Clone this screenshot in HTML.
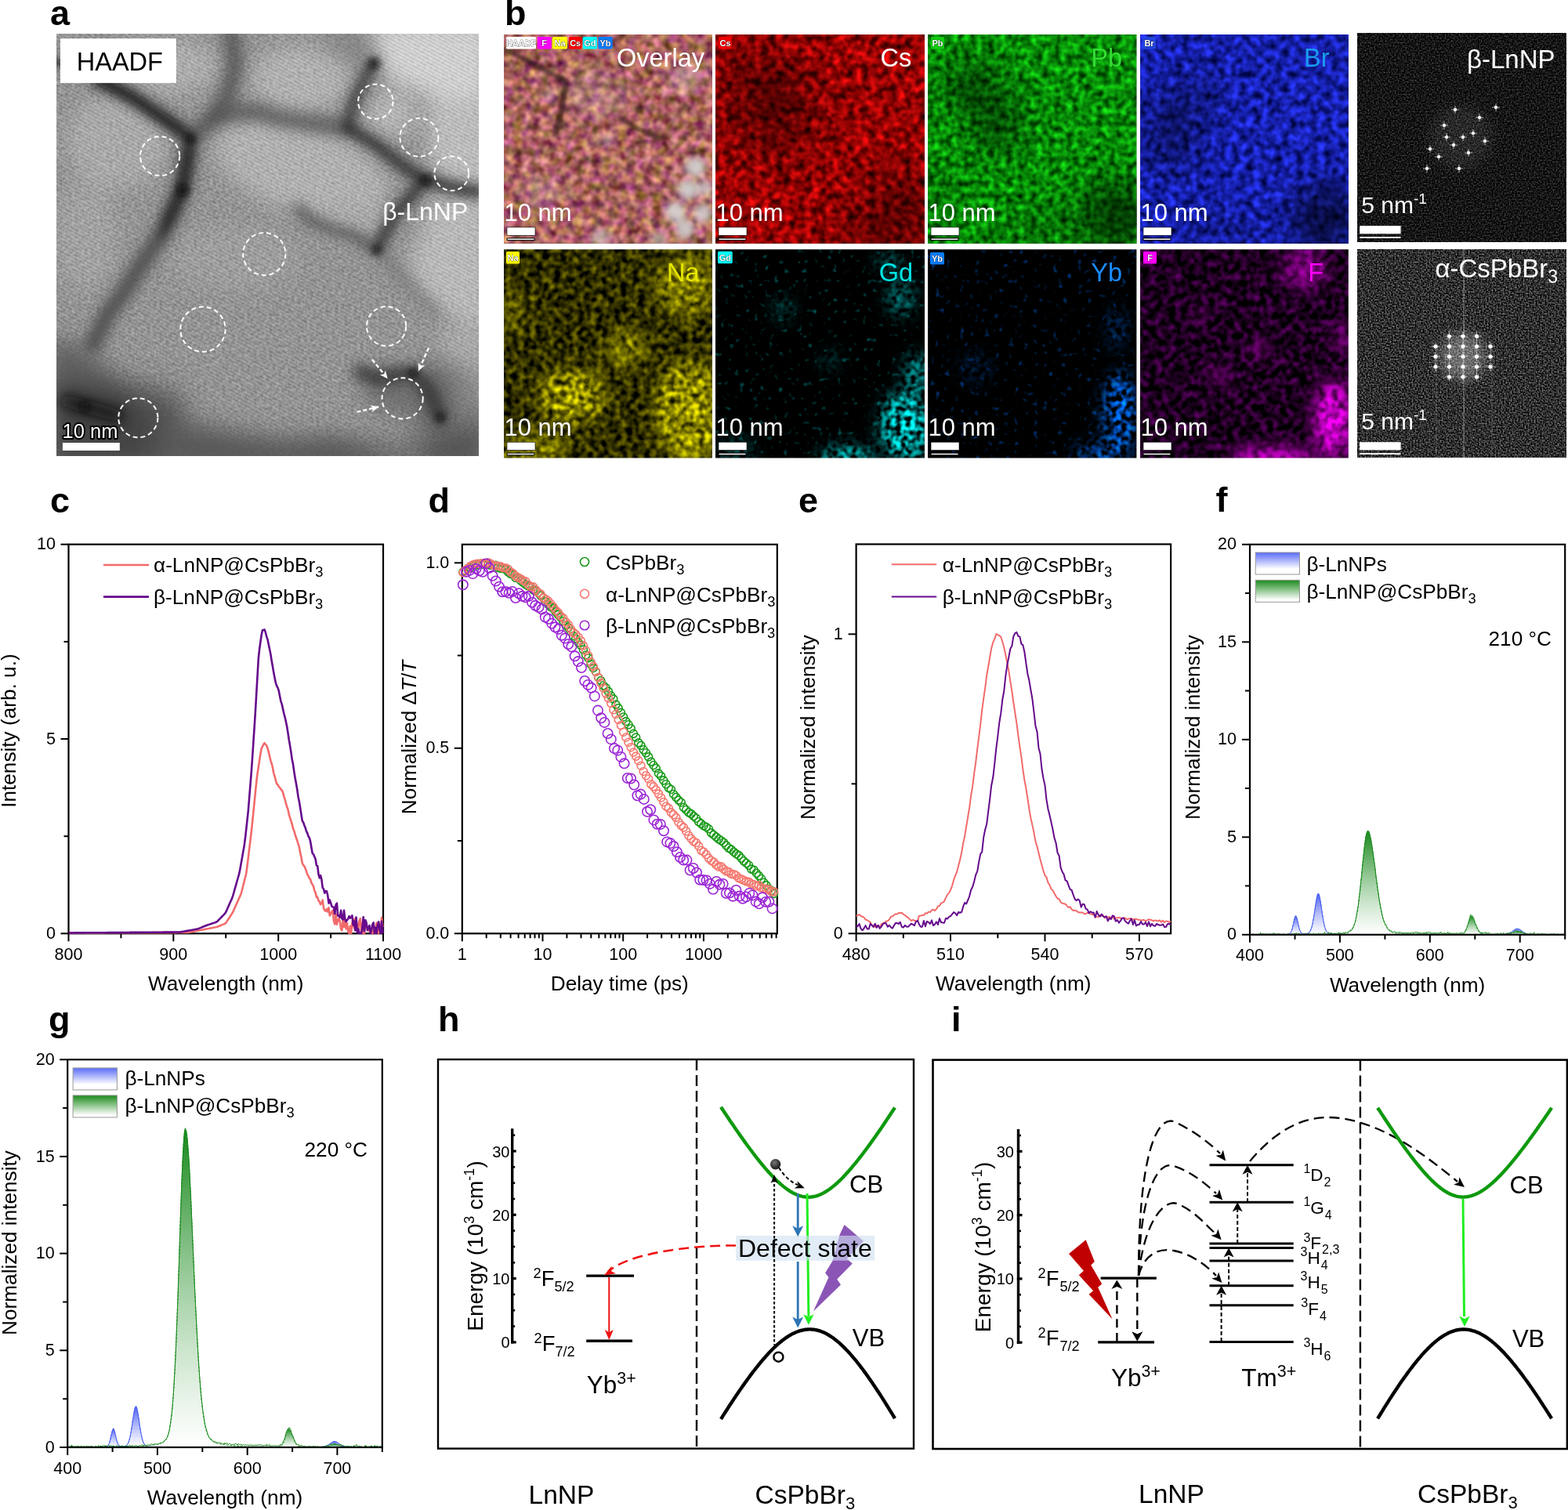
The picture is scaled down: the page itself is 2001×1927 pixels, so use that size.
<!DOCTYPE html>
<html><head><meta charset="utf-8"><title>Figure</title>
<style>html,body{margin:0;padding:0;background:#fff;}svg{display:block;}
text{font-family:"Liberation Sans", Arial, sans-serif;}</style></head>
<body><svg xmlns="http://www.w3.org/2000/svg" width="2001" height="1927" viewBox="0 0 2001 1927">
<rect width="2001" height="1927" fill="#fff"/>
<defs><clipPath id="clipA"><rect x="72.2" y="43.4" width="538.8" height="538.6"/></clipPath>
<filter id="nA" x="0" y="0" width="1" height="1" color-interpolation-filters="sRGB"><feTurbulence type="fractalNoise" baseFrequency="0.25" numOctaves="2" seed="4"/><feGaussianBlur stdDeviation="0.6"/><feColorMatrix type="matrix" values="0.4653 0 0 0 0.2693 0.4653 0 0 0 0.2693 0.4653 0 0 0 0.2693 0 0 0 0 1"/></filter>
<filter id="bA8" x="-50%" y="-50%" width="200%" height="200%"><feGaussianBlur stdDeviation="8"/></filter>
<filter id="bA4" x="-50%" y="-50%" width="200%" height="200%"><feGaussianBlur stdDeviation="4"/></filter>
<filter id="bA6" x="-50%" y="-50%" width="200%" height="200%"><feGaussianBlur stdDeviation="6"/></filter>
<filter id="bA12" x="-50%" y="-50%" width="200%" height="200%"><feGaussianBlur stdDeviation="12"/></filter>
<filter id="bA15" x="-50%" y="-50%" width="200%" height="200%"><feGaussianBlur stdDeviation="15"/></filter>
<pattern id="fringe" patternUnits="userSpaceOnUse" width="4.2" height="4.2" patternTransform="rotate(-62)"><rect width="4.2" height="4.2" fill="#fff" opacity="0"/><rect width="2" height="4.2" fill="#000" opacity="0.09"/></pattern>
<filter id="bB10" x="-50%" y="-50%" width="200%" height="200%"><feGaussianBlur stdDeviation="10"/></filter>
<filter id="bB3" x="-50%" y="-50%" width="200%" height="200%"><feGaussianBlur stdDeviation="2.5"/></filter>
<filter id="bB20" x="-50%" y="-50%" width="200%" height="200%"><feGaussianBlur stdDeviation="20"/></filter>
<filter id="bB30" x="-50%" y="-50%" width="200%" height="200%"><feGaussianBlur stdDeviation="30"/></filter>
<filter id="n0" x="0" y="0" width="1" height="1" color-interpolation-filters="sRGB"><feTurbulence type="fractalNoise" baseFrequency="0.09" numOctaves="2" seed="21"/><feGaussianBlur stdDeviation="1.2"/><feColorMatrix type="matrix" values="0.9970 0.0000 0.0000 0 0.1603 0.7976 0.3988 0.0000 0 -0.2139 0.6647 -0.2326 0.3323 0 -0.0136 0 0 0 0 1"/></filter>
<clipPath id="c0"><rect x="643" y="44" width="266" height="266.7"/></clipPath>
<filter id="n1" x="0" y="0" width="1" height="1" color-interpolation-filters="sRGB"><feTurbulence type="fractalNoise" baseFrequency="0.11" numOctaves="2" seed="31"/><feGaussianBlur stdDeviation="1.0"/><feColorMatrix type="matrix" values="1.5952 0 0 0 -0.2094 0.1329 0 0 0 -0.0508 0.1329 0 0 0 -0.0508 0 0 0 0 1"/></filter>
<clipPath id="c1"><rect x="913" y="44" width="267" height="266.7"/></clipPath>
<filter id="n2" x="0" y="0" width="1" height="1" color-interpolation-filters="sRGB"><feTurbulence type="fractalNoise" baseFrequency="0.13" numOctaves="2" seed="41"/><feGaussianBlur stdDeviation="1.0"/><feColorMatrix type="matrix" values="0.1994 0 0 0 -0.0683 1.3293 0 0 0 -0.1235 0.1994 0 0 0 -0.0683 0 0 0 0 1"/></filter>
<clipPath id="c2"><rect x="1184" y="44" width="266.4" height="266.7"/></clipPath>
<filter id="n3" x="0" y="0" width="1" height="1" color-interpolation-filters="sRGB"><feTurbulence type="fractalNoise" baseFrequency="0.11" numOctaves="2" seed="51"/><feGaussianBlur stdDeviation="1.0"/><feColorMatrix type="matrix" values="0.3323 0 0 0 -0.0799 0.3988 0 0 0 -0.0739 1.4955 0 0 0 -0.0811 0 0 0 0 1"/></filter>
<clipPath id="c3"><rect x="1455" y="44" width="265.8" height="266.7"/></clipPath>
<filter id="n4" x="0" y="0" width="1" height="1" color-interpolation-filters="sRGB"><feTurbulence type="fractalNoise" baseFrequency="0.13" numOctaves="2" seed="61"/><feGaussianBlur stdDeviation="1.0"/><feColorMatrix type="matrix" values="1.0635 0 0 0 -0.3435 0.9970 0 0 0 -0.3181 0.0000 0 0 0 0.0000 0 0 0 0 1"/></filter>
<clipPath id="c4"><rect x="643" y="318.2" width="266" height="266.3"/></clipPath>
<filter id="nd4" x="0" y="0" width="1" height="1" color-interpolation-filters="sRGB"><feTurbulence type="fractalNoise" baseFrequency="0.13" numOctaves="2" seed="62"/><feGaussianBlur stdDeviation="1.0"/><feColorMatrix type="matrix" values="1.9940 0 0 0 -0.4480 1.9276 0 0 0 -0.4344 0.0000 0 0 0 0.0000 0 0 0 0 1"/></filter>
<mask id="m4" maskUnits="userSpaceOnUse" x="643" y="318.2" width="266" height="266.3"><rect x="643" y="318.2" width="266" height="266.3" fill="#000"/><g filter="url(#bB10)"><ellipse cx="880" cy="525" rx="45" ry="65" fill="#fff" opacity="1.0"/><ellipse cx="730" cy="505" rx="45" ry="35" fill="#fff" opacity="1.0"/><ellipse cx="875" cy="365" rx="40" ry="40" fill="#fff" opacity="0.8"/><ellipse cx="680" cy="575" rx="45" ry="20" fill="#fff" opacity="0.85"/><ellipse cx="800" cy="445" rx="28" ry="22" fill="#fff" opacity="0.8"/><ellipse cx="650" cy="400" rx="20" ry="30" fill="#fff" opacity="0.5"/></g></mask>
<filter id="n5" x="0" y="0" width="1" height="1" color-interpolation-filters="sRGB"><feTurbulence type="fractalNoise" baseFrequency="0.16" numOctaves="2" seed="71"/><feGaussianBlur stdDeviation="1.0"/><feColorMatrix type="matrix" values="0.0000 0 0 0 0.0000 1.8278 0 0 0 -1.1100 1.8278 0 0 0 -1.1100 0 0 0 0 1"/></filter>
<clipPath id="c5"><rect x="913" y="318.2" width="267" height="266.3"/></clipPath>
<filter id="nd5" x="0" y="0" width="1" height="1" color-interpolation-filters="sRGB"><feTurbulence type="fractalNoise" baseFrequency="0.16" numOctaves="2" seed="72"/><feGaussianBlur stdDeviation="1.0"/><feColorMatrix type="matrix" values="0.0000 0 0 0 0.0000 3.3234 0 0 0 -1.1519 3.3234 0 0 0 -1.1519 0 0 0 0 1"/></filter>
<mask id="m5" maskUnits="userSpaceOnUse" x="913" y="318.2" width="267" height="266.3"><rect x="913" y="318.2" width="267" height="266.3" fill="#000"/><g filter="url(#bB10)"><ellipse cx="1155" cy="545" rx="32" ry="45" fill="#fff" opacity="1.0"/><ellipse cx="1080" cy="585" rx="35" ry="15" fill="#fff" opacity="0.9"/><ellipse cx="1170" cy="480" rx="15" ry="30" fill="#fff" opacity="0.7"/><ellipse cx="1150" cy="380" rx="18" ry="25" fill="#fff" opacity="0.5"/><ellipse cx="1135" cy="335" rx="15" ry="12" fill="#fff" opacity="0.5"/><ellipse cx="1000" cy="395" rx="12" ry="15" fill="#fff" opacity="0.4"/><ellipse cx="1060" cy="460" rx="12" ry="12" fill="#fff" opacity="0.3"/><ellipse cx="940" cy="575" rx="25" ry="12" fill="#fff" opacity="0.4"/></g></mask>
<filter id="n6" x="0" y="0" width="1" height="1" color-interpolation-filters="sRGB"><feTurbulence type="fractalNoise" baseFrequency="0.16" numOctaves="2" seed="81"/><feGaussianBlur stdDeviation="1.0"/><feColorMatrix type="matrix" values="0.0000 0 0 0 0.0000 0.9970 0 0 0 -0.5965 2.3264 0 0 0 -1.3985 0 0 0 0 1"/></filter>
<clipPath id="c6"><rect x="1184" y="318.2" width="266.4" height="266.3"/></clipPath>
<filter id="nd6" x="0" y="0" width="1" height="1" color-interpolation-filters="sRGB"><feTurbulence type="fractalNoise" baseFrequency="0.16" numOctaves="2" seed="82"/><feGaussianBlur stdDeviation="1.0"/><feColorMatrix type="matrix" values="0.0000 0 0 0 0.0000 1.8278 0 0 0 -0.6982 4.3204 0 0 0 -1.6504 0 0 0 0 1"/></filter>
<mask id="m6" maskUnits="userSpaceOnUse" x="1184" y="318.2" width="266.4" height="266.3"><rect x="1184" y="318.2" width="266.4" height="266.3" fill="#000"/><g filter="url(#bB10)"><ellipse cx="1430" cy="525" rx="22" ry="50" fill="#fff" opacity="1.0"/><ellipse cx="1405" cy="580" rx="35" ry="15" fill="#fff" opacity="0.8"/><ellipse cx="1425" cy="420" rx="12" ry="30" fill="#fff" opacity="0.4"/><ellipse cx="1245" cy="470" rx="20" ry="20" fill="#fff" opacity="0.25"/></g></mask>
<filter id="n7" x="0" y="0" width="1" height="1" color-interpolation-filters="sRGB"><feTurbulence type="fractalNoise" baseFrequency="0.12" numOctaves="2" seed="91"/><feGaussianBlur stdDeviation="1.0"/><feColorMatrix type="matrix" values="0.8641 0 0 0 -0.3222 0.0000 0 0 0 0.0000 0.9305 0 0 0 -0.3476 0 0 0 0 1"/></filter>
<clipPath id="c7"><rect x="1455" y="318.2" width="265.8" height="266.3"/></clipPath>
<filter id="nd7" x="0" y="0" width="1" height="1" color-interpolation-filters="sRGB"><feTurbulence type="fractalNoise" baseFrequency="0.12" numOctaves="2" seed="92"/><feGaussianBlur stdDeviation="1.0"/><feColorMatrix type="matrix" values="1.8278 0 0 0 -0.1688 0.0000 0 0 0 0.0000 1.8278 0 0 0 -0.1688 0 0 0 0 1"/></filter>
<mask id="m7" maskUnits="userSpaceOnUse" x="1455" y="318.2" width="265.8" height="266.3"><rect x="1455" y="318.2" width="265.8" height="266.3" fill="#000"/><g filter="url(#bB10)"><ellipse cx="1702" cy="535" rx="25" ry="50" fill="#fff" opacity="1.0"/><ellipse cx="1625" cy="585" rx="55" ry="14" fill="#fff" opacity="0.9"/><ellipse cx="1665" cy="345" rx="28" ry="25" fill="#fff" opacity="0.6"/><ellipse cx="1555" cy="480" rx="14" ry="13" fill="#fff" opacity="0.45"/><ellipse cx="1608" cy="445" rx="13" ry="13" fill="#fff" opacity="0.45"/><ellipse cx="1712" cy="430" rx="12" ry="20" fill="#fff" opacity="0.45"/><ellipse cx="1530" cy="400" rx="10" ry="10" fill="#fff" opacity="0.35"/></g></mask>
<filter id="nF0" x="0" y="0" width="1" height="1" color-interpolation-filters="sRGB"><feTurbulence type="fractalNoise" baseFrequency="0.5" numOctaves="1" seed="100"/><feGaussianBlur stdDeviation="0.4"/><feColorMatrix type="matrix" values="0.5982 0 0 0 -0.2128 0.5982 0 0 0 -0.2128 0.5982 0 0 0 -0.2128 0 0 0 0 1"/></filter>
<filter id="nF1" x="0" y="0" width="1" height="1" color-interpolation-filters="sRGB"><feTurbulence type="fractalNoise" baseFrequency="0.5" numOctaves="1" seed="101"/><feGaussianBlur stdDeviation="0.4"/><feColorMatrix type="matrix" values="0.9970 0 0 0 -0.3103 0.9970 0 0 0 -0.3103 0.9970 0 0 0 -0.3103 0 0 0 0 1"/></filter>
<clipPath id="sp5"><rect x="1595" y="692.8" width="402.2" height="500.5"/></clipPath>
<clipPath id="sp9"><rect x="86.2" y="1347" width="401.6" height="500.5"/></clipPath>
<linearGradient id="gb" x1="0" y1="0" x2="0" y2="1"><stop offset="0" stop-color="#4a5ef0"/><stop offset="1" stop-color="#fff" stop-opacity="0.6"/></linearGradient>
<linearGradient id="gg" x1="0" y1="0" x2="0" y2="1"><stop offset="0" stop-color="#16881a"/><stop offset="1" stop-color="#fff" stop-opacity="0.6"/></linearGradient>
<linearGradient id="gbl" x1="0" y1="0" x2="0" y2="1"><stop offset="0" stop-color="#5a6cf6"/><stop offset="0.75" stop-color="#fff"/></linearGradient>
<linearGradient id="ggl" x1="0" y1="0" x2="0" y2="1"><stop offset="0" stop-color="#1b8a1b"/><stop offset="0.9" stop-color="#fff"/></linearGradient></defs>
<text x="64" y="32" font-size="45" text-anchor="start" fill="#000" font-weight="bold" >a</text>
<g clip-path="url(#clipA)">
<rect x="72.2" y="43.4" width="538.8" height="538.6" fill="#9a9a9a"/>
<g filter="url(#bA12)"><path d="M470,30 L625,30 L625,140 L585,135 L545,120 L505,105 L482,85 Z" fill="#d8d8d8"/><path d="M545,125 L625,125 L625,240 L560,232 L548,200 Z" fill="#c4c4c4"/><path d="M555,250 L625,250 L625,420 L585,410 L540,380 L520,340 Z" fill="#c0c0c0"/><path d="M560,420 L625,420 L625,520 L590,530 L565,480 Z" fill="#b2b2b2"/><ellipse cx="500" cy="145" rx="32" ry="30" fill="#bcbcbc"/><ellipse cx="385" cy="100" rx="65" ry="42" fill="#b8b8b8"/><ellipse cx="385" cy="215" rx="115" ry="55" transform="rotate(18 385 215)" fill="#b8b8b8"/><ellipse cx="215" cy="85" rx="65" ry="35" fill="#b4b4b4"/><ellipse cx="150" cy="180" rx="65" ry="60" fill="#b0b0b0"/><ellipse cx="110" cy="300" rx="40" ry="70" fill="#a8a8a8"/><ellipse cx="450" cy="280" rx="45" ry="25" fill="#b0b0b0"/><ellipse cx="300" cy="330" rx="80" ry="40" fill="#a4a4a4"/></g>
<rect x="72.2" y="43.4" width="538.8" height="538.6" fill="url(#fringe)"/>
<rect x="72.2" y="43.4" width="538.8" height="538.6" filter="url(#nA)" style="mix-blend-mode:overlay" opacity="0.7"/>
<g filter="url(#bA15)"><path d="M60,430 L100,440 L140,470 L170,500 L220,530 L300,550 L360,560 L430,555 L480,570 L480,600 L60,600 Z" fill="#5a5a5a" opacity="0.9"/><path d="M60,480 L110,490 L160,520 L200,560 L200,600 L60,600 Z" fill="#404040" opacity="0.8"/><path d="M545,555 L625,540 L625,600 L545,600 Z" fill="#4a4a4a" opacity="0.8"/><path d="M400,43 L470,43 L478,80 L440,72 Z" fill="#7a7a7a" opacity="0.7"/><ellipse cx="495" cy="500" rx="30" ry="30" fill="#606060" opacity="0.7"/><ellipse cx="555" cy="500" rx="20" ry="40" fill="#606060" opacity="0.6"/><ellipse cx="570" cy="520" rx="55" ry="60" fill="#555" opacity="0.45"/><path d="M200,565 L400,560 L611,570 L611,600 L200,600 Z" fill="#505050" opacity="0.6"/><ellipse cx="160" cy="520" rx="80" ry="35" fill="#3a3a3a" opacity="0.55"/></g>
<g filter="url(#bA8)" fill="none" stroke-linecap="round" stroke-linejoin="round">
<path d="M125,102 L137,107 L172,126 L201,146 L229,165 L243,177" stroke="#202020" stroke-width="17.099999999999998" opacity="1"/>
<path d="M243,177 L238,210 L232,243 L220,270 L206,300" stroke="#252525" stroke-width="19.0" opacity="1"/>
<path d="M206,300 L185,330 L160,370 L138,400 L118,440" stroke="#505050" stroke-width="22.799999999999997" opacity="0.85"/>
<path d="M295,43 L300,80 L292,118 L272,151 L243,177" stroke="#4a4a4a" stroke-width="22.799999999999997" opacity="0.7"/>
<path d="M272,151 L300,143 L330,143 L357,151 L400,158 L443,163" stroke="#505050" stroke-width="22.799999999999997" opacity="0.7"/>
<path d="M443,163 L452,128 L466,100 L477,80" stroke="#3a3a3a" stroke-width="15.2" opacity="0.8"/>
<path d="M443,163 L480,185 L517,214 L543,229 L580,240 L611,245" stroke="#2e2e2e" stroke-width="15.2" opacity="0.85"/>
<path d="M543,229 L525,250 L505,272 L490,300 L481,319" stroke="#333" stroke-width="15.2" opacity="0.85"/>
<path d="M380,266 L395,280 L420,292 L450,300 L481,319" stroke="#444" stroke-width="13.299999999999999" opacity="0.8"/>
<path d="M481,319 L500,340 L527,369 L555,398" stroke="#666" stroke-width="15.2" opacity="0.5"/>
<path d="M85,512 L110,519 L150,530" stroke="#101010" stroke-width="15.2" opacity="0.9"/>
<path d="M460,475 L480,483 L500,480 L527,476 L545,495 L562,533" stroke="#2a2a2a" stroke-width="19.0" opacity="0.8"/>
</g>
<g filter="url(#bA4)" fill="none" stroke-linecap="round" stroke-linejoin="round">
<path d="M125,102 L137,107 L172,126 L201,146 L229,165 L243,177" stroke="#202020" stroke-width="7.2" opacity="0.6"/>
<path d="M243,177 L238,210 L232,243 L220,270 L206,300" stroke="#252525" stroke-width="8.0" opacity="0.6"/>
<path d="M206,300 L185,330 L160,370 L138,400 L118,440" stroke="#505050" stroke-width="9.600000000000001" opacity="0.51"/>
<path d="M443,163 L452,128 L466,100 L477,80" stroke="#3a3a3a" stroke-width="6.4" opacity="0.48"/>
<path d="M443,163 L480,185 L517,214 L543,229 L580,240 L611,245" stroke="#2e2e2e" stroke-width="6.4" opacity="0.51"/>
<path d="M543,229 L525,250 L505,272 L490,300 L481,319" stroke="#333" stroke-width="6.4" opacity="0.51"/>
</g>
<g filter="url(#bA4)" fill="#0c0c0c"><circle cx="477" cy="81" r="6"/><circle cx="543" cy="230" r="6"/><circle cx="481" cy="319" r="5"/><circle cx="243" cy="177" r="5"/><circle cx="233" cy="243" r="7"/><circle cx="562" cy="533" r="5"/><circle cx="527" cy="476" r="5"/><circle cx="108" cy="519" r="6"/><circle cx="75" cy="80" r="5"/></g>
</g>
<rect x="77" y="49.2" width="147.8" height="56.7" fill="#fff"/>
<text x="97.8" y="89.6" font-size="32.5" text-anchor="start" fill="#000" font-weight="normal" >HAADF</text>
<text x="488.2" y="280.8" font-size="32" text-anchor="start" fill="#fff" font-weight="normal" >&#946;-LnNP</text>
<circle cx="479.3" cy="129.6" r="22.2" fill="none" stroke="#fff" stroke-width="2" stroke-dasharray="6,4"/>
<circle cx="534.9" cy="175.3" r="24.5" fill="none" stroke="#fff" stroke-width="2" stroke-dasharray="6,4"/>
<circle cx="576.3" cy="221.4" r="21.9" fill="none" stroke="#fff" stroke-width="2" stroke-dasharray="6,4"/>
<circle cx="204.1" cy="199.2" r="25.1" fill="none" stroke="#fff" stroke-width="2" stroke-dasharray="6,4"/>
<circle cx="337.3" cy="324.2" r="27.1" fill="none" stroke="#fff" stroke-width="2" stroke-dasharray="6,4"/>
<circle cx="258.9" cy="420.2" r="28.7" fill="none" stroke="#fff" stroke-width="2" stroke-dasharray="6,4"/>
<circle cx="493.1" cy="416.3" r="25.1" fill="none" stroke="#fff" stroke-width="2" stroke-dasharray="6,4"/>
<circle cx="513.6" cy="508.4" r="26.1" fill="none" stroke="#fff" stroke-width="2" stroke-dasharray="6,4"/>
<circle cx="176.3" cy="533.2" r="25.1" fill="none" stroke="#fff" stroke-width="2" stroke-dasharray="6,4"/>
<line x1="475" y1="458.8" x2="494.7" y2="483.3" stroke="#fff" stroke-width="2.4" stroke-dasharray="5,3"/>
<path d="M494.7,483.3 L484.9,478.3 L490,477.5 L491.9,472.7 Z" fill="#fff"/>
<line x1="547" y1="444" x2="533.9" y2="473.5" stroke="#fff" stroke-width="2.4" stroke-dasharray="5,3"/>
<path d="M533.9,473.5 L533.8,462.5 L536.9,466.6 L542.1,466.2 Z" fill="#fff"/>
<line x1="455.5" y1="525.7" x2="483.3" y2="519.2" stroke="#fff" stroke-width="2.4" stroke-dasharray="5,3"/>
<path d="M483.3,519.2 L474.6,525.9 L476,520.9 L472.5,517.1 Z" fill="#fff"/>
<text x="79.5" y="559" font-size="25.5" fill="#fff" stroke="#000" stroke-width="4" stroke-linejoin="round" paint-order="stroke">10 nm</text>
<rect x="79.9" y="565" width="72.9" height="10" fill="#fff"/>
<text x="644" y="32" font-size="45" text-anchor="start" fill="#000" font-weight="bold" >b</text>
<g clip-path="url(#c0)">
<rect x="643" y="44" width="266" height="266.7" fill="#000"/>

<rect x="643" y="44" width="266" height="266.7" filter="url(#n0)"/>
<g filter="url(#bB10)"><ellipse cx="760" cy="120" rx="40" ry="30" fill="#e0c8d8" opacity="0.25"/><ellipse cx="690" cy="245" rx="25" ry="20" fill="#e0c8d8" opacity="0.3"/><ellipse cx="875" cy="100" rx="22" ry="18" fill="#e0c8d8" opacity="0.45"/></g><g filter="url(#bA4)" fill="#d4d4d4"><circle cx="887" cy="213" r="13" opacity="0.9"/><circle cx="878" cy="242" r="13" opacity="0.9"/><circle cx="862" cy="270" r="13" opacity="0.9"/><circle cx="874" cy="292" r="12" opacity="0.9"/><circle cx="897" cy="272" r="12" opacity="0.85"/><circle cx="900" cy="240" r="10" opacity="0.8"/><circle cx="767" cy="303" r="12" opacity="0.6"/><circle cx="840" cy="305" r="10" opacity="0.6"/><circle cx="700" cy="120" r="8" opacity="0.4"/><circle cx="775" cy="178" r="8" opacity="0.45"/></g><g filter="url(#bB3)" fill="none" stroke="#1a0a08" opacity="0.85" stroke-linecap="round"><path d="M643,62 C670,75 700,92 722,105 C720,125 716,145 709,171" stroke-width="5"/><path d="M722,105 C750,108 780,110 800,112" stroke-width="3" opacity="0.6"/><path d="M791,150 C805,160 825,170 844,178" stroke-width="4"/><path d="M844,178 C855,160 865,145 875,134" stroke-width="3" opacity="0.7"/></g>
</g>
<text x="899" y="85" font-size="32.5" text-anchor="end" fill="#fff" font-weight="normal" >Overlay</text>
<text x="643.5" y="282" font-size="31" text-anchor="start" fill="#fff" font-weight="normal" >10 nm</text>
<rect x="647" y="290" width="36" height="10.4" fill="#fff" stroke="#000" stroke-width="0.6"/>
<rect x="647" y="304" width="35" height="2.6" fill="#fff" stroke="#000" stroke-width="1"/>
<rect x="646" y="47" width="38" height="15.5" rx="1.5" fill="#fff"/>
<text x="665" y="59" font-size="11" font-weight="bold" text-anchor="middle" fill="#fff" stroke="#000" stroke-width="0.6" paint-order="stroke">HAADF</text>
<rect x="685.6" y="47" width="18" height="15.5" rx="1.5" fill="#ff00ff"/>
<text x="694.6" y="59" font-size="11" font-weight="bold" text-anchor="middle" fill="#fff" stroke="#000" stroke-width="0.6" paint-order="stroke">F</text>
<rect x="705" y="47" width="19" height="15.5" rx="1.5" fill="#ffff00"/>
<text x="714.5" y="59" font-size="11" font-weight="bold" text-anchor="middle" fill="#fff" stroke="#000" stroke-width="0.6" paint-order="stroke">Na</text>
<rect x="726" y="47" width="16.4" height="15.5" rx="1.5" fill="#ff0000"/>
<text x="734.2" y="59" font-size="11" font-weight="bold" text-anchor="middle" fill="#fff" stroke="#000" stroke-width="0.6" paint-order="stroke">Cs</text>
<rect x="743.8" y="47" width="18.2" height="15.5" rx="1.5" fill="#00ffff"/>
<text x="752.9" y="59" font-size="11" font-weight="bold" text-anchor="middle" fill="#fff" stroke="#000" stroke-width="0.6" paint-order="stroke">Gd</text>
<rect x="763.4" y="47" width="18.3" height="15.5" rx="1.5" fill="#0a7cff"/>
<text x="772.5" y="59" font-size="11" font-weight="bold" text-anchor="middle" fill="#fff" stroke="#000" stroke-width="0.6" paint-order="stroke">Yb</text>
<g clip-path="url(#c1)">
<rect x="913" y="44" width="267" height="266.7" fill="#000"/>

<rect x="913" y="44" width="267" height="266.7" filter="url(#n1)"/>
<g filter="url(#bB30)"><ellipse cx="990" cy="140" rx="45" ry="60" fill="#000" opacity="0.5"/><ellipse cx="960" cy="100" rx="40" ry="35" fill="#000" opacity="0.3"/><ellipse cx="1150" cy="270" rx="45" ry="55" fill="#000" opacity="0.45"/><ellipse cx="1100" cy="300" rx="60" ry="20" fill="#000" opacity="0.3"/></g>
</g>
<text x="1163.3" y="85" font-size="32.5" text-anchor="end" fill="#fff" font-weight="normal" >Cs</text>
<text x="913.5" y="282" font-size="31" text-anchor="start" fill="#fff" font-weight="normal" >10 nm</text>
<rect x="917" y="290" width="36" height="10.4" fill="#fff" stroke="#000" stroke-width="0.6"/>
<rect x="917" y="304" width="35" height="2.6" fill="#fff" stroke="#000" stroke-width="1"/>
<rect x="917" y="47" width="17" height="15.5" rx="1.5" fill="#ee0000"/>
<text x="925.5" y="59" font-size="11" font-weight="bold" text-anchor="middle" fill="#fff" stroke="#000" stroke-width="0.6" paint-order="stroke">Cs</text>
<g clip-path="url(#c2)">
<rect x="1184" y="44" width="266.4" height="266.7" fill="#000"/>

<rect x="1184" y="44" width="266.4" height="266.7" filter="url(#n2)"/>
<g filter="url(#bB20)"><ellipse cx="1240" cy="110" rx="35" ry="30" fill="#000" opacity="0.55"/><ellipse cx="1275" cy="160" rx="30" ry="35" fill="#000" opacity="0.55"/><ellipse cx="1425" cy="275" rx="45" ry="45" fill="#000" opacity="0.6"/><ellipse cx="1330" cy="290" rx="60" ry="20" fill="#000" opacity="0.25"/><ellipse cx="1200" cy="250" rx="25" ry="40" fill="#000" opacity="0.2"/></g>
</g>
<text x="1432" y="85" font-size="32.5" text-anchor="end" fill="#33dd33" font-weight="normal" >Pb</text>
<text x="1184.5" y="282" font-size="31" text-anchor="start" fill="#fff" font-weight="normal" >10 nm</text>
<rect x="1188" y="290" width="36" height="10.4" fill="#fff" stroke="#000" stroke-width="0.6"/>
<rect x="1188" y="304" width="35" height="2.6" fill="#fff" stroke="#000" stroke-width="1"/>
<rect x="1188" y="47" width="17" height="15.5" rx="1.5" fill="#11cc11"/>
<text x="1196.5" y="59" font-size="11" font-weight="bold" text-anchor="middle" fill="#fff" stroke="#000" stroke-width="0.6" paint-order="stroke">Pb</text>
<g clip-path="url(#c3)">
<rect x="1455" y="44" width="265.8" height="266.7" fill="#000"/>

<rect x="1455" y="44" width="265.8" height="266.7" filter="url(#n3)"/>
<g filter="url(#bB20)"><ellipse cx="1495" cy="170" rx="35" ry="50" fill="#000" opacity="0.4"/><ellipse cx="1690" cy="280" rx="40" ry="45" fill="#000" opacity="0.65"/><ellipse cx="1560" cy="300" rx="50" ry="20" fill="#000" opacity="0.25"/><ellipse cx="1530" cy="120" rx="30" ry="25" fill="#000" opacity="0.3"/></g>
</g>
<text x="1696.5" y="85" font-size="32.5" text-anchor="end" fill="#1a9cf0" font-weight="normal" >Br</text>
<text x="1455.5" y="282" font-size="31" text-anchor="start" fill="#fff" font-weight="normal" >10 nm</text>
<rect x="1459" y="290" width="36" height="10.4" fill="#fff" stroke="#000" stroke-width="0.6"/>
<rect x="1459" y="304" width="35" height="2.6" fill="#fff" stroke="#000" stroke-width="1"/>
<rect x="1458" y="47" width="17" height="15.5" rx="1.5" fill="#2244dd"/>
<text x="1466.5" y="59" font-size="11" font-weight="bold" text-anchor="middle" fill="#fff" stroke="#000" stroke-width="0.6" paint-order="stroke">Br</text>
<g clip-path="url(#c4)">
<rect x="643" y="318.2" width="266" height="266.3" fill="#000"/>

<rect x="643" y="318.2" width="266" height="266.3" filter="url(#n4)"/>
<rect x="643" y="318.2" width="266" height="266.3" filter="url(#nd4)" mask="url(#m4)" style="mix-blend-mode:lighten"/>

</g>
<text x="892.5" y="359.2" font-size="32.5" text-anchor="end" fill="#e6e600" font-weight="normal" >Na</text>
<text x="643.5" y="556.2" font-size="31" text-anchor="start" fill="#fff" font-weight="normal" >10 nm</text>
<rect x="647" y="564.2" width="36" height="10.4" fill="#fff" stroke="#000" stroke-width="0.6"/>
<rect x="647" y="578.2" width="35" height="2.6" fill="#fff" stroke="#000" stroke-width="1"/>
<rect x="646" y="321" width="17" height="15.5" rx="1.5" fill="#ffff00"/>
<text x="654.5" y="333" font-size="11" font-weight="bold" text-anchor="middle" fill="#fff" stroke="#000" stroke-width="0.6" paint-order="stroke">Na</text>
<g clip-path="url(#c5)">
<rect x="913" y="318.2" width="267" height="266.3" fill="#000"/>

<rect x="913" y="318.2" width="267" height="266.3" filter="url(#n5)"/>
<rect x="913" y="318.2" width="267" height="266.3" filter="url(#nd5)" mask="url(#m5)" style="mix-blend-mode:lighten"/>

</g>
<text x="1165" y="359.2" font-size="32.5" text-anchor="end" fill="#00e5e5" font-weight="normal" >Gd</text>
<text x="913.5" y="556.2" font-size="31" text-anchor="start" fill="#fff" font-weight="normal" >10 nm</text>
<rect x="917" y="564.2" width="36" height="10.4" fill="#fff" stroke="#000" stroke-width="0.6"/>
<rect x="917" y="578.2" width="35" height="2.6" fill="#fff" stroke="#000" stroke-width="1"/>
<rect x="916" y="320.8" width="18.7" height="15.5" rx="1.5" fill="#00ffff"/>
<text x="925.4" y="332.8" font-size="11" font-weight="bold" text-anchor="middle" fill="#fff" stroke="#000" stroke-width="0.6" paint-order="stroke">Gd</text>
<g clip-path="url(#c6)">
<rect x="1184" y="318.2" width="266.4" height="266.3" fill="#000"/>

<rect x="1184" y="318.2" width="266.4" height="266.3" filter="url(#n6)"/>
<rect x="1184" y="318.2" width="266.4" height="266.3" filter="url(#nd6)" mask="url(#m6)" style="mix-blend-mode:lighten"/>

</g>
<text x="1432" y="359.2" font-size="32.5" text-anchor="end" fill="#1a8cff" font-weight="normal" >Yb</text>
<text x="1184.5" y="556.2" font-size="31" text-anchor="start" fill="#fff" font-weight="normal" >10 nm</text>
<rect x="1188" y="564.2" width="36" height="10.4" fill="#fff" stroke="#000" stroke-width="0.6"/>
<rect x="1188" y="578.2" width="35" height="2.6" fill="#fff" stroke="#000" stroke-width="1"/>
<rect x="1187" y="322" width="18" height="15.5" rx="1.5" fill="#0a7cff"/>
<text x="1196" y="334" font-size="11" font-weight="bold" text-anchor="middle" fill="#fff" stroke="#000" stroke-width="0.6" paint-order="stroke">Yb</text>
<g clip-path="url(#c7)">
<rect x="1455" y="318.2" width="265.8" height="266.3" fill="#000"/>

<rect x="1455" y="318.2" width="265.8" height="266.3" filter="url(#n7)"/>
<rect x="1455" y="318.2" width="265.8" height="266.3" filter="url(#nd7)" mask="url(#m7)" style="mix-blend-mode:lighten"/>

</g>
<text x="1689" y="359.2" font-size="32.5" text-anchor="end" fill="#ff00ff" font-weight="normal" >F</text>
<text x="1455.5" y="556.2" font-size="31" text-anchor="start" fill="#fff" font-weight="normal" >10 nm</text>
<rect x="1459" y="564.2" width="36" height="10.4" fill="#fff" stroke="#000" stroke-width="0.6"/>
<rect x="1459" y="578.2" width="35" height="2.6" fill="#fff" stroke="#000" stroke-width="1"/>
<rect x="1459" y="321" width="17" height="15.5" rx="1.5" fill="#ff00ff"/>
<text x="1467.5" y="333" font-size="11" font-weight="bold" text-anchor="middle" fill="#fff" stroke="#000" stroke-width="0.6" paint-order="stroke">F</text>
<rect x="1732.2" y="42.2" width="266.8" height="266.4" filter="url(#nF0)"/>
<rect x="1735.2" y="288.2" width="52.4" height="10.2" fill="#fff"/>
<rect x="1735.2" y="302.2" width="52.4" height="1.8" fill="#fff"/>
<text x="1737.2" y="272.2" font-size="30" fill="#fff">5 nm<tspan font-size="19" dy="-12">-1</tspan></text>
<rect x="1732.2" y="318.2" width="266.8" height="265.8" filter="url(#nF1)"/>
<rect x="1735.2" y="564.2" width="52.4" height="10.2" fill="#fff"/>
<rect x="1735.2" y="578.2" width="52.4" height="1.8" fill="#fff"/>
<text x="1737.2" y="548.2" font-size="30" fill="#fff">5 nm<tspan font-size="19" dy="-12">-1</tspan></text>
<circle cx="1865" cy="175" r="40" fill="#fff" opacity="0.08" filter="url(#bA8)"/>
<circle cx="1843" cy="160" r="2.2" fill="#fff" opacity="0.9"/>
<path d="M1838,160 h10 M1843,155 v10" stroke="#fff" stroke-width="1" opacity="0.6"/>
<circle cx="1857" cy="140" r="2.2" fill="#fff" opacity="0.9"/>
<path d="M1852,140 h10 M1857,135 v10" stroke="#fff" stroke-width="1" opacity="0.6"/>
<circle cx="1867" cy="175" r="2.2" fill="#fff" opacity="0.9"/>
<path d="M1862,175 h10 M1867,170 v10" stroke="#fff" stroke-width="1" opacity="0.6"/>
<circle cx="1880" cy="170" r="2.2" fill="#fff" opacity="0.9"/>
<path d="M1875,170 h10 M1880,165 v10" stroke="#fff" stroke-width="1" opacity="0.6"/>
<circle cx="1888" cy="150" r="2.2" fill="#fff" opacity="0.9"/>
<path d="M1883,150 h10 M1888,145 v10" stroke="#fff" stroke-width="1" opacity="0.6"/>
<circle cx="1855" cy="185" r="2.2" fill="#fff" opacity="0.9"/>
<path d="M1850,185 h10 M1855,180 v10" stroke="#fff" stroke-width="1" opacity="0.6"/>
<circle cx="1874" cy="195" r="2.2" fill="#fff" opacity="0.9"/>
<path d="M1869,195 h10 M1874,190 v10" stroke="#fff" stroke-width="1" opacity="0.6"/>
<circle cx="1895" cy="180" r="2.2" fill="#fff" opacity="0.9"/>
<path d="M1890,180 h10 M1895,175 v10" stroke="#fff" stroke-width="1" opacity="0.6"/>
<circle cx="1825" cy="190" r="2.2" fill="#fff" opacity="0.9"/>
<path d="M1820,190 h10 M1825,185 v10" stroke="#fff" stroke-width="1" opacity="0.6"/>
<circle cx="1821" cy="215" r="2.2" fill="#fff" opacity="0.9"/>
<path d="M1816,215 h10 M1821,210 v10" stroke="#fff" stroke-width="1" opacity="0.6"/>
<circle cx="1909" cy="137" r="2.2" fill="#fff" opacity="0.9"/>
<path d="M1904,137 h10 M1909,132 v10" stroke="#fff" stroke-width="1" opacity="0.6"/>
<circle cx="1862" cy="215" r="2.2" fill="#fff" opacity="0.9"/>
<path d="M1857,215 h10 M1862,210 v10" stroke="#fff" stroke-width="1" opacity="0.6"/>
<circle cx="1836" cy="200" r="2.2" fill="#fff" opacity="0.9"/>
<path d="M1831,200 h10 M1836,195 v10" stroke="#fff" stroke-width="1" opacity="0.6"/>
<circle cx="1846" cy="175" r="2.2" fill="#fff" opacity="0.9"/>
<path d="M1841,175 h10 M1846,170 v10" stroke="#fff" stroke-width="1" opacity="0.6"/>
<circle cx="1867" cy="455" r="30" fill="#fff" opacity="0.3" filter="url(#bA8)"/>
<circle cx="1832.0" cy="442" r="2.6" fill="#fff"/>
<path d="M1826.0,442 h12 M1832.0,436 v12" stroke="#fff" stroke-width="1" opacity="0.5"/>
<circle cx="1832.0" cy="455" r="2.6" fill="#fff"/>
<path d="M1826.0,455 h12 M1832.0,449 v12" stroke="#fff" stroke-width="1" opacity="0.5"/>
<circle cx="1832.0" cy="468" r="2.6" fill="#fff"/>
<path d="M1826.0,468 h12 M1832.0,462 v12" stroke="#fff" stroke-width="1" opacity="0.5"/>
<circle cx="1849.5" cy="429" r="2.6" fill="#fff"/>
<path d="M1843.5,429 h12 M1849.5,423 v12" stroke="#fff" stroke-width="1" opacity="0.5"/>
<circle cx="1849.5" cy="442" r="2.6" fill="#fff"/>
<path d="M1843.5,442 h12 M1849.5,436 v12" stroke="#fff" stroke-width="1" opacity="0.5"/>
<circle cx="1849.5" cy="455" r="2.6" fill="#fff"/>
<path d="M1843.5,455 h12 M1849.5,449 v12" stroke="#fff" stroke-width="1" opacity="0.5"/>
<circle cx="1849.5" cy="468" r="2.6" fill="#fff"/>
<path d="M1843.5,468 h12 M1849.5,462 v12" stroke="#fff" stroke-width="1" opacity="0.5"/>
<circle cx="1849.5" cy="481" r="2.6" fill="#fff"/>
<path d="M1843.5,481 h12 M1849.5,475 v12" stroke="#fff" stroke-width="1" opacity="0.5"/>
<circle cx="1867.0" cy="429" r="2.6" fill="#fff"/>
<path d="M1861.0,429 h12 M1867.0,423 v12" stroke="#fff" stroke-width="1" opacity="0.5"/>
<circle cx="1867.0" cy="442" r="2.6" fill="#fff"/>
<path d="M1861.0,442 h12 M1867.0,436 v12" stroke="#fff" stroke-width="1" opacity="0.5"/>
<circle cx="1867.0" cy="455" r="2.6" fill="#fff"/>
<path d="M1861.0,455 h12 M1867.0,449 v12" stroke="#fff" stroke-width="1" opacity="0.5"/>
<circle cx="1867.0" cy="468" r="2.6" fill="#fff"/>
<path d="M1861.0,468 h12 M1867.0,462 v12" stroke="#fff" stroke-width="1" opacity="0.5"/>
<circle cx="1867.0" cy="481" r="2.6" fill="#fff"/>
<path d="M1861.0,481 h12 M1867.0,475 v12" stroke="#fff" stroke-width="1" opacity="0.5"/>
<circle cx="1884.5" cy="429" r="2.6" fill="#fff"/>
<path d="M1878.5,429 h12 M1884.5,423 v12" stroke="#fff" stroke-width="1" opacity="0.5"/>
<circle cx="1884.5" cy="442" r="2.6" fill="#fff"/>
<path d="M1878.5,442 h12 M1884.5,436 v12" stroke="#fff" stroke-width="1" opacity="0.5"/>
<circle cx="1884.5" cy="455" r="2.6" fill="#fff"/>
<path d="M1878.5,455 h12 M1884.5,449 v12" stroke="#fff" stroke-width="1" opacity="0.5"/>
<circle cx="1884.5" cy="468" r="2.6" fill="#fff"/>
<path d="M1878.5,468 h12 M1884.5,462 v12" stroke="#fff" stroke-width="1" opacity="0.5"/>
<circle cx="1884.5" cy="481" r="2.6" fill="#fff"/>
<path d="M1878.5,481 h12 M1884.5,475 v12" stroke="#fff" stroke-width="1" opacity="0.5"/>
<circle cx="1902.0" cy="442" r="2.6" fill="#fff"/>
<path d="M1896.0,442 h12 M1902.0,436 v12" stroke="#fff" stroke-width="1" opacity="0.5"/>
<circle cx="1902.0" cy="455" r="2.6" fill="#fff"/>
<path d="M1896.0,455 h12 M1902.0,449 v12" stroke="#fff" stroke-width="1" opacity="0.5"/>
<circle cx="1902.0" cy="468" r="2.6" fill="#fff"/>
<path d="M1896.0,468 h12 M1902.0,462 v12" stroke="#fff" stroke-width="1" opacity="0.5"/>
<line x1="1868" y1="318" x2="1868" y2="584" stroke="#fff" stroke-width="1" opacity="0.45"/>
<line x1="1833" y1="440" x2="1833" y2="584" stroke="#fff" stroke-width="1" opacity="0.2"/>
<line x1="1904" y1="440" x2="1904" y2="584" stroke="#fff" stroke-width="1" opacity="0.2"/>
<text x="1984.5" y="87" font-size="33" text-anchor="end" fill="#fff" font-weight="normal" >&#946;-LnNP</text>
<text x="1988" y="354" font-size="33" text-anchor="end" fill="#fff">&#945;-CsPbBr<tspan font-size="23" dy="7">3</tspan></text>
<text x="64" y="653.5" font-size="45" text-anchor="start" fill="#000" font-weight="bold" >c</text>
<rect x="87.5" y="694.7" width="401.5" height="496.6" fill="none" stroke="#000" stroke-width="2.2"/>
<line x1="87.5" y1="1191.3" x2="87.5" y2="1201.3" stroke="#000" stroke-width="2" />
<text x="87.5" y="1224.8" font-size="21.5" text-anchor="middle" fill="#000" font-weight="normal" >800</text>
<line x1="221.3" y1="1191.3" x2="221.3" y2="1201.3" stroke="#000" stroke-width="2" />
<text x="221.3" y="1224.8" font-size="21.5" text-anchor="middle" fill="#000" font-weight="normal" >900</text>
<line x1="355.2" y1="1191.3" x2="355.2" y2="1201.3" stroke="#000" stroke-width="2" />
<text x="355.2" y="1224.8" font-size="21.5" text-anchor="middle" fill="#000" font-weight="normal" >1000</text>
<line x1="489" y1="1191.3" x2="489" y2="1201.3" stroke="#000" stroke-width="2" />
<text x="489" y="1224.8" font-size="21.5" text-anchor="middle" fill="#000" font-weight="normal" >1100</text>
<line x1="154.4" y1="1191.3" x2="154.4" y2="1197.3" stroke="#000" stroke-width="2" />
<line x1="288.2" y1="1191.3" x2="288.2" y2="1197.3" stroke="#000" stroke-width="2" />
<line x1="422.1" y1="1191.3" x2="422.1" y2="1197.3" stroke="#000" stroke-width="2" />
<line x1="77.5" y1="1191.3" x2="87.5" y2="1191.3" stroke="#000" stroke-width="2" />
<text x="71" y="1197.9" font-size="21.5" text-anchor="end" fill="#000" font-weight="normal" >0</text>
<line x1="77.5" y1="943" x2="87.5" y2="943" stroke="#000" stroke-width="2" />
<text x="71" y="949.6" font-size="21.5" text-anchor="end" fill="#000" font-weight="normal" >5</text>
<line x1="77.5" y1="694.7" x2="87.5" y2="694.7" stroke="#000" stroke-width="2" />
<text x="71" y="701.3" font-size="21.5" text-anchor="end" fill="#000" font-weight="normal" >10</text>
<line x1="81.5" y1="1067.2" x2="87.5" y2="1067.2" stroke="#000" stroke-width="2" />
<line x1="81.5" y1="818.9" x2="87.5" y2="818.9" stroke="#000" stroke-width="2" />
<text x="288.2" y="1264.3" font-size="26.2" text-anchor="middle" fill="#000" font-weight="normal" >Wavelength (nm)</text>
<text x="0" y="0" font-size="26.2" text-anchor="middle" transform="translate(20,932.6) rotate(-90)">Intensity (arb. u.)</text>
<polyline points="88,1190.5 89.3,1190.5 90.6,1190.5 91.9,1190.5 93.2,1190.5 94.5,1190.5 95.8,1190.5 97.1,1190.5 98.4,1190.5 99.7,1190.5 101,1190.5 102.3,1190.5 103.6,1190.4 104.9,1190.4 106.2,1190.4 107.5,1190.4 108.8,1190.4 110.1,1190.4 111.4,1190.4 112.7,1190.4 114,1190.4 115.3,1190.4 116.6,1190.4 117.9,1190.4 119.2,1190.4 120.5,1190.4 121.8,1190.4 123.1,1190.4 124.4,1190.4 125.7,1190.4 127,1190.4 128.3,1190.4 129.6,1190.4 130.9,1190.4 132.2,1190.4 133.5,1190.3 134.8,1190.3 136.1,1190.3 137.4,1190.3 138.7,1190.3 140,1190.3 141.3,1190.3 142.6,1190.3 143.9,1190.3 145.2,1190.3 146.5,1190.3 147.8,1190.3 149.1,1190.3 150.4,1190.3 151.7,1190.3 153,1190.3 154.3,1190.3 155.6,1190.3 156.9,1190.3 158.2,1190.3 159.5,1190.3 160.8,1190.3 162.1,1190.3 163.4,1190.3 164.7,1190.2 166,1190.2 167.3,1190.2 168.6,1190.2 169.9,1190.2 171.2,1190.2 172.5,1190.2 173.8,1190.2 175.1,1190.2 176.4,1190.2 177.7,1190.2 179,1190.2 180.3,1190.2 181.6,1190.2 182.9,1190.2 184.2,1190.2 185.5,1190.2 186.8,1190.2 188.1,1190.2 189.4,1190.2 190.7,1190.2 192,1190.2 193.3,1190.2 194.6,1190.1 195.9,1190.1 197.2,1190.1 198.5,1190.1 199.8,1190.1 201.1,1190.1 202.4,1190.1 203.7,1190.1 205,1190.1 206.3,1190.1 207.6,1190.1 208.9,1190.1 210.2,1190.1 211.5,1190.1 212.8,1190.1 214.1,1190.1 215.4,1190.1 216.7,1190.1 218,1190.1 219.3,1190.1 220.6,1190.1 221.9,1190.1 223.2,1190.1 224.5,1190.1 225.8,1190 227.1,1190 228.4,1190 229.7,1190 231,1190 232.3,1190 233.6,1190 234.9,1190 236.2,1190 237.5,1190 238.8,1190 240.1,1190 241.4,1189.7 242.7,1189.5 244,1189.2 245.3,1189 246.6,1188.7 247.9,1188.5 249.2,1188.2 250.5,1188 251.8,1187.7 253.1,1187.5 254.4,1187.2 255.7,1187 257,1186.7 258.3,1186.5 259.6,1186.2 260.9,1186 262.2,1185.7 263.5,1185.5 264.8,1185.2 266.1,1185 267.4,1184.7 268.7,1184.5 270,1184.3 271.3,1184 272.6,1183.8 273.9,1183.5 275.2,1183.3 276.5,1183 277.8,1182.6 279.1,1182 280.4,1181.5 281.7,1181 283,1180.4 284.3,1179.9 285.6,1179.4 286.9,1178.9 288.2,1177.9 289.5,1175.9 290.8,1173.9 292.1,1172 293.4,1170 294.7,1168 296,1166.1 297.3,1163.7 298.6,1160.8 299.9,1157.9 301.2,1155 302.5,1152.1 303.8,1149.2 305.1,1146.3 306.4,1143.4 307.7,1140.5 309,1135.5 310.3,1130.3 311.6,1125.2 312.9,1120 314.2,1114.8 315.5,1105.3 316.8,1094.5 318.1,1083.7 319.4,1072.9 320.7,1062.1 322,1050 323.3,1037.1 324.6,1024.2 325.9,1011.2 327.2,998.3 328.5,987.4 329.8,979 331.1,970.6 332.4,962.2 333.7,955.1 335,952.6 336.3,950 337.6,948.2 338.9,950.1 340.2,951.4 341.5,954.8 342.8,959.6 344.1,965.4 345.4,970.6 346.7,974.5 348,979.6 349.3,986.8 350.6,990.6 351.9,995.8 353.2,1000.5 354.5,1001.2 355.8,1004 357.1,1005.1 358.4,1007.4 359.7,1008.2 361,1011.3 362.3,1016.2 363.6,1020 364.9,1025.2 366.2,1029.8 367.5,1033 368.8,1039.4 370.1,1043.7 371.4,1047.7 372.7,1051.5 374,1057.4 375.3,1060.3 376.6,1064.8 377.9,1069 379.2,1072.5 380.5,1076.9 381.8,1080.7 383.1,1088.1 384.4,1093.7 385.7,1101.3 387,1104.1 388.3,1105.2 389.6,1108.2 390.9,1111.3 392.2,1116 393.5,1117.7 394.8,1121.1 396.1,1122 397.4,1126.7 398.7,1128.5 400,1131.1 401.3,1136.2 402.6,1139.1 403.9,1145 405.2,1144.8 406.5,1149.4 407.8,1150.7 409.1,1154.3 410.4,1152.7 411.7,1148.6 413,1158.9 414.3,1161.8 415.6,1162.8 416.9,1160 418.2,1163.6 419.5,1158.2 420.8,1168.5 422.1,1166.4 423.4,1163.7 424.7,1161.8 426,1175.5 427.3,1179.3 428.6,1166.5 429.9,1179.6 431.2,1174.8 432.5,1171.9 433.8,1175.9 435.1,1185.2 436.4,1187.3 437.7,1172.4 439,1183 440.3,1172.4 441.6,1185.3 442.9,1178 444.2,1188.9 445.5,1191 446.8,1181.8 448.1,1191 449.4,1177.9 450.7,1173 452,1184.4 453.3,1172 454.6,1175.7 455.9,1180.5 457.2,1185.3 458.5,1174.9 459.8,1172.2 461.1,1191 462.4,1178.8 463.7,1191 465,1191 466.3,1180.6 467.6,1182.8 468.9,1184.4 470.2,1187.8 471.5,1186.7 472.8,1185.9 474.1,1187.7 475.4,1191 476.7,1184.9 478,1182.9 479.3,1191 480.6,1177.6 481.9,1179.5 483.2,1191 484.5,1186.2 485.8,1187.1 487.1,1171.1 488.4,1183.4" fill="none" stroke="#f26b6b" stroke-width="2.6" stroke-linejoin="round" />
<polyline points="88,1190.5 89.3,1190.5 90.6,1190.5 91.9,1190.5 93.2,1190.5 94.5,1190.5 95.8,1190.4 97.1,1190.4 98.4,1190.4 99.7,1190.4 101,1190.4 102.3,1190.4 103.6,1190.4 104.9,1190.4 106.2,1190.4 107.5,1190.4 108.8,1190.4 110.1,1190.3 111.4,1190.3 112.7,1190.3 114,1190.3 115.3,1190.3 116.6,1190.3 117.9,1190.3 119.2,1190.3 120.5,1190.3 121.8,1190.3 123.1,1190.3 124.4,1190.2 125.7,1190.2 127,1190.2 128.3,1190.2 129.6,1190.2 130.9,1190.2 132.2,1190.2 133.5,1190.2 134.8,1190.2 136.1,1190.2 137.4,1190.1 138.7,1190.1 140,1190.1 141.3,1190.1 142.6,1190.1 143.9,1190.1 145.2,1190.1 146.5,1190.1 147.8,1190.1 149.1,1190.1 150.4,1190.1 151.7,1190 153,1190 154.3,1190 155.6,1190 156.9,1190 158.2,1190 159.5,1190 160.8,1190 162.1,1190 163.4,1190 164.7,1190 166,1189.9 167.3,1189.9 168.6,1189.9 169.9,1189.9 171.2,1189.9 172.5,1189.9 173.8,1189.9 175.1,1189.9 176.4,1189.9 177.7,1189.9 179,1189.9 180.3,1189.8 181.6,1189.8 182.9,1189.8 184.2,1189.8 185.5,1189.8 186.8,1189.8 188.1,1189.8 189.4,1189.8 190.7,1189.8 192,1189.8 193.3,1189.8 194.6,1189.7 195.9,1189.7 197.2,1189.7 198.5,1189.7 199.8,1189.7 201.1,1189.7 202.4,1189.7 203.7,1189.7 205,1189.7 206.3,1189.7 207.6,1189.7 208.9,1189.6 210.2,1189.6 211.5,1189.6 212.8,1189.6 214.1,1189.6 215.4,1189.6 216.7,1189.6 218,1189.6 219.3,1189.6 220.6,1189.6 221.9,1189.6 223.2,1189.5 224.5,1189.5 225.8,1189.5 227.1,1189.5 228.4,1189.5 229.7,1189.5 231,1189.3 232.3,1189.1 233.6,1188.9 234.9,1188.6 236.2,1188.4 237.5,1188.1 238.8,1187.9 240.1,1187.7 241.4,1187.4 242.7,1187.2 244,1187 245.3,1186.7 246.6,1186.5 247.9,1186.3 249.2,1186 250.5,1185.8 251.8,1185.6 253.1,1185.1 254.4,1184.6 255.7,1184.1 257,1183.6 258.3,1183 259.6,1182.5 260.9,1182 262.2,1181.5 263.5,1181 264.8,1180.5 266.1,1180.1 267.4,1179.6 268.7,1179.2 270,1178.8 271.3,1178.3 272.6,1177.9 273.9,1177.4 275.2,1177 276.5,1176.6 277.8,1175.4 279.1,1174 280.4,1172.7 281.7,1171.3 283,1170 284.3,1168.6 285.6,1167.3 286.9,1165.9 288.2,1164.1 289.5,1161.2 290.8,1158.3 292.1,1155.3 293.4,1152.4 294.7,1149.5 296,1146.6 297.3,1142.9 298.6,1138.3 299.9,1133.7 301.2,1129.1 302.5,1124.5 303.8,1120 305.1,1115.4 306.4,1109.1 307.7,1101.8 309,1094.4 310.3,1087.1 311.6,1079.7 312.9,1070.3 314.2,1058.5 315.5,1046.7 316.8,1034.6 318.1,1018.5 319.4,1002.4 320.7,986.4 322,968.1 323.3,948.4 324.6,928.7 325.9,908.3 327.2,885.8 328.5,863.3 329.8,840.8 331.1,828.5 332.4,819.3 333.7,810.2 335,804.3 336.3,803.9 337.6,803.5 338.9,807.2 340.2,812.4 341.5,816.1 342.8,822.5 344.1,828.8 345.4,834.9 346.7,843.6 348,850.7 349.3,858.6 350.6,865.2 351.9,871.6 353.2,875.5 354.5,877.6 355.8,881.7 357.1,888.6 358.4,894.8 359.7,898.6 361,904.6 362.3,910.4 363.6,915.3 364.9,920.9 366.2,927.3 367.5,935.5 368.8,944.2 370.1,951.6 371.4,959.9 372.7,969 374,975.3 375.3,984.6 376.6,992.8 377.9,999.6 379.2,1007.2 380.5,1016.4 381.8,1022.8 383.1,1030.5 384.4,1038.9 385.7,1047.4 387,1049.2 388.3,1053 389.6,1056.2 390.9,1060.7 392.2,1063 393.5,1067.2 394.8,1069.1 396.1,1073.7 397.4,1081.5 398.7,1088.9 400,1090.2 401.3,1093.2 402.6,1096.2 403.9,1104.4 405.2,1105.1 406.5,1115.8 407.8,1120.4 409.1,1117.2 410.4,1122.4 411.7,1132.8 413,1134.6 414.3,1139.8 415.6,1137.1 416.9,1137.3 418.2,1142.5 419.5,1152.6 420.8,1148.4 422.1,1152.5 423.4,1156.6 424.7,1157.4 426,1157.7 427.3,1166.3 428.6,1154.6 429.9,1152.6 431.2,1168.6 432.5,1168.2 433.8,1170.7 435.1,1161.9 436.4,1172.5 437.7,1173.5 439,1161.8 440.3,1172.9 441.6,1176.1 442.9,1174.1 444.2,1172.6 445.5,1169.3 446.8,1171.6 448.1,1170.4 449.4,1168.3 450.7,1180.6 452,1175.4 453.3,1187.4 454.6,1170.6 455.9,1190.1 457.2,1185.6 458.5,1191 459.8,1190.9 461.1,1191 462.4,1183.8 463.7,1170.2 465,1188.4 466.3,1174.3 467.6,1177.6 468.9,1187.1 470.2,1183.8 471.5,1181 472.8,1191 474.1,1186.7 475.4,1179.6 476.7,1177.3 478,1191 479.3,1183.9 480.6,1191 481.9,1180.6 483.2,1176.3 484.5,1186.3 485.8,1191 487.1,1175.8 488.4,1191" fill="none" stroke="#650a8c" stroke-width="2.6" stroke-linejoin="round" />
<line x1="132" y1="721" x2="190" y2="721" stroke="#f26b6b" stroke-width="2.6" />
<line x1="132" y1="761.6" x2="190" y2="761.6" stroke="#650a8c" stroke-width="2.6" />
<text x="196" y="730" font-size="26.2" text-anchor="start" fill="#000" font-weight="normal" >&#945;-LnNP@CsPbBr<tspan font-size="18.3" dy="6">3</tspan></text>
<text x="196" y="770.5" font-size="26.2" text-anchor="start" fill="#000" font-weight="normal" >&#946;-LnNP@CsPbBr<tspan font-size="18.3" dy="6">3</tspan></text>
<text x="546.5" y="653.5" font-size="45" text-anchor="start" fill="#000" font-weight="bold" >d</text>
<rect x="589.8" y="694.8" width="402" height="496.5" fill="none" stroke="#000" stroke-width="2.2"/>
<line x1="589.8" y1="1191.3" x2="589.8" y2="1201.3" stroke="#000" stroke-width="2" />
<text x="589.8" y="1224.8" font-size="21.5" text-anchor="middle" fill="#000" font-weight="normal" >1</text>
<line x1="692.5" y1="1191.3" x2="692.5" y2="1201.3" stroke="#000" stroke-width="2" />
<text x="692.5" y="1224.8" font-size="21.5" text-anchor="middle" fill="#000" font-weight="normal" >10</text>
<line x1="795.2" y1="1191.3" x2="795.2" y2="1201.3" stroke="#000" stroke-width="2" />
<text x="795.2" y="1224.8" font-size="21.5" text-anchor="middle" fill="#000" font-weight="normal" >100</text>
<line x1="897.9" y1="1191.3" x2="897.9" y2="1201.3" stroke="#000" stroke-width="2" />
<text x="897.9" y="1224.8" font-size="21.5" text-anchor="middle" fill="#000" font-weight="normal" >1000</text>
<line x1="620.7" y1="1191.3" x2="620.7" y2="1197.3" stroke="#000" stroke-width="2" />
<line x1="638.8" y1="1191.3" x2="638.8" y2="1197.3" stroke="#000" stroke-width="2" />
<line x1="651.6" y1="1191.3" x2="651.6" y2="1197.3" stroke="#000" stroke-width="2" />
<line x1="661.6" y1="1191.3" x2="661.6" y2="1197.3" stroke="#000" stroke-width="2" />
<line x1="669.7" y1="1191.3" x2="669.7" y2="1197.3" stroke="#000" stroke-width="2" />
<line x1="676.6" y1="1191.3" x2="676.6" y2="1197.3" stroke="#000" stroke-width="2" />
<line x1="682.5" y1="1191.3" x2="682.5" y2="1197.3" stroke="#000" stroke-width="2" />
<line x1="687.8" y1="1191.3" x2="687.8" y2="1197.3" stroke="#000" stroke-width="2" />
<line x1="723.4" y1="1191.3" x2="723.4" y2="1197.3" stroke="#000" stroke-width="2" />
<line x1="741.5" y1="1191.3" x2="741.5" y2="1197.3" stroke="#000" stroke-width="2" />
<line x1="754.3" y1="1191.3" x2="754.3" y2="1197.3" stroke="#000" stroke-width="2" />
<line x1="764.3" y1="1191.3" x2="764.3" y2="1197.3" stroke="#000" stroke-width="2" />
<line x1="772.4" y1="1191.3" x2="772.4" y2="1197.3" stroke="#000" stroke-width="2" />
<line x1="779.3" y1="1191.3" x2="779.3" y2="1197.3" stroke="#000" stroke-width="2" />
<line x1="785.2" y1="1191.3" x2="785.2" y2="1197.3" stroke="#000" stroke-width="2" />
<line x1="790.5" y1="1191.3" x2="790.5" y2="1197.3" stroke="#000" stroke-width="2" />
<line x1="826.1" y1="1191.3" x2="826.1" y2="1197.3" stroke="#000" stroke-width="2" />
<line x1="844.2" y1="1191.3" x2="844.2" y2="1197.3" stroke="#000" stroke-width="2" />
<line x1="857" y1="1191.3" x2="857" y2="1197.3" stroke="#000" stroke-width="2" />
<line x1="867" y1="1191.3" x2="867" y2="1197.3" stroke="#000" stroke-width="2" />
<line x1="875.1" y1="1191.3" x2="875.1" y2="1197.3" stroke="#000" stroke-width="2" />
<line x1="882" y1="1191.3" x2="882" y2="1197.3" stroke="#000" stroke-width="2" />
<line x1="887.9" y1="1191.3" x2="887.9" y2="1197.3" stroke="#000" stroke-width="2" />
<line x1="893.2" y1="1191.3" x2="893.2" y2="1197.3" stroke="#000" stroke-width="2" />
<line x1="928.8" y1="1191.3" x2="928.8" y2="1197.3" stroke="#000" stroke-width="2" />
<line x1="946.9" y1="1191.3" x2="946.9" y2="1197.3" stroke="#000" stroke-width="2" />
<line x1="959.7" y1="1191.3" x2="959.7" y2="1197.3" stroke="#000" stroke-width="2" />
<line x1="969.7" y1="1191.3" x2="969.7" y2="1197.3" stroke="#000" stroke-width="2" />
<line x1="977.8" y1="1191.3" x2="977.8" y2="1197.3" stroke="#000" stroke-width="2" />
<line x1="984.7" y1="1191.3" x2="984.7" y2="1197.3" stroke="#000" stroke-width="2" />
<line x1="990.6" y1="1191.3" x2="990.6" y2="1197.3" stroke="#000" stroke-width="2" />
<line x1="579.8" y1="1191.3" x2="589.8" y2="1191.3" stroke="#000" stroke-width="2" />
<text x="573.3" y="1197.9" font-size="21.5" text-anchor="end" fill="#000" font-weight="normal" >0.0</text>
<line x1="579.8" y1="954.8" x2="589.8" y2="954.8" stroke="#000" stroke-width="2" />
<text x="573.3" y="961.4" font-size="21.5" text-anchor="end" fill="#000" font-weight="normal" >0.5</text>
<line x1="579.8" y1="718.3" x2="589.8" y2="718.3" stroke="#000" stroke-width="2" />
<text x="573.3" y="724.9" font-size="21.5" text-anchor="end" fill="#000" font-weight="normal" >1.0</text>
<line x1="583.8" y1="1073" x2="589.8" y2="1073" stroke="#000" stroke-width="2" />
<line x1="583.8" y1="836.5" x2="589.8" y2="836.5" stroke="#000" stroke-width="2" />
<text x="790.8" y="1264.3" font-size="26.2" text-anchor="middle" fill="#000" font-weight="normal" >Delay time (ps)</text>
<text x="0" y="0" font-size="26.2" text-anchor="middle" transform="translate(531,941) rotate(-90)">Normalized &#916;<tspan font-style="italic">T</tspan>/<tspan font-style="italic">T</tspan></text>
<g fill="none" stroke="#1a9a1a" stroke-width="1.6"><circle cx="590.8" cy="730" r="5"/><circle cx="594" cy="728.5" r="5"/><circle cx="597.2" cy="725.2" r="5"/><circle cx="600.4" cy="724.8" r="5"/><circle cx="603.6" cy="721.5" r="5"/><circle cx="606.8" cy="720.8" r="5"/><circle cx="610" cy="721.2" r="5"/><circle cx="613.2" cy="719.4" r="5"/><circle cx="616.4" cy="720.3" r="5"/><circle cx="619.6" cy="718.6" r="5"/><circle cx="622.8" cy="720.3" r="5"/><circle cx="626" cy="721.3" r="5"/><circle cx="629.2" cy="721.5" r="5"/><circle cx="632.4" cy="721.4" r="5"/><circle cx="635.6" cy="724.5" r="5"/><circle cx="638.8" cy="725.4" r="5"/><circle cx="642" cy="725.6" r="5"/><circle cx="645.2" cy="726.7" r="5"/><circle cx="648.4" cy="729.9" r="5"/><circle cx="651.6" cy="732.4" r="5"/><circle cx="654.8" cy="732.8" r="5"/><circle cx="658" cy="737.5" r="5"/><circle cx="661.2" cy="737.3" r="5"/><circle cx="664.4" cy="741" r="5"/><circle cx="667.6" cy="743.5" r="5"/><circle cx="670.8" cy="746" r="5"/><circle cx="674" cy="747.8" r="5"/><circle cx="677.2" cy="748.7" r="5"/><circle cx="680.4" cy="752.9" r="5"/><circle cx="683.6" cy="754.1" r="5"/><circle cx="686.8" cy="756.3" r="5"/><circle cx="690" cy="760.1" r="5"/><circle cx="693.2" cy="763" r="5"/><circle cx="696.4" cy="767.9" r="5"/><circle cx="699.6" cy="771.3" r="5"/><circle cx="702.8" cy="774.3" r="5"/><circle cx="706" cy="776.4" r="5"/><circle cx="709.2" cy="780.6" r="5"/><circle cx="712.4" cy="784.4" r="5"/><circle cx="715.6" cy="787.9" r="5"/><circle cx="718.8" cy="792.8" r="5"/><circle cx="722" cy="797.8" r="5"/><circle cx="725.2" cy="800.9" r="5"/><circle cx="728.4" cy="805.7" r="5"/><circle cx="731.6" cy="811.5" r="5"/><circle cx="734.8" cy="815.1" r="5"/><circle cx="738" cy="819.8" r="5"/><circle cx="741.2" cy="823.3" r="5"/><circle cx="744.4" cy="829.1" r="5"/><circle cx="747.6" cy="836" r="5"/><circle cx="750.8" cy="839.7" r="5"/><circle cx="754" cy="847.7" r="5"/><circle cx="757.2" cy="852.5" r="5"/><circle cx="760.4" cy="857.2" r="5"/><circle cx="763.6" cy="864.5" r="5"/><circle cx="766.8" cy="868.6" r="5"/><circle cx="770" cy="874.8" r="5"/><circle cx="773.2" cy="877.8" r="5"/><circle cx="776.4" cy="882.4" r="5"/><circle cx="779.6" cy="887.8" r="5"/><circle cx="782.8" cy="891.9" r="5"/><circle cx="786" cy="899.1" r="5"/><circle cx="789.2" cy="903.6" r="5"/><circle cx="792.4" cy="909.4" r="5"/><circle cx="795.6" cy="915" r="5"/><circle cx="798.8" cy="920.6" r="5"/><circle cx="802" cy="924.8" r="5"/><circle cx="805.2" cy="929.7" r="5"/><circle cx="808.4" cy="936.3" r="5"/><circle cx="811.6" cy="941" r="5"/><circle cx="814.8" cy="947.9" r="5"/><circle cx="818" cy="951.4" r="5"/><circle cx="821.2" cy="956.8" r="5"/><circle cx="824.4" cy="960.8" r="5"/><circle cx="827.6" cy="965.9" r="5"/><circle cx="830.8" cy="972.1" r="5"/><circle cx="834" cy="976.5" r="5"/><circle cx="837.2" cy="980.4" r="5"/><circle cx="840.4" cy="986.9" r="5"/><circle cx="843.6" cy="990.4" r="5"/><circle cx="846.8" cy="995.9" r="5"/><circle cx="850" cy="1000.7" r="5"/><circle cx="853.2" cy="1005.3" r="5"/><circle cx="856.4" cy="1007.5" r="5"/><circle cx="859.6" cy="1013.5" r="5"/><circle cx="862.8" cy="1017.4" r="5"/><circle cx="866" cy="1021.1" r="5"/><circle cx="869.2" cy="1024" r="5"/><circle cx="872.4" cy="1030.4" r="5"/><circle cx="875.6" cy="1033.5" r="5"/><circle cx="878.8" cy="1036.8" r="5"/><circle cx="882" cy="1038.6" r="5"/><circle cx="885.2" cy="1041.6" r="5"/><circle cx="888.4" cy="1044.2" r="5"/><circle cx="891.6" cy="1048.7" r="5"/><circle cx="894.8" cy="1051.1" r="5"/><circle cx="898" cy="1054" r="5"/><circle cx="901.2" cy="1055.3" r="5"/><circle cx="904.4" cy="1057.8" r="5"/><circle cx="907.6" cy="1062.9" r="5"/><circle cx="910.8" cy="1065.5" r="5"/><circle cx="914" cy="1068.1" r="5"/><circle cx="917.2" cy="1070.8" r="5"/><circle cx="920.4" cy="1072.8" r="5"/><circle cx="923.6" cy="1075.2" r="5"/><circle cx="926.8" cy="1078.9" r="5"/><circle cx="930" cy="1082.3" r="5"/><circle cx="933.2" cy="1084.1" r="5"/><circle cx="936.4" cy="1087.2" r="5"/><circle cx="939.6" cy="1089.7" r="5"/><circle cx="942.8" cy="1091.6" r="5"/><circle cx="946" cy="1095.3" r="5"/><circle cx="949.2" cy="1098.8" r="5"/><circle cx="952.4" cy="1101.5" r="5"/><circle cx="955.6" cy="1104.3" r="5"/><circle cx="958.8" cy="1109.1" r="5"/><circle cx="962" cy="1110.2" r="5"/><circle cx="965.2" cy="1114.2" r="5"/><circle cx="968.4" cy="1117.6" r="5"/><circle cx="971.6" cy="1121.5" r="5"/><circle cx="974.8" cy="1126.3" r="5"/><circle cx="978" cy="1129.9" r="5"/><circle cx="981.2" cy="1134.4" r="5"/><circle cx="984.4" cy="1136.6" r="5"/><circle cx="987.6" cy="1140.4" r="5"/></g>
<g fill="none" stroke="#f5776e" stroke-width="1.6"><circle cx="590.8" cy="730.6" r="5"/><circle cx="594" cy="727.7" r="5"/><circle cx="597.2" cy="725.4" r="5"/><circle cx="600.4" cy="722.4" r="5"/><circle cx="603.6" cy="720.8" r="5"/><circle cx="606.8" cy="719.7" r="5"/><circle cx="610" cy="719.3" r="5"/><circle cx="613.2" cy="719.4" r="5"/><circle cx="616.4" cy="718.7" r="5"/><circle cx="619.6" cy="719.6" r="5"/><circle cx="622.8" cy="717.7" r="5"/><circle cx="626" cy="719.2" r="5"/><circle cx="629.2" cy="721.3" r="5"/><circle cx="632.4" cy="721.7" r="5"/><circle cx="635.6" cy="722.2" r="5"/><circle cx="638.8" cy="722.9" r="5"/><circle cx="642" cy="724.6" r="5"/><circle cx="645.2" cy="724.7" r="5"/><circle cx="648.4" cy="726.3" r="5"/><circle cx="651.6" cy="729.9" r="5"/><circle cx="654.8" cy="731.9" r="5"/><circle cx="658" cy="735.1" r="5"/><circle cx="661.2" cy="737.1" r="5"/><circle cx="664.4" cy="738.5" r="5"/><circle cx="667.6" cy="740.9" r="5"/><circle cx="670.8" cy="741.8" r="5"/><circle cx="674" cy="746.2" r="5"/><circle cx="677.2" cy="749.1" r="5"/><circle cx="680.4" cy="748.9" r="5"/><circle cx="683.6" cy="752.6" r="5"/><circle cx="686.8" cy="756.2" r="5"/><circle cx="690" cy="758.1" r="5"/><circle cx="693.2" cy="762.9" r="5"/><circle cx="696.4" cy="764.8" r="5"/><circle cx="699.6" cy="766.8" r="5"/><circle cx="702.8" cy="770.5" r="5"/><circle cx="706" cy="774.3" r="5"/><circle cx="709.2" cy="778.8" r="5"/><circle cx="712.4" cy="781.9" r="5"/><circle cx="715.6" cy="786.4" r="5"/><circle cx="718.8" cy="788.9" r="5"/><circle cx="722" cy="793.7" r="5"/><circle cx="725.2" cy="797.2" r="5"/><circle cx="728.4" cy="802.6" r="5"/><circle cx="731.6" cy="807.1" r="5"/><circle cx="734.8" cy="809.5" r="5"/><circle cx="738" cy="813.2" r="5"/><circle cx="741.2" cy="817.7" r="5"/><circle cx="744.4" cy="823.9" r="5"/><circle cx="747.6" cy="830.3" r="5"/><circle cx="750.8" cy="836.9" r="5"/><circle cx="754" cy="844.8" r="5"/><circle cx="757.2" cy="850.4" r="5"/><circle cx="760.4" cy="857.3" r="5"/><circle cx="763.6" cy="864.7" r="5"/><circle cx="766.8" cy="871.6" r="5"/><circle cx="770" cy="878" r="5"/><circle cx="773.2" cy="885.1" r="5"/><circle cx="776.4" cy="890.9" r="5"/><circle cx="779.6" cy="897.3" r="5"/><circle cx="782.8" cy="905.8" r="5"/><circle cx="786" cy="911.5" r="5"/><circle cx="789.2" cy="918.4" r="5"/><circle cx="792.4" cy="925.6" r="5"/><circle cx="795.6" cy="934.2" r="5"/><circle cx="798.8" cy="941" r="5"/><circle cx="802" cy="947.3" r="5"/><circle cx="805.2" cy="953.7" r="5"/><circle cx="808.4" cy="960" r="5"/><circle cx="811.6" cy="965.1" r="5"/><circle cx="814.8" cy="970.7" r="5"/><circle cx="818" cy="977.2" r="5"/><circle cx="821.2" cy="984.5" r="5"/><circle cx="824.4" cy="989.7" r="5"/><circle cx="827.6" cy="994" r="5"/><circle cx="830.8" cy="1000.8" r="5"/><circle cx="834" cy="1003.9" r="5"/><circle cx="837.2" cy="1008" r="5"/><circle cx="840.4" cy="1013.1" r="5"/><circle cx="843.6" cy="1018" r="5"/><circle cx="846.8" cy="1023.5" r="5"/><circle cx="850" cy="1029" r="5"/><circle cx="853.2" cy="1031.4" r="5"/><circle cx="856.4" cy="1036.9" r="5"/><circle cx="859.6" cy="1039.7" r="5"/><circle cx="862.8" cy="1043.4" r="5"/><circle cx="866" cy="1049.2" r="5"/><circle cx="869.2" cy="1053.3" r="5"/><circle cx="872.4" cy="1055.9" r="5"/><circle cx="875.6" cy="1060.7" r="5"/><circle cx="878.8" cy="1066.2" r="5"/><circle cx="882" cy="1070.2" r="5"/><circle cx="885.2" cy="1073.9" r="5"/><circle cx="888.4" cy="1075.5" r="5"/><circle cx="891.6" cy="1079.6" r="5"/><circle cx="894.8" cy="1085.3" r="5"/><circle cx="898" cy="1087.2" r="5"/><circle cx="901.2" cy="1090.5" r="5"/><circle cx="904.4" cy="1095.1" r="5"/><circle cx="907.6" cy="1098.3" r="5"/><circle cx="910.8" cy="1100.1" r="5"/><circle cx="914" cy="1103.6" r="5"/><circle cx="917.2" cy="1106.2" r="5"/><circle cx="920.4" cy="1105.9" r="5"/><circle cx="923.6" cy="1109.1" r="5"/><circle cx="926.8" cy="1111.8" r="5"/><circle cx="930" cy="1112.6" r="5"/><circle cx="933.2" cy="1115.5" r="5"/><circle cx="936.4" cy="1115.7" r="5"/><circle cx="939.6" cy="1117.3" r="5"/><circle cx="942.8" cy="1120.6" r="5"/><circle cx="946" cy="1121.9" r="5"/><circle cx="949.2" cy="1123.3" r="5"/><circle cx="952.4" cy="1124.9" r="5"/><circle cx="955.6" cy="1125.4" r="5"/><circle cx="958.8" cy="1127.8" r="5"/><circle cx="962" cy="1128.7" r="5"/><circle cx="965.2" cy="1130.8" r="5"/><circle cx="968.4" cy="1129.9" r="5"/><circle cx="971.6" cy="1132.8" r="5"/><circle cx="974.8" cy="1133.8" r="5"/><circle cx="978" cy="1134.7" r="5"/><circle cx="981.2" cy="1135.1" r="5"/><circle cx="984.4" cy="1137.8" r="5"/><circle cx="987.6" cy="1137.9" r="5"/></g>
<g fill="none" stroke="#9b26d4" stroke-width="1.6"><circle cx="590.8" cy="746.3" r="6.2"/><circle cx="595" cy="729.7" r="6.2"/><circle cx="599.2" cy="727.9" r="6.2"/><circle cx="603.4" cy="732.1" r="6.2"/><circle cx="607.6" cy="725.8" r="6.2"/><circle cx="611.8" cy="728.3" r="6.2"/><circle cx="616" cy="729.8" r="6.2"/><circle cx="620.2" cy="719.4" r="6.2"/><circle cx="624.4" cy="724.7" r="6.2"/><circle cx="628.6" cy="734.8" r="6.2"/><circle cx="632.8" cy="741.5" r="6.2"/><circle cx="637" cy="748.7" r="6.2"/><circle cx="641.2" cy="755.2" r="6.2"/><circle cx="645.4" cy="755" r="6.2"/><circle cx="649.6" cy="756.8" r="6.2"/><circle cx="653.8" cy="754.9" r="6.2"/><circle cx="658" cy="763" r="6.2"/><circle cx="662.2" cy="757.2" r="6.2"/><circle cx="666.4" cy="760.8" r="6.2"/><circle cx="670.6" cy="762.2" r="6.2"/><circle cx="674.8" cy="760.8" r="6.2"/><circle cx="679" cy="768.7" r="6.2"/><circle cx="683.2" cy="772.8" r="6.2"/><circle cx="687.4" cy="775" r="6.2"/><circle cx="691.6" cy="777.5" r="6.2"/><circle cx="695.8" cy="787.5" r="6.2"/><circle cx="700" cy="789.8" r="6.2"/><circle cx="704.2" cy="795.6" r="6.2"/><circle cx="708.4" cy="800.3" r="6.2"/><circle cx="712.6" cy="802.9" r="6.2"/><circle cx="716.8" cy="810.7" r="6.2"/><circle cx="721" cy="814.6" r="6.2"/><circle cx="725.2" cy="822" r="6.2"/><circle cx="729.4" cy="825.3" r="6.2"/><circle cx="733.6" cy="837.3" r="6.2"/><circle cx="737.8" cy="844.1" r="6.2"/><circle cx="742" cy="852" r="6.2"/><circle cx="746.2" cy="869" r="6.2"/><circle cx="750.4" cy="873.9" r="6.2"/><circle cx="754.6" cy="877.8" r="6.2"/><circle cx="758.8" cy="888.4" r="6.2"/><circle cx="763" cy="906.6" r="6.2"/><circle cx="767.2" cy="916.3" r="6.2"/><circle cx="771.4" cy="921.9" r="6.2"/><circle cx="775.6" cy="936" r="6.2"/><circle cx="779.8" cy="943.4" r="6.2"/><circle cx="784" cy="955.1" r="6.2"/><circle cx="788.2" cy="957.6" r="6.2"/><circle cx="792.4" cy="965.9" r="6.2"/><circle cx="796.6" cy="974.3" r="6.2"/><circle cx="800.8" cy="993" r="6.2"/><circle cx="805" cy="993.5" r="6.2"/><circle cx="809.2" cy="1001.5" r="6.2"/><circle cx="813.4" cy="1015.3" r="6.2"/><circle cx="817.6" cy="1013.6" r="6.2"/><circle cx="821.8" cy="1019.9" r="6.2"/><circle cx="826" cy="1035.8" r="6.2"/><circle cx="830.2" cy="1033.2" r="6.2"/><circle cx="834.4" cy="1046.4" r="6.2"/><circle cx="838.6" cy="1051.7" r="6.2"/><circle cx="842.8" cy="1051.9" r="6.2"/><circle cx="847" cy="1060.2" r="6.2"/><circle cx="851.2" cy="1074.4" r="6.2"/><circle cx="855.4" cy="1076.1" r="6.2"/><circle cx="859.6" cy="1080" r="6.2"/><circle cx="863.8" cy="1087.2" r="6.2"/><circle cx="868" cy="1094" r="6.2"/><circle cx="872.2" cy="1097.5" r="6.2"/><circle cx="876.4" cy="1097.6" r="6.2"/><circle cx="880.6" cy="1110.5" r="6.2"/><circle cx="884.8" cy="1108" r="6.2"/><circle cx="889" cy="1113.5" r="6.2"/><circle cx="893.2" cy="1122.8" r="6.2"/><circle cx="897.4" cy="1123" r="6.2"/><circle cx="901.6" cy="1123.5" r="6.2"/><circle cx="905.8" cy="1127.9" r="6.2"/><circle cx="910" cy="1134.8" r="6.2"/><circle cx="914.2" cy="1124.9" r="6.2"/><circle cx="918.4" cy="1128.8" r="6.2"/><circle cx="922.6" cy="1127.9" r="6.2"/><circle cx="926.8" cy="1140" r="6.2"/><circle cx="931" cy="1139.5" r="6.2"/><circle cx="935.2" cy="1143.7" r="6.2"/><circle cx="939.4" cy="1136" r="6.2"/><circle cx="943.6" cy="1143.6" r="6.2"/><circle cx="947.8" cy="1146.7" r="6.2"/><circle cx="952" cy="1144.5" r="6.2"/><circle cx="956.2" cy="1139.9" r="6.2"/><circle cx="960.4" cy="1142.4" r="6.2"/><circle cx="964.6" cy="1150.6" r="6.2"/><circle cx="968.8" cy="1153.3" r="6.2"/><circle cx="973" cy="1145.3" r="6.2"/><circle cx="977.2" cy="1150.9" r="6.2"/><circle cx="981.4" cy="1150.7" r="6.2"/><circle cx="985.6" cy="1159.4" r="6.2"/></g>
<circle cx="746" cy="717" r="5.5" fill="none" stroke="#1a9a1a" stroke-width="1.6"/>
<circle cx="746" cy="757.8" r="5.5" fill="none" stroke="#f5776e" stroke-width="1.6"/>
<circle cx="746" cy="798" r="5.8" fill="none" stroke="#9b26d4" stroke-width="1.6"/>
<text x="773" y="727" font-size="26.2" text-anchor="start" fill="#000" font-weight="normal" >CsPbBr<tspan font-size="18.3" dy="6">3</tspan></text>
<text x="773" y="767.5" font-size="26.2" text-anchor="start" fill="#000" font-weight="normal" >&#945;-LnNP@CsPbBr<tspan font-size="18.3" dy="6">3</tspan></text>
<text x="773" y="808" font-size="26.2" text-anchor="start" fill="#000" font-weight="normal" >&#946;-LnNP@CsPbBr<tspan font-size="18.3" dy="6">3</tspan></text>
<text x="1019" y="653.5" font-size="45" text-anchor="start" fill="#000" font-weight="bold" >e</text>
<rect x="1092.6" y="694.5" width="401.5" height="496.8" fill="none" stroke="#000" stroke-width="2.2"/>
<line x1="1092.6" y1="1191.3" x2="1092.6" y2="1201.3" stroke="#000" stroke-width="2" />
<text x="1092.6" y="1224.8" font-size="21.5" text-anchor="middle" fill="#000" font-weight="normal" >480</text>
<line x1="1213" y1="1191.3" x2="1213" y2="1201.3" stroke="#000" stroke-width="2" />
<text x="1213" y="1224.8" font-size="21.5" text-anchor="middle" fill="#000" font-weight="normal" >510</text>
<line x1="1333.5" y1="1191.3" x2="1333.5" y2="1201.3" stroke="#000" stroke-width="2" />
<text x="1333.5" y="1224.8" font-size="21.5" text-anchor="middle" fill="#000" font-weight="normal" >540</text>
<line x1="1453.9" y1="1191.3" x2="1453.9" y2="1201.3" stroke="#000" stroke-width="2" />
<text x="1453.9" y="1224.8" font-size="21.5" text-anchor="middle" fill="#000" font-weight="normal" >570</text>
<line x1="1152.8" y1="1191.3" x2="1152.8" y2="1197.3" stroke="#000" stroke-width="2" />
<line x1="1273.3" y1="1191.3" x2="1273.3" y2="1197.3" stroke="#000" stroke-width="2" />
<line x1="1393.7" y1="1191.3" x2="1393.7" y2="1197.3" stroke="#000" stroke-width="2" />
<line x1="1082.6" y1="1191.3" x2="1092.6" y2="1191.3" stroke="#000" stroke-width="2" />
<text x="1075.6" y="1197.9" font-size="21.5" text-anchor="end" fill="#000" font-weight="normal" >0</text>
<line x1="1082.6" y1="809.3" x2="1092.6" y2="809.3" stroke="#000" stroke-width="2" />
<text x="1075.6" y="815.9" font-size="21.5" text-anchor="end" fill="#000" font-weight="normal" >1</text>
<line x1="1086.6" y1="1000.3" x2="1092.6" y2="1000.3" stroke="#000" stroke-width="2" />
<text x="1293.3" y="1264.3" font-size="26.2" text-anchor="middle" fill="#000" font-weight="normal" >Wavelength (nm)</text>
<text x="0" y="0" font-size="26.2" text-anchor="middle" transform="translate(1039.5,928) rotate(-90)">Normalized intensity</text>
<polyline points="1092.6,1169 1094.6,1168.2 1096.6,1167.1 1098.6,1169 1100.6,1169.7 1102.6,1170.8 1104.6,1173.5 1106.7,1174.3 1108.7,1175.7 1110.7,1177 1112.7,1180.7 1114.7,1181.4 1116.7,1183 1118.7,1181.3 1120.7,1181.7 1122.7,1183.3 1124.7,1179.5 1126.7,1178.3 1128.7,1177.6 1130.7,1175.8 1132.8,1175.2 1134.8,1173.5 1136.8,1170 1138.8,1169.6 1140.8,1167.8 1142.8,1166.5 1144.8,1166.5 1146.8,1165 1148.8,1165.3 1150.8,1164.8 1152.8,1166.8 1154.8,1167.8 1156.8,1169.8 1158.8,1170.9 1160.9,1173.1 1162.9,1175 1164.9,1173.9 1166.9,1174.7 1168.9,1175.5 1170.9,1175.7 1172.9,1168.9 1174.9,1168.6 1176.9,1167.9 1178.9,1168 1180.9,1165.3 1182.9,1165.7 1184.9,1163.6 1187,1164.1 1189,1161.4 1191,1160.7 1193,1162.1 1195,1160 1197,1156.4 1199,1155.9 1201,1152.4 1203,1151.9 1205,1150.3 1207,1145.6 1209,1141.8 1211,1139.6 1213,1135.8 1215.1,1130.3 1217.1,1122.9 1219.1,1117.5 1221.1,1112.7 1223.1,1104.9 1225.1,1097.2 1227.1,1088.3 1229.1,1076.3 1231.1,1067.6 1233.1,1055 1235.1,1043.2 1237.1,1031 1239.1,1015.6 1241.2,1003.1 1243.2,986.6 1245.2,972.8 1247.2,956 1249.2,940.7 1251.2,924.4 1253.2,906.3 1255.2,891.3 1257.2,877.8 1259.2,861.8 1261.2,850.8 1263.2,838.6 1265.2,827.2 1267.3,819.7 1269.3,815.4 1271.3,809 1273.3,810.2 1275.3,811.1 1277.3,812.7 1279.3,819.2 1281.3,826.3 1283.3,835.7 1285.3,845.9 1287.3,855.8 1289.3,869.3 1291.3,881.5 1293.3,896 1295.4,910 1297.4,922.9 1299.4,938.8 1301.4,952.9 1303.4,966.2 1305.4,982.1 1307.4,995.6 1309.4,1006.3 1311.4,1019 1313.4,1032.6 1315.4,1044 1317.4,1052.9 1319.4,1062.3 1321.5,1073.9 1323.5,1080.2 1325.5,1088.5 1327.5,1096.7 1329.5,1104.1 1331.5,1111.3 1333.5,1117.2 1335.5,1119.5 1337.5,1126.5 1339.5,1129.3 1341.5,1134.5 1343.5,1136.2 1345.5,1140 1347.6,1143.8 1349.6,1146.6 1351.6,1147.2 1353.6,1151.3 1355.6,1152.6 1357.6,1153.2 1359.6,1153.8 1361.6,1155.9 1363.6,1158.1 1365.6,1157.3 1367.6,1160.4 1369.6,1161.9 1371.6,1162 1373.6,1162.2 1375.7,1164.1 1377.7,1164.4 1379.7,1164.4 1381.7,1164.4 1383.7,1166.3 1385.7,1166.1 1387.7,1164.9 1389.7,1165.1 1391.7,1166.5 1393.7,1166.8 1395.7,1167.5 1397.7,1169.3 1399.7,1169.9 1401.8,1170.3 1403.8,1167.9 1405.8,1168.8 1407.8,1168.3 1409.8,1171.5 1411.8,1169.9 1413.8,1170.6 1415.8,1170.1 1417.8,1171.6 1419.8,1169.7 1421.8,1172.8 1423.8,1171.6 1425.8,1171.2 1427.9,1170.9 1429.9,1171.6 1431.9,1171.8 1433.9,1171.7 1435.9,1171.5 1437.9,1173.4 1439.9,1172.6 1441.9,1172.1 1443.9,1172.3 1445.9,1173.8 1447.9,1172.8 1449.9,1172.7 1451.9,1173.7 1453.9,1173.7 1456,1174.6 1458,1174.1 1460,1174.1 1462,1175.8 1464,1174.2 1466,1173.3 1468,1173.7 1470,1174.3 1472,1175.4 1474,1174.4 1476,1175 1478,1175.5 1480,1174.4 1482.1,1176.8 1484.1,1174.8 1486.1,1177.1 1488.1,1175.4 1490.1,1175.9 1492.1,1176.7 1494.1,1175.3" fill="none" stroke="#f26b6b" stroke-width="2.0" stroke-linejoin="round" />
<polyline points="1092.6,1183.1 1094.6,1181.9 1096.6,1179.1 1098.6,1185.1 1100.6,1187.3 1102.6,1184.6 1104.6,1181.1 1106.7,1185.4 1108.7,1185.6 1110.7,1178.8 1112.7,1181 1114.7,1182.9 1116.7,1178.7 1118.7,1183.9 1120.7,1180.7 1122.7,1184.9 1124.7,1182.7 1126.7,1179.2 1128.7,1178.1 1130.7,1178.3 1132.8,1182.8 1134.8,1180.8 1136.8,1183.2 1138.8,1184.7 1140.8,1181.3 1142.8,1178.1 1144.8,1177.9 1146.8,1179 1148.8,1176.7 1150.8,1182.8 1152.8,1183.6 1154.8,1180.9 1156.8,1182.4 1158.8,1182.8 1160.9,1180.8 1162.9,1178.7 1164.9,1179.8 1166.9,1181.2 1168.9,1176.2 1170.9,1174.7 1172.9,1179.4 1174.9,1182.7 1176.9,1182.8 1178.9,1174.9 1180.9,1182.3 1182.9,1175.9 1184.9,1176.9 1187,1179 1189,1174.3 1191,1181.1 1193,1179.6 1195,1176.3 1197,1179.9 1199,1172.1 1201,1177 1203,1177.4 1205,1177.7 1207,1171.7 1209,1172.7 1211,1170.2 1213,1169.1 1215.1,1166.7 1217.1,1164.1 1219.1,1165.3 1221.1,1168.2 1223.1,1164 1225.1,1164.7 1227.1,1164 1229.1,1157.2 1231.1,1152 1233.1,1153.5 1235.1,1148.8 1237.1,1143.8 1239.1,1135.7 1241.2,1131.7 1243.2,1124.7 1245.2,1116.5 1247.2,1112.2 1249.2,1100.1 1251.2,1089.8 1253.2,1087.2 1255.2,1068.6 1257.2,1058.7 1259.2,1051.6 1261.2,1035.3 1263.2,1019.6 1265.2,1002.2 1267.3,991.8 1269.3,974.2 1271.3,955.2 1273.3,939.7 1275.3,922 1277.3,910.2 1279.3,892.8 1281.3,881.7 1283.3,862.7 1285.3,848.8 1287.3,838.7 1289.3,828 1291.3,824.6 1293.3,812.4 1295.4,808 1297.4,806.8 1299.4,811.9 1301.4,812.6 1303.4,821.8 1305.4,823.1 1307.4,832 1309.4,846.4 1311.4,859.9 1313.4,868.6 1315.4,880.5 1317.4,891.9 1319.4,908.4 1321.5,926.7 1323.5,933.7 1325.5,954.7 1327.5,962 1329.5,981.5 1331.5,993.4 1333.5,1002.2 1335.5,1020.6 1337.5,1032.5 1339.5,1040.5 1341.5,1049.4 1343.5,1058.5 1345.5,1069.4 1347.6,1076 1349.6,1088.5 1351.6,1092.1 1353.6,1107.1 1355.6,1112.5 1357.6,1115.7 1359.6,1123.4 1361.6,1124.4 1363.6,1129.8 1365.6,1135 1367.6,1135.9 1369.6,1141.9 1371.6,1147.2 1373.6,1149.3 1375.7,1147.6 1377.7,1149.3 1379.7,1157.7 1381.7,1153.6 1383.7,1154.2 1385.7,1159.8 1387.7,1160.7 1389.7,1165.3 1391.7,1163.3 1393.7,1164.7 1395.7,1164.6 1397.7,1170.8 1399.7,1162.9 1401.8,1167.8 1403.8,1169.6 1405.8,1166.5 1407.8,1169.3 1409.8,1170.5 1411.8,1169.2 1413.8,1175.4 1415.8,1171.5 1417.8,1173.1 1419.8,1168.5 1421.8,1169.2 1423.8,1175.6 1425.8,1174.1 1427.9,1177.6 1429.9,1175.1 1431.9,1171.9 1433.9,1171.4 1435.9,1175.6 1437.9,1177.3 1439.9,1178.7 1441.9,1175.1 1443.9,1172.5 1445.9,1180 1447.9,1174.3 1449.9,1181.5 1451.9,1180.1 1453.9,1180 1456,1176 1458,1179.5 1460,1179.4 1462,1177.1 1464,1182 1466,1176.4 1468,1182.2 1470,1178.8 1472,1181.3 1474,1181.9 1476,1179 1478,1180 1480,1180.7 1482.1,1180.5 1484.1,1179.5 1486.1,1183 1488.1,1182.8 1490.1,1178.9 1492.1,1179 1494.1,1180.1" fill="none" stroke="#650a8c" stroke-width="2.0" stroke-linejoin="round" />
<line x1="1137.8" y1="720.3" x2="1195.2" y2="720.3" stroke="#f26b6b" stroke-width="2" />
<line x1="1137.8" y1="761.6" x2="1195.2" y2="761.6" stroke="#650a8c" stroke-width="2" />
<text x="1202.8" y="729.7" font-size="26.2" text-anchor="start" fill="#000" font-weight="normal" >&#945;-LnNP@CsPbBr<tspan font-size="18.3" dy="6">3</tspan></text>
<text x="1202.8" y="770.7" font-size="26.2" text-anchor="start" fill="#000" font-weight="normal" >&#946;-LnNP@CsPbBr<tspan font-size="18.3" dy="6">3</tspan></text>
<text x="1551.5" y="653.3" font-size="45" text-anchor="start" fill="#000" font-weight="bold" >f</text>
<g clip-path="url(#sp5)">
<path d="M1632.9,1192.8 L1632.9,1192.7 L1633.4,1192.7 L1633.8,1192.7 L1634.3,1192.7 L1634.8,1192.7 L1635.2,1192.7 L1635.7,1192.7 L1636.1,1192.7 L1636.6,1192.7 L1637.1,1192.7 L1637.5,1192.6 L1638,1192.6 L1638.4,1192.6 L1638.9,1192.6 L1639.4,1192.6 L1639.8,1192.6 L1640.3,1192.6 L1640.7,1192.6 L1641.2,1192.5 L1641.7,1192.5 L1642.1,1192.5 L1642.6,1192.5 L1643,1192.4 L1643.5,1192.4 L1644,1192.3 L1644.4,1192.2 L1644.9,1192.1 L1645.3,1191.9 L1645.8,1191.7 L1646.3,1191.3 L1646.7,1190.8 L1647.2,1190.2 L1647.6,1189.4 L1648.1,1188.4 L1648.6,1187.1 L1649,1185.7 L1649.5,1183.9 L1649.9,1182 L1650.4,1179.9 L1650.8,1177.7 L1651.3,1175.6 L1651.8,1173.5 L1652.2,1171.7 L1652.7,1170.3 L1653.1,1169.5 L1653.6,1169.1 L1654.1,1169.5 L1654.5,1170.3 L1655,1171.7 L1655.4,1173.5 L1655.9,1175.6 L1656.4,1177.7 L1656.8,1179.9 L1657.3,1182 L1657.7,1183.9 L1658.2,1185.7 L1658.7,1187.1 L1659.1,1188.4 L1659.6,1189.4 L1660,1190.2 L1660.5,1190.8 L1661,1191.3 L1661.4,1191.7 L1661.9,1191.9 L1662.3,1192.1 L1662.8,1192.2 L1663.3,1192.3 L1663.7,1192.4 L1664.2,1192.4 L1664.6,1192.5 L1665.1,1192.5 L1665.6,1192.5 L1666,1192.5 L1666.5,1192.6 L1666.9,1192.6 L1667.4,1192.6 L1667.9,1192.6 L1668.3,1192.6 L1668.8,1192.6 L1669.2,1192.6 L1669.7,1192.6 L1670.2,1192.7 L1670.6,1192.7 L1671.1,1192.7 L1671.5,1192.7 L1672,1192.7 L1672.5,1192.7 L1672.9,1192.7 L1673.4,1192.7 L1673.8,1192.7 L1673.8,1192.8 Z" fill="url(#gb)"/>
<path d="M1632.9,1192.7 L1633.4,1192.7 L1633.8,1192.7 L1634.3,1192.7 L1634.8,1192.7 L1635.2,1192.7 L1635.7,1192.7 L1636.1,1192.7 L1636.6,1192.7 L1637.1,1192.7 L1637.5,1192.6 L1638,1192.6 L1638.4,1192.6 L1638.9,1192.6 L1639.4,1192.6 L1639.8,1192.6 L1640.3,1192.6 L1640.7,1192.6 L1641.2,1192.5 L1641.7,1192.5 L1642.1,1192.5 L1642.6,1192.5 L1643,1192.4 L1643.5,1192.4 L1644,1192.3 L1644.4,1192.2 L1644.9,1192.1 L1645.3,1191.9 L1645.8,1191.7 L1646.3,1191.3 L1646.7,1190.8 L1647.2,1190.2 L1647.6,1189.4 L1648.1,1188.4 L1648.6,1187.1 L1649,1185.7 L1649.5,1183.9 L1649.9,1182 L1650.4,1179.9 L1650.8,1177.7 L1651.3,1175.6 L1651.8,1173.5 L1652.2,1171.7 L1652.7,1170.3 L1653.1,1169.5 L1653.6,1169.1 L1654.1,1169.5 L1654.5,1170.3 L1655,1171.7 L1655.4,1173.5 L1655.9,1175.6 L1656.4,1177.7 L1656.8,1179.9 L1657.3,1182 L1657.7,1183.9 L1658.2,1185.7 L1658.7,1187.1 L1659.1,1188.4 L1659.6,1189.4 L1660,1190.2 L1660.5,1190.8 L1661,1191.3 L1661.4,1191.7 L1661.9,1191.9 L1662.3,1192.1 L1662.8,1192.2 L1663.3,1192.3 L1663.7,1192.4 L1664.2,1192.4 L1664.6,1192.5 L1665.1,1192.5 L1665.6,1192.5 L1666,1192.5 L1666.5,1192.6 L1666.9,1192.6 L1667.4,1192.6 L1667.9,1192.6 L1668.3,1192.6 L1668.8,1192.6 L1669.2,1192.6 L1669.7,1192.6 L1670.2,1192.7 L1670.6,1192.7 L1671.1,1192.7 L1671.5,1192.7 L1672,1192.7 L1672.5,1192.7 L1672.9,1192.7 L1673.4,1192.7 L1673.8,1192.7" fill="none" stroke="#4a5ef0" stroke-width="1" stroke-dasharray="3,1.5"/>
<path d="M1651.3,1192.8 L1651.3,1192.6 L1651.8,1192.6 L1652.2,1192.6 L1652.7,1192.6 L1653.1,1192.6 L1653.6,1192.6 L1654.1,1192.5 L1654.5,1192.5 L1655,1192.5 L1655.4,1192.5 L1655.9,1192.5 L1656.4,1192.5 L1656.8,1192.5 L1657.3,1192.5 L1657.7,1192.5 L1658.2,1192.5 L1658.7,1192.4 L1659.1,1192.4 L1659.6,1192.4 L1660,1192.4 L1660.5,1192.4 L1661,1192.4 L1661.4,1192.3 L1661.9,1192.3 L1662.3,1192.3 L1662.8,1192.3 L1663.3,1192.3 L1663.7,1192.2 L1664.2,1192.2 L1664.6,1192.2 L1665.1,1192.1 L1665.6,1192.1 L1666,1192 L1666.5,1192 L1666.9,1191.9 L1667.4,1191.8 L1667.9,1191.7 L1668.3,1191.6 L1668.8,1191.4 L1669.2,1191.2 L1669.7,1191 L1670.2,1190.7 L1670.6,1190.3 L1671.1,1189.8 L1671.5,1189.2 L1672,1188.5 L1672.5,1187.6 L1672.9,1186.5 L1673.4,1185.3 L1673.8,1183.9 L1674.3,1182.2 L1674.8,1180.3 L1675.2,1178.2 L1675.7,1175.8 L1676.1,1173.2 L1676.6,1170.4 L1677,1167.4 L1677.5,1164.3 L1678,1161.1 L1678.4,1157.9 L1678.9,1154.7 L1679.3,1151.7 L1679.8,1148.8 L1680.3,1146.3 L1680.7,1144.1 L1681.2,1142.4 L1681.6,1141.2 L1682.1,1140.6 L1682.6,1140.6 L1683,1141.2 L1683.5,1142.4 L1683.9,1144.1 L1684.4,1146.3 L1684.9,1148.8 L1685.3,1151.7 L1685.8,1154.7 L1686.2,1157.9 L1686.7,1161.1 L1687.2,1164.3 L1687.6,1167.4 L1688.1,1170.4 L1688.5,1173.2 L1689,1175.8 L1689.5,1178.2 L1689.9,1180.3 L1690.4,1182.2 L1690.8,1183.9 L1691.3,1185.3 L1691.8,1186.5 L1692.2,1187.6 L1692.7,1188.5 L1693.1,1189.2 L1693.6,1189.8 L1694.1,1190.3 L1694.5,1190.7 L1695,1191 L1695.4,1191.2 L1695.9,1191.4 L1696.4,1191.6 L1696.8,1191.7 L1697.3,1191.8 L1697.7,1191.9 L1698.2,1192 L1698.7,1192 L1699.1,1192.1 L1699.6,1192.1 L1700,1192.2 L1700.5,1192.2 L1701,1192.2 L1701.4,1192.3 L1701.9,1192.3 L1702.3,1192.3 L1702.8,1192.3 L1703.2,1192.3 L1703.7,1192.4 L1704.2,1192.4 L1704.6,1192.4 L1705.1,1192.4 L1705.5,1192.4 L1706,1192.4 L1706.5,1192.5 L1706.9,1192.5 L1707.4,1192.5 L1707.8,1192.5 L1708.3,1192.5 L1708.8,1192.5 L1709.2,1192.5 L1709.7,1192.5 L1710.1,1192.5 L1710.6,1192.5 L1711.1,1192.6 L1711.5,1192.6 L1712,1192.6 L1712.4,1192.6 L1712.9,1192.6 L1712.9,1192.8 Z" fill="url(#gb)"/>
<path d="M1651.3,1192.6 L1651.8,1192.6 L1652.2,1192.6 L1652.7,1192.6 L1653.1,1192.6 L1653.6,1192.6 L1654.1,1192.5 L1654.5,1192.5 L1655,1192.5 L1655.4,1192.5 L1655.9,1192.5 L1656.4,1192.5 L1656.8,1192.5 L1657.3,1192.5 L1657.7,1192.5 L1658.2,1192.5 L1658.7,1192.4 L1659.1,1192.4 L1659.6,1192.4 L1660,1192.4 L1660.5,1192.4 L1661,1192.4 L1661.4,1192.3 L1661.9,1192.3 L1662.3,1192.3 L1662.8,1192.3 L1663.3,1192.3 L1663.7,1192.2 L1664.2,1192.2 L1664.6,1192.2 L1665.1,1192.1 L1665.6,1192.1 L1666,1192 L1666.5,1192 L1666.9,1191.9 L1667.4,1191.8 L1667.9,1191.7 L1668.3,1191.6 L1668.8,1191.4 L1669.2,1191.2 L1669.7,1191 L1670.2,1190.7 L1670.6,1190.3 L1671.1,1189.8 L1671.5,1189.2 L1672,1188.5 L1672.5,1187.6 L1672.9,1186.5 L1673.4,1185.3 L1673.8,1183.9 L1674.3,1182.2 L1674.8,1180.3 L1675.2,1178.2 L1675.7,1175.8 L1676.1,1173.2 L1676.6,1170.4 L1677,1167.4 L1677.5,1164.3 L1678,1161.1 L1678.4,1157.9 L1678.9,1154.7 L1679.3,1151.7 L1679.8,1148.8 L1680.3,1146.3 L1680.7,1144.1 L1681.2,1142.4 L1681.6,1141.2 L1682.1,1140.6 L1682.6,1140.6 L1683,1141.2 L1683.5,1142.4 L1683.9,1144.1 L1684.4,1146.3 L1684.9,1148.8 L1685.3,1151.7 L1685.8,1154.7 L1686.2,1157.9 L1686.7,1161.1 L1687.2,1164.3 L1687.6,1167.4 L1688.1,1170.4 L1688.5,1173.2 L1689,1175.8 L1689.5,1178.2 L1689.9,1180.3 L1690.4,1182.2 L1690.8,1183.9 L1691.3,1185.3 L1691.8,1186.5 L1692.2,1187.6 L1692.7,1188.5 L1693.1,1189.2 L1693.6,1189.8 L1694.1,1190.3 L1694.5,1190.7 L1695,1191 L1695.4,1191.2 L1695.9,1191.4 L1696.4,1191.6 L1696.8,1191.7 L1697.3,1191.8 L1697.7,1191.9 L1698.2,1192 L1698.7,1192 L1699.1,1192.1 L1699.6,1192.1 L1700,1192.2 L1700.5,1192.2 L1701,1192.2 L1701.4,1192.3 L1701.9,1192.3 L1702.3,1192.3 L1702.8,1192.3 L1703.2,1192.3 L1703.7,1192.4 L1704.2,1192.4 L1704.6,1192.4 L1705.1,1192.4 L1705.5,1192.4 L1706,1192.4 L1706.5,1192.5 L1706.9,1192.5 L1707.4,1192.5 L1707.8,1192.5 L1708.3,1192.5 L1708.8,1192.5 L1709.2,1192.5 L1709.7,1192.5 L1710.1,1192.5 L1710.6,1192.5 L1711.1,1192.6 L1711.5,1192.6 L1712,1192.6 L1712.4,1192.6 L1712.9,1192.6" fill="none" stroke="#4a5ef0" stroke-width="1" stroke-dasharray="3,1.5"/>
<path d="M1894.9,1192.8 L1894.9,1192.8 L1895.4,1192.8 L1895.8,1192.8 L1896.3,1192.8 L1896.8,1192.8 L1897.2,1192.8 L1897.7,1192.8 L1898.1,1192.8 L1898.6,1192.8 L1899.1,1192.8 L1899.5,1192.8 L1900,1192.8 L1900.4,1192.8 L1900.9,1192.8 L1901.4,1192.8 L1901.8,1192.8 L1902.3,1192.8 L1902.7,1192.8 L1903.2,1192.8 L1903.7,1192.8 L1904.1,1192.8 L1904.6,1192.7 L1905,1192.7 L1905.5,1192.7 L1906,1192.7 L1906.4,1192.7 L1906.9,1192.7 L1907.3,1192.7 L1907.8,1192.7 L1908.3,1192.7 L1908.7,1192.7 L1909.2,1192.7 L1909.6,1192.7 L1910.1,1192.7 L1910.6,1192.7 L1911,1192.7 L1911.5,1192.7 L1911.9,1192.7 L1912.4,1192.7 L1912.9,1192.7 L1913.3,1192.7 L1913.8,1192.7 L1914.2,1192.7 L1914.7,1192.7 L1915.2,1192.7 L1915.6,1192.7 L1916.1,1192.7 L1916.5,1192.7 L1917,1192.6 L1917.4,1192.6 L1917.9,1192.6 L1918.4,1192.6 L1918.8,1192.6 L1919.3,1192.5 L1919.7,1192.5 L1920.2,1192.5 L1920.7,1192.4 L1921.1,1192.4 L1921.6,1192.3 L1922,1192.3 L1922.5,1192.2 L1923,1192.1 L1923.4,1192 L1923.9,1191.9 L1924.3,1191.7 L1924.8,1191.6 L1925.3,1191.4 L1925.7,1191.2 L1926.2,1191 L1926.6,1190.8 L1927.1,1190.5 L1927.6,1190.3 L1928,1190 L1928.5,1189.7 L1928.9,1189.4 L1929.4,1189.1 L1929.9,1188.7 L1930.3,1188.4 L1930.8,1188 L1931.2,1187.7 L1931.7,1187.4 L1932.2,1187 L1932.6,1186.7 L1933.1,1186.4 L1933.5,1186.2 L1934,1185.9 L1934.5,1185.7 L1934.9,1185.5 L1935.4,1185.4 L1935.8,1185.4 L1936.3,1185.3 L1936.8,1185.4 L1937.2,1185.4 L1937.7,1185.5 L1938.1,1185.7 L1938.6,1185.9 L1939.1,1186.2 L1939.5,1186.4 L1940,1186.7 L1940.4,1187 L1940.9,1187.4 L1941.4,1187.7 L1941.8,1188 L1942.3,1188.4 L1942.7,1188.7 L1943.2,1189.1 L1943.6,1189.4 L1944.1,1189.7 L1944.6,1190 L1945,1190.3 L1945.5,1190.5 L1945.9,1190.8 L1946.4,1191 L1946.9,1191.2 L1947.3,1191.4 L1947.8,1191.6 L1948.2,1191.7 L1948.7,1191.9 L1949.2,1192 L1949.6,1192.1 L1950.1,1192.2 L1950.5,1192.3 L1951,1192.3 L1951.5,1192.4 L1951.9,1192.4 L1952.4,1192.5 L1952.8,1192.5 L1953.3,1192.5 L1953.8,1192.6 L1954.2,1192.6 L1954.7,1192.6 L1955.1,1192.6 L1955.6,1192.6 L1956.1,1192.7 L1956.5,1192.7 L1957,1192.7 L1957.4,1192.7 L1957.9,1192.7 L1958.4,1192.7 L1958.8,1192.7 L1959.3,1192.7 L1959.7,1192.7 L1960.2,1192.7 L1960.7,1192.7 L1961.1,1192.7 L1961.6,1192.7 L1962,1192.7 L1962.5,1192.7 L1963,1192.7 L1963.4,1192.7 L1963.9,1192.7 L1964.3,1192.7 L1964.8,1192.7 L1965.3,1192.7 L1965.7,1192.7 L1966.2,1192.7 L1966.6,1192.7 L1967.1,1192.7 L1967.6,1192.7 L1968,1192.7 L1968.5,1192.8 L1968.9,1192.8 L1969.4,1192.8 L1969.9,1192.8 L1970.3,1192.8 L1970.8,1192.8 L1971.2,1192.8 L1971.7,1192.8 L1972.1,1192.8 L1972.6,1192.8 L1973.1,1192.8 L1973.5,1192.8 L1974,1192.8 L1974.4,1192.8 L1974.9,1192.8 L1975.4,1192.8 L1975.8,1192.8 L1976.3,1192.8 L1976.7,1192.8 L1977.2,1192.8 L1977.2,1192.8 Z" fill="url(#gb)"/>
<path d="M1894.9,1192.8 L1895.4,1192.8 L1895.8,1192.8 L1896.3,1192.8 L1896.8,1192.8 L1897.2,1192.8 L1897.7,1192.8 L1898.1,1192.8 L1898.6,1192.8 L1899.1,1192.8 L1899.5,1192.8 L1900,1192.8 L1900.4,1192.8 L1900.9,1192.8 L1901.4,1192.8 L1901.8,1192.8 L1902.3,1192.8 L1902.7,1192.8 L1903.2,1192.8 L1903.7,1192.8 L1904.1,1192.8 L1904.6,1192.7 L1905,1192.7 L1905.5,1192.7 L1906,1192.7 L1906.4,1192.7 L1906.9,1192.7 L1907.3,1192.7 L1907.8,1192.7 L1908.3,1192.7 L1908.7,1192.7 L1909.2,1192.7 L1909.6,1192.7 L1910.1,1192.7 L1910.6,1192.7 L1911,1192.7 L1911.5,1192.7 L1911.9,1192.7 L1912.4,1192.7 L1912.9,1192.7 L1913.3,1192.7 L1913.8,1192.7 L1914.2,1192.7 L1914.7,1192.7 L1915.2,1192.7 L1915.6,1192.7 L1916.1,1192.7 L1916.5,1192.7 L1917,1192.6 L1917.4,1192.6 L1917.9,1192.6 L1918.4,1192.6 L1918.8,1192.6 L1919.3,1192.5 L1919.7,1192.5 L1920.2,1192.5 L1920.7,1192.4 L1921.1,1192.4 L1921.6,1192.3 L1922,1192.3 L1922.5,1192.2 L1923,1192.1 L1923.4,1192 L1923.9,1191.9 L1924.3,1191.7 L1924.8,1191.6 L1925.3,1191.4 L1925.7,1191.2 L1926.2,1191 L1926.6,1190.8 L1927.1,1190.5 L1927.6,1190.3 L1928,1190 L1928.5,1189.7 L1928.9,1189.4 L1929.4,1189.1 L1929.9,1188.7 L1930.3,1188.4 L1930.8,1188 L1931.2,1187.7 L1931.7,1187.4 L1932.2,1187 L1932.6,1186.7 L1933.1,1186.4 L1933.5,1186.2 L1934,1185.9 L1934.5,1185.7 L1934.9,1185.5 L1935.4,1185.4 L1935.8,1185.4 L1936.3,1185.3 L1936.8,1185.4 L1937.2,1185.4 L1937.7,1185.5 L1938.1,1185.7 L1938.6,1185.9 L1939.1,1186.2 L1939.5,1186.4 L1940,1186.7 L1940.4,1187 L1940.9,1187.4 L1941.4,1187.7 L1941.8,1188 L1942.3,1188.4 L1942.7,1188.7 L1943.2,1189.1 L1943.6,1189.4 L1944.1,1189.7 L1944.6,1190 L1945,1190.3 L1945.5,1190.5 L1945.9,1190.8 L1946.4,1191 L1946.9,1191.2 L1947.3,1191.4 L1947.8,1191.6 L1948.2,1191.7 L1948.7,1191.9 L1949.2,1192 L1949.6,1192.1 L1950.1,1192.2 L1950.5,1192.3 L1951,1192.3 L1951.5,1192.4 L1951.9,1192.4 L1952.4,1192.5 L1952.8,1192.5 L1953.3,1192.5 L1953.8,1192.6 L1954.2,1192.6 L1954.7,1192.6 L1955.1,1192.6 L1955.6,1192.6 L1956.1,1192.7 L1956.5,1192.7 L1957,1192.7 L1957.4,1192.7 L1957.9,1192.7 L1958.4,1192.7 L1958.8,1192.7 L1959.3,1192.7 L1959.7,1192.7 L1960.2,1192.7 L1960.7,1192.7 L1961.1,1192.7 L1961.6,1192.7 L1962,1192.7 L1962.5,1192.7 L1963,1192.7 L1963.4,1192.7 L1963.9,1192.7 L1964.3,1192.7 L1964.8,1192.7 L1965.3,1192.7 L1965.7,1192.7 L1966.2,1192.7 L1966.6,1192.7 L1967.1,1192.7 L1967.6,1192.7 L1968,1192.7 L1968.5,1192.8 L1968.9,1192.8 L1969.4,1192.8 L1969.9,1192.8 L1970.3,1192.8 L1970.8,1192.8 L1971.2,1192.8 L1971.7,1192.8 L1972.1,1192.8 L1972.6,1192.8 L1973.1,1192.8 L1973.5,1192.8 L1974,1192.8 L1974.4,1192.8 L1974.9,1192.8 L1975.4,1192.8 L1975.8,1192.8 L1976.3,1192.8 L1976.7,1192.8 L1977.2,1192.8" fill="none" stroke="#4a5ef0" stroke-width="1" stroke-dasharray="3,1.5"/>
<polyline points="1595,1192.5 1595.8,1192.5 1596.6,1192.6 1597.4,1192.2 1598.2,1192.7 1599,1192.2 1599.8,1192.5 1600.6,1192.7 1601.4,1192.4 1602.2,1192.6 1603,1192.7 1603.8,1192.7 1604.7,1192.6 1605.5,1192.7 1606.3,1192.4 1607.1,1192.7 1607.9,1192.6 1608.7,1192.7 1609.5,1192.6 1610.3,1192.2 1611.1,1192.7 1611.9,1192.6 1612.7,1192.7 1613.5,1192.6 1614.3,1192.6 1615.1,1192.6 1615.9,1192.2 1616.7,1192.7 1617.5,1192.7 1618.3,1192.5 1619.1,1192.2 1619.9,1192.7 1620.7,1192.6 1621.5,1192.1 1622.3,1192.3 1623.2,1192.6 1624,1192.5 1624.8,1192.1 1625.6,1192.4 1626.4,1192.1 1627.2,1192.5 1628,1192.5 1628.8,1192.6 1629.6,1192.5 1630.4,1192.6 1631.2,1192.6 1632,1192.5 1632.8,1192.3 1633.6,1192.2 1634.4,1192.6 1635.2,1192.5 1636,1192.4 1636.8,1192.4 1637.6,1192.3 1638.4,1192.4 1639.2,1192.2 1640,1192.4 1640.9,1192.4 1641.7,1192.3 1642.5,1192.3 1643.3,1192.3 1644.1,1191.7 1644.9,1191.5 1645.7,1191.5 1646.5,1190.7 1647.3,1189.6 1648.1,1188.1 1648.9,1185.9 1649.7,1182.5 1650.5,1178.6 1651.3,1175.2 1652.1,1171.5 1652.9,1169.1 1653.7,1168.7 1654.5,1170 1655.3,1172.6 1656.1,1175.9 1656.9,1180.1 1657.7,1183.3 1658.5,1186.2 1659.4,1188.4 1660.2,1189.5 1661,1190.3 1661.8,1191.2 1662.6,1191.5 1663.4,1191.7 1664.2,1191.4 1665,1191.5 1665.8,1191.5 1666.6,1191.3 1667.4,1191.4 1668.2,1191.4 1669,1191.1 1669.8,1190.6 1670.6,1190 1671.4,1189.1 1672.2,1187.6 1673,1185.4 1673.8,1183.7 1674.6,1180.6 1675.4,1176.6 1676.2,1172.4 1677,1167.2 1677.9,1161.7 1678.7,1155.8 1679.5,1150.6 1680.3,1145.9 1681.1,1142.6 1681.9,1140.2 1682.7,1140.4 1683.5,1142 1684.3,1145.6 1685.1,1150.1 1685.9,1155.3 1686.7,1161 1687.5,1166 1688.3,1171.5 1689.1,1176.1 1689.9,1180.1 1690.7,1183.3 1691.5,1185.6 1692.3,1187.4 1693.1,1189.1 1693.9,1189.9 1694.7,1190.3 1695.5,1191.3 1696.4,1191.3 1697.2,1191.7 1698,1191.5 1698.8,1192 1699.6,1191.9 1700.4,1192.1 1701.2,1192.1 1702,1192.2 1702.8,1191.8 1703.6,1191.8 1704.4,1192 1705.2,1192.3 1706,1192.2 1706.8,1192.4 1707.6,1192.3 1708.4,1192.4 1709.2,1192.4 1710,1192 1710.8,1192.3 1711.6,1192.2 1712.4,1192.5 1713.2,1192.2 1714.1,1192.4 1714.9,1192.2 1715.7,1192.3 1716.5,1192.3 1717.3,1192.6 1718.1,1192.3 1718.9,1192.6 1719.7,1192.3 1720.5,1192.5 1721.3,1192.1 1722.1,1192.5 1722.9,1192.4 1723.7,1192.4 1724.5,1192.7 1725.3,1192.7 1726.1,1192.3 1726.9,1192.2 1727.7,1192.6 1728.5,1192.4 1729.3,1192.3 1730.1,1192.5 1730.9,1192.4 1731.7,1192.7 1732.6,1192.2 1733.4,1192.4 1734.2,1192.3 1735,1192.5 1735.8,1192.4 1736.6,1192.1 1737.4,1192.6 1738.2,1192.4 1739,1192.7 1739.8,1192.5 1740.6,1192.3 1741.4,1192.5 1742.2,1192.6 1743,1192.6 1743.8,1192.4 1744.6,1192.7 1745.4,1192.6 1746.2,1192.7 1747,1192.4 1747.8,1192.6 1748.6,1192.5 1749.4,1192.4 1750.2,1192.4 1751.1,1192.5 1751.9,1192.4 1752.7,1192.6 1753.5,1192.7 1754.3,1192.4 1755.1,1192.6 1755.9,1192.7 1756.7,1192.4 1757.5,1192.7 1758.3,1192.7 1759.1,1192.6 1759.9,1192.7 1760.7,1192.6 1761.5,1192.7 1762.3,1192.7 1763.1,1192.6 1763.9,1192.7 1764.7,1192.7 1765.5,1192.5 1766.3,1192.7 1767.1,1192.5 1767.9,1192.6 1768.8,1192.7 1769.6,1192.2 1770.4,1192.5 1771.2,1192.8 1772,1192.7 1772.8,1192.5 1773.6,1192.4 1774.4,1192.5 1775.2,1192.7 1776,1192.7 1776.8,1192.7 1777.6,1192.7 1778.4,1192.6 1779.2,1192.7 1780,1192.2 1780.8,1192.5 1781.6,1192.7 1782.4,1192.5 1783.2,1192.6 1784,1192.4 1784.8,1192.7 1785.6,1192.7 1786.4,1192.5 1787.3,1192.6 1788.1,1192.1 1788.9,1192.6 1789.7,1192.6 1790.5,1192.6 1791.3,1192.8 1792.1,1192.8 1792.9,1192.5 1793.7,1192.6 1794.5,1192.7 1795.3,1192.7 1796.1,1192.4 1796.9,1192.4 1797.7,1192.6 1798.5,1192.6 1799.3,1192.7 1800.1,1192.6 1800.9,1192.5 1801.7,1192.7 1802.5,1192.2 1803.3,1192.6 1804.1,1192.6 1804.9,1192.7 1805.8,1192.5 1806.6,1192.7 1807.4,1192.6 1808.2,1192.7 1809,1192.5 1809.8,1192.8 1810.6,1192.7 1811.4,1192.5 1812.2,1192.5 1813,1192.5 1813.8,1192.6 1814.6,1192.7 1815.4,1192.7 1816.2,1192.3 1817,1192.5 1817.8,1192.8 1818.6,1192.7 1819.4,1192.2 1820.2,1192.7 1821,1192.6 1821.8,1192.8 1822.6,1192.6 1823.4,1192.6 1824.3,1192.8 1825.1,1192.6 1825.9,1192.6 1826.7,1192.6 1827.5,1192.5 1828.3,1192.8 1829.1,1192.7 1829.9,1192.8 1830.7,1192.6 1831.5,1192.6 1832.3,1192.7 1833.1,1192.7 1833.9,1192.5 1834.7,1192.6 1835.5,1192.7 1836.3,1192.8 1837.1,1192.5 1837.9,1192.6 1838.7,1192.7 1839.5,1192.3 1840.3,1192.6 1841.1,1192.5 1842,1192.6 1842.8,1192.4 1843.6,1192.7 1844.4,1192.5 1845.2,1192.6 1846,1192.7 1846.8,1192.4 1847.6,1192.2 1848.4,1192.7 1849.2,1192.6 1850,1192.6 1850.8,1192.7 1851.6,1192.7 1852.4,1192.6 1853.2,1192.3 1854,1192.4 1854.8,1192.6 1855.6,1192.7 1856.4,1192.5 1857.2,1192.7 1858,1192.4 1858.8,1192.7 1859.6,1192.7 1860.5,1192.5 1861.3,1192.7 1862.1,1192.6 1862.9,1192.8 1863.7,1192.6 1864.5,1192.5 1865.3,1192.7 1866.1,1192.7 1866.9,1192.7 1867.7,1192.3 1868.5,1192.7 1869.3,1192.4 1870.1,1192.4 1870.9,1192.7 1871.7,1191.9 1872.5,1192.7 1873.3,1192.8 1874.1,1192.7 1874.9,1192.7 1875.7,1192.6 1876.5,1192.4 1877.3,1192.3 1878.1,1192.7 1879,1192.6 1879.8,1192.6 1880.6,1192.2 1881.4,1192.6 1882.2,1192.5 1883,1192.6 1883.8,1192.7 1884.6,1192.7 1885.4,1192.7 1886.2,1192.6 1887,1192.6 1887.8,1192.7 1888.6,1192.7 1889.4,1192.4 1890.2,1192.6 1891,1192.7 1891.8,1192.7 1892.6,1192.6 1893.4,1192.7 1894.2,1192.5 1895,1192.6 1895.8,1192.5 1896.6,1192.7 1897.5,1192.4 1898.3,1192.6 1899.1,1192.6 1899.9,1192.5 1900.7,1192.2 1901.5,1192.7 1902.3,1192.4 1903.1,1192.6 1903.9,1192.7 1904.7,1192.4 1905.5,1192.7 1906.3,1192.3 1907.1,1192.6 1907.9,1192.7 1908.7,1192.7 1909.5,1192.5 1910.3,1192.7 1911.1,1192.6 1911.9,1192.6 1912.7,1192.4 1913.5,1192.4 1914.3,1192.5 1915.2,1192.6 1916,1192.6 1916.8,1192.5 1917.6,1192.5 1918.4,1192.4 1919.2,1192.4 1920,1192.3 1920.8,1192 1921.6,1191.9 1922.4,1192.1 1923.2,1191.9 1924,1191.8 1924.8,1191.2 1925.6,1191.2 1926.4,1190.9 1927.2,1190.4 1928,1189.6 1928.8,1189.4 1929.6,1188.8 1930.4,1188.2 1931.2,1187.5 1932,1186.9 1932.8,1186.5 1933.7,1185.9 1934.5,1185.5 1935.3,1185.3 1936.1,1185.2 1936.9,1185.3 1937.7,1185.4 1938.5,1185.5 1939.3,1186.2 1940.1,1186.5 1940.9,1187.2 1941.7,1187.7 1942.5,1188.3 1943.3,1189 1944.1,1189.7 1944.9,1190 1945.7,1190.6 1946.5,1191 1947.3,1191.4 1948.1,1191.6 1948.9,1191.7 1949.7,1191.9 1950.5,1192.3 1951.3,1192.4 1952.2,1191.9 1953,1192.4 1953.8,1192.4 1954.6,1192.4 1955.4,1192.5 1956.2,1192.6 1957,1192.6 1957.8,1192.6 1958.6,1192.5 1959.4,1192.5 1960.2,1192.6 1961,1192.6 1961.8,1192.7 1962.6,1192.5 1963.4,1192.6 1964.2,1192.6 1965,1192.7 1965.8,1192.5 1966.6,1192.2 1967.4,1192.6 1968.2,1192.3 1969,1192.3 1969.9,1192.6 1970.7,1192.4 1971.5,1192.2 1972.3,1192.7 1973.1,1192.5 1973.9,1192.5 1974.7,1192.7 1975.5,1192.4 1976.3,1192.7 1977.1,1192.6 1977.9,1192.8 1978.7,1192.7 1979.5,1192.8 1980.3,1192.7 1981.1,1192.2 1981.9,1192.4 1982.7,1192.6 1983.5,1192.6 1984.3,1192.6 1985.1,1192.7 1985.9,1192.7 1986.7,1192.4 1987.5,1192.7 1988.4,1192.6 1989.2,1192.5 1990,1192.3 1990.8,1192.6 1991.6,1192.6 1992.4,1192.8 1993.2,1192.8 1994,1192.4 1994.8,1192.6 1995.6,1192.7 1996.4,1192.7 1997.2,1192.1" fill="none" stroke="#4a5ef0" stroke-width="1.0" stroke-linejoin="round" />
<path d="M1692.1,1192.8 L1692.1,1192.3 L1692.6,1192.3 L1693,1192.2 L1693.5,1192.2 L1693.9,1192.2 L1694.4,1192.2 L1694.9,1192.2 L1695.3,1192.2 L1695.8,1192.2 L1696.2,1192.2 L1696.7,1192.2 L1697.2,1192.2 L1697.6,1192.1 L1698.1,1192.1 L1698.5,1192.1 L1699,1192.1 L1699.5,1192.1 L1699.9,1192.1 L1700.4,1192.1 L1700.8,1192 L1701.3,1192 L1701.8,1192 L1702.2,1192 L1702.7,1192 L1703.1,1192 L1703.6,1191.9 L1704.1,1191.9 L1704.5,1191.9 L1705,1191.9 L1705.4,1191.9 L1705.9,1191.8 L1706.4,1191.8 L1706.8,1191.8 L1707.3,1191.8 L1707.7,1191.8 L1708.2,1191.7 L1708.7,1191.7 L1709.1,1191.7 L1709.6,1191.7 L1710,1191.6 L1710.5,1191.6 L1710.9,1191.6 L1711.4,1191.5 L1711.9,1191.5 L1712.3,1191.5 L1712.8,1191.4 L1713.2,1191.4 L1713.7,1191.3 L1714.2,1191.3 L1714.6,1191.3 L1715.1,1191.2 L1715.5,1191.2 L1716,1191.1 L1716.5,1191 L1716.9,1191 L1717.4,1190.9 L1717.8,1190.8 L1718.3,1190.7 L1718.8,1190.6 L1719.2,1190.5 L1719.7,1190.4 L1720.1,1190.2 L1720.6,1190.1 L1721.1,1189.9 L1721.5,1189.7 L1722,1189.4 L1722.4,1189.2 L1722.9,1188.9 L1723.4,1188.5 L1723.8,1188.1 L1724.3,1187.7 L1724.7,1187.2 L1725.2,1186.6 L1725.7,1185.9 L1726.1,1185.2 L1726.6,1184.4 L1727,1183.4 L1727.5,1182.4 L1728,1181.2 L1728.4,1179.9 L1728.9,1178.5 L1729.3,1176.9 L1729.8,1175.1 L1730.3,1173.2 L1730.7,1171.1 L1731.2,1168.8 L1731.6,1166.3 L1732.1,1163.7 L1732.6,1160.8 L1733,1157.7 L1733.5,1154.4 L1733.9,1150.9 L1734.4,1147.2 L1734.9,1143.3 L1735.3,1139.3 L1735.8,1135.1 L1736.2,1130.7 L1736.7,1126.2 L1737.1,1121.7 L1737.6,1117 L1738.1,1112.3 L1738.5,1107.6 L1739,1102.9 L1739.4,1098.2 L1739.9,1093.6 L1740.4,1089.2 L1740.8,1084.9 L1741.3,1080.9 L1741.7,1077.1 L1742.2,1073.6 L1742.7,1070.5 L1743.1,1067.8 L1743.6,1065.4 L1744,1063.5 L1744.5,1062.1 L1745,1061.2 L1745.4,1060.8 L1745.9,1060.9 L1746.3,1061.3 L1746.8,1062 L1747.3,1063 L1747.7,1064.3 L1748.2,1065.9 L1748.6,1067.7 L1749.1,1069.8 L1749.6,1072.1 L1750,1074.7 L1750.5,1077.4 L1750.9,1080.3 L1751.4,1083.4 L1751.9,1086.6 L1752.3,1090 L1752.8,1093.4 L1753.2,1097 L1753.7,1100.5 L1754.2,1104.2 L1754.6,1107.8 L1755.1,1111.5 L1755.5,1115.2 L1756,1118.8 L1756.5,1122.4 L1756.9,1125.9 L1757.4,1129.4 L1757.8,1132.8 L1758.3,1136.2 L1758.8,1139.4 L1759.2,1142.6 L1759.7,1145.6 L1760.1,1148.5 L1760.6,1151.4 L1761.1,1154.1 L1761.5,1156.7 L1762,1159.1 L1762.4,1161.5 L1762.9,1163.7 L1763.3,1165.8 L1763.8,1167.7 L1764.3,1169.6 L1764.7,1171.3 L1765.2,1173 L1765.6,1174.5 L1766.1,1175.9 L1766.6,1177.2 L1767,1178.5 L1767.5,1179.6 L1767.9,1180.6 L1768.4,1181.6 L1768.9,1182.5 L1769.3,1183.3 L1769.8,1184 L1770.2,1184.7 L1770.7,1185.3 L1771.2,1185.9 L1771.6,1186.4 L1772.1,1186.9 L1772.5,1187.3 L1773,1187.7 L1773.5,1188.1 L1773.9,1188.4 L1774.4,1188.7 L1774.8,1188.9 L1775.3,1189.2 L1775.8,1189.4 L1776.2,1189.6 L1776.7,1189.7 L1777.1,1189.9 L1777.6,1190 L1778.1,1190.2 L1778.5,1190.3 L1779,1190.4 L1779.4,1190.5 L1779.9,1190.6 L1780.4,1190.7 L1780.8,1190.7 L1781.3,1190.8 L1781.7,1190.9 L1782.2,1190.9 L1782.7,1191 L1783.1,1191 L1783.6,1191.1 L1784,1191.1 L1784.5,1191.2 L1785,1191.2 L1785.4,1191.3 L1785.9,1191.3 L1786.3,1191.3 L1786.8,1191.4 L1787.3,1191.4 L1787.7,1191.4 L1788.2,1191.5 L1788.6,1191.5 L1789.1,1191.5 L1789.5,1191.5 L1790,1191.6 L1790.5,1191.6 L1790.9,1191.6 L1791.4,1191.6 L1791.8,1191.7 L1792.3,1191.7 L1792.8,1191.7 L1793.2,1191.7 L1793.7,1191.7 L1794.1,1191.8 L1794.6,1191.8 L1795.1,1191.8 L1795.5,1191.8 L1796,1191.8 L1796.4,1191.8 L1796.9,1191.9 L1797.4,1191.9 L1797.8,1191.9 L1798.3,1191.9 L1798.7,1191.9 L1799.2,1191.9 L1799.7,1191.9 L1800.1,1192 L1800.6,1192 L1801,1192 L1801.5,1192 L1802,1192 L1802.4,1192 L1802.9,1192 L1803.3,1192 L1803.8,1192.1 L1804.3,1192.1 L1804.7,1192.1 L1805.2,1192.1 L1805.6,1192.1 L1806.1,1192.1 L1806.6,1192.1 L1807,1192.1 L1807.5,1192.1 L1807.9,1192.2 L1808.4,1192.2 L1808.9,1192.2 L1809.3,1192.2 L1809.8,1192.2 L1810.2,1192.2 L1810.7,1192.2 L1811.2,1192.2 L1811.6,1192.2 L1812.1,1192.2 L1812.5,1192.2 L1813,1192.2 L1813.5,1192.2 L1813.9,1192.3 L1814.4,1192.3 L1814.4,1192.8 Z" fill="url(#gg)"/>
<path d="M1692.1,1192.3 L1692.6,1192.3 L1693,1192.2 L1693.5,1192.2 L1693.9,1192.2 L1694.4,1192.2 L1694.9,1192.2 L1695.3,1192.2 L1695.8,1192.2 L1696.2,1192.2 L1696.7,1192.2 L1697.2,1192.2 L1697.6,1192.1 L1698.1,1192.1 L1698.5,1192.1 L1699,1192.1 L1699.5,1192.1 L1699.9,1192.1 L1700.4,1192.1 L1700.8,1192 L1701.3,1192 L1701.8,1192 L1702.2,1192 L1702.7,1192 L1703.1,1192 L1703.6,1191.9 L1704.1,1191.9 L1704.5,1191.9 L1705,1191.9 L1705.4,1191.9 L1705.9,1191.8 L1706.4,1191.8 L1706.8,1191.8 L1707.3,1191.8 L1707.7,1191.8 L1708.2,1191.7 L1708.7,1191.7 L1709.1,1191.7 L1709.6,1191.7 L1710,1191.6 L1710.5,1191.6 L1710.9,1191.6 L1711.4,1191.5 L1711.9,1191.5 L1712.3,1191.5 L1712.8,1191.4 L1713.2,1191.4 L1713.7,1191.3 L1714.2,1191.3 L1714.6,1191.3 L1715.1,1191.2 L1715.5,1191.2 L1716,1191.1 L1716.5,1191 L1716.9,1191 L1717.4,1190.9 L1717.8,1190.8 L1718.3,1190.7 L1718.8,1190.6 L1719.2,1190.5 L1719.7,1190.4 L1720.1,1190.2 L1720.6,1190.1 L1721.1,1189.9 L1721.5,1189.7 L1722,1189.4 L1722.4,1189.2 L1722.9,1188.9 L1723.4,1188.5 L1723.8,1188.1 L1724.3,1187.7 L1724.7,1187.2 L1725.2,1186.6 L1725.7,1185.9 L1726.1,1185.2 L1726.6,1184.4 L1727,1183.4 L1727.5,1182.4 L1728,1181.2 L1728.4,1179.9 L1728.9,1178.5 L1729.3,1176.9 L1729.8,1175.1 L1730.3,1173.2 L1730.7,1171.1 L1731.2,1168.8 L1731.6,1166.3 L1732.1,1163.7 L1732.6,1160.8 L1733,1157.7 L1733.5,1154.4 L1733.9,1150.9 L1734.4,1147.2 L1734.9,1143.3 L1735.3,1139.3 L1735.8,1135.1 L1736.2,1130.7 L1736.7,1126.2 L1737.1,1121.7 L1737.6,1117 L1738.1,1112.3 L1738.5,1107.6 L1739,1102.9 L1739.4,1098.2 L1739.9,1093.6 L1740.4,1089.2 L1740.8,1084.9 L1741.3,1080.9 L1741.7,1077.1 L1742.2,1073.6 L1742.7,1070.5 L1743.1,1067.8 L1743.6,1065.4 L1744,1063.5 L1744.5,1062.1 L1745,1061.2 L1745.4,1060.8 L1745.9,1060.9 L1746.3,1061.3 L1746.8,1062 L1747.3,1063 L1747.7,1064.3 L1748.2,1065.9 L1748.6,1067.7 L1749.1,1069.8 L1749.6,1072.1 L1750,1074.7 L1750.5,1077.4 L1750.9,1080.3 L1751.4,1083.4 L1751.9,1086.6 L1752.3,1090 L1752.8,1093.4 L1753.2,1097 L1753.7,1100.5 L1754.2,1104.2 L1754.6,1107.8 L1755.1,1111.5 L1755.5,1115.2 L1756,1118.8 L1756.5,1122.4 L1756.9,1125.9 L1757.4,1129.4 L1757.8,1132.8 L1758.3,1136.2 L1758.8,1139.4 L1759.2,1142.6 L1759.7,1145.6 L1760.1,1148.5 L1760.6,1151.4 L1761.1,1154.1 L1761.5,1156.7 L1762,1159.1 L1762.4,1161.5 L1762.9,1163.7 L1763.3,1165.8 L1763.8,1167.7 L1764.3,1169.6 L1764.7,1171.3 L1765.2,1173 L1765.6,1174.5 L1766.1,1175.9 L1766.6,1177.2 L1767,1178.5 L1767.5,1179.6 L1767.9,1180.6 L1768.4,1181.6 L1768.9,1182.5 L1769.3,1183.3 L1769.8,1184 L1770.2,1184.7 L1770.7,1185.3 L1771.2,1185.9 L1771.6,1186.4 L1772.1,1186.9 L1772.5,1187.3 L1773,1187.7 L1773.5,1188.1 L1773.9,1188.4 L1774.4,1188.7 L1774.8,1188.9 L1775.3,1189.2 L1775.8,1189.4 L1776.2,1189.6 L1776.7,1189.7 L1777.1,1189.9 L1777.6,1190 L1778.1,1190.2 L1778.5,1190.3 L1779,1190.4 L1779.4,1190.5 L1779.9,1190.6 L1780.4,1190.7 L1780.8,1190.7 L1781.3,1190.8 L1781.7,1190.9 L1782.2,1190.9 L1782.7,1191 L1783.1,1191 L1783.6,1191.1 L1784,1191.1 L1784.5,1191.2 L1785,1191.2 L1785.4,1191.3 L1785.9,1191.3 L1786.3,1191.3 L1786.8,1191.4 L1787.3,1191.4 L1787.7,1191.4 L1788.2,1191.5 L1788.6,1191.5 L1789.1,1191.5 L1789.5,1191.5 L1790,1191.6 L1790.5,1191.6 L1790.9,1191.6 L1791.4,1191.6 L1791.8,1191.7 L1792.3,1191.7 L1792.8,1191.7 L1793.2,1191.7 L1793.7,1191.7 L1794.1,1191.8 L1794.6,1191.8 L1795.1,1191.8 L1795.5,1191.8 L1796,1191.8 L1796.4,1191.8 L1796.9,1191.9 L1797.4,1191.9 L1797.8,1191.9 L1798.3,1191.9 L1798.7,1191.9 L1799.2,1191.9 L1799.7,1191.9 L1800.1,1192 L1800.6,1192 L1801,1192 L1801.5,1192 L1802,1192 L1802.4,1192 L1802.9,1192 L1803.3,1192 L1803.8,1192.1 L1804.3,1192.1 L1804.7,1192.1 L1805.2,1192.1 L1805.6,1192.1 L1806.1,1192.1 L1806.6,1192.1 L1807,1192.1 L1807.5,1192.1 L1807.9,1192.2 L1808.4,1192.2 L1808.9,1192.2 L1809.3,1192.2 L1809.8,1192.2 L1810.2,1192.2 L1810.7,1192.2 L1811.2,1192.2 L1811.6,1192.2 L1812.1,1192.2 L1812.5,1192.2 L1813,1192.2 L1813.5,1192.2 L1813.9,1192.3 L1814.4,1192.3" fill="none" stroke="#16881a" stroke-width="1" stroke-dasharray="3,1.5"/>
<path d="M1850.1,1192.8 L1850.1,1192.7 L1850.6,1192.7 L1851,1192.7 L1851.5,1192.7 L1851.9,1192.7 L1852.4,1192.7 L1852.9,1192.7 L1853.3,1192.7 L1853.8,1192.7 L1854.2,1192.7 L1854.7,1192.7 L1855.2,1192.7 L1855.6,1192.7 L1856.1,1192.6 L1856.5,1192.6 L1857,1192.6 L1857.5,1192.6 L1857.9,1192.6 L1858.4,1192.6 L1858.8,1192.6 L1859.3,1192.6 L1859.8,1192.6 L1860.2,1192.6 L1860.7,1192.6 L1861.1,1192.5 L1861.6,1192.5 L1862.1,1192.5 L1862.5,1192.5 L1863,1192.5 L1863.4,1192.4 L1863.9,1192.4 L1864.4,1192.4 L1864.8,1192.3 L1865.3,1192.2 L1865.7,1192.2 L1866.2,1192 L1866.7,1191.9 L1867.1,1191.7 L1867.6,1191.5 L1868,1191.2 L1868.5,1190.8 L1869,1190.4 L1869.4,1189.8 L1869.9,1189.2 L1870.3,1188.4 L1870.8,1187.5 L1871.3,1186.4 L1871.7,1185.2 L1872.2,1183.9 L1872.6,1182.5 L1873.1,1181 L1873.6,1179.4 L1874,1177.7 L1874.5,1176.1 L1874.9,1174.5 L1875.4,1173.1 L1875.9,1171.7 L1876.3,1170.7 L1876.8,1169.8 L1877.2,1169.3 L1877.7,1169.1 L1878.1,1169.3 L1878.6,1169.6 L1879.1,1170.1 L1879.5,1170.9 L1880,1171.7 L1880.4,1172.8 L1880.9,1173.9 L1881.4,1175.1 L1881.8,1176.4 L1882.3,1177.7 L1882.7,1179 L1883.2,1180.3 L1883.7,1181.6 L1884.1,1182.8 L1884.6,1183.9 L1885,1185 L1885.5,1186 L1886,1186.9 L1886.4,1187.7 L1886.9,1188.4 L1887.3,1189 L1887.8,1189.6 L1888.3,1190.1 L1888.7,1190.5 L1889.2,1190.8 L1889.6,1191.1 L1890.1,1191.4 L1890.6,1191.6 L1891,1191.8 L1891.5,1191.9 L1891.9,1192 L1892.4,1192.1 L1892.9,1192.2 L1893.3,1192.3 L1893.8,1192.3 L1894.2,1192.4 L1894.7,1192.4 L1895.2,1192.4 L1895.6,1192.4 L1896.1,1192.5 L1896.5,1192.5 L1897,1192.5 L1897.5,1192.5 L1897.9,1192.5 L1898.4,1192.5 L1898.8,1192.6 L1899.3,1192.6 L1899.8,1192.6 L1900.2,1192.6 L1900.7,1192.6 L1901.1,1192.6 L1901.6,1192.6 L1902.1,1192.6 L1902.5,1192.6 L1903,1192.6 L1903.4,1192.6 L1903.9,1192.6 L1904.3,1192.6 L1904.8,1192.6 L1905.3,1192.7 L1905.7,1192.7 L1906.2,1192.7 L1906.6,1192.7 L1907.1,1192.7 L1907.6,1192.7 L1908,1192.7 L1908.5,1192.7 L1908.9,1192.7 L1909.4,1192.7 L1909.9,1192.7 L1910.3,1192.7 L1910.8,1192.7 L1911.2,1192.7 L1911.7,1192.7 L1911.7,1192.8 Z" fill="url(#gg)"/>
<path d="M1850.1,1192.7 L1850.6,1192.7 L1851,1192.7 L1851.5,1192.7 L1851.9,1192.7 L1852.4,1192.7 L1852.9,1192.7 L1853.3,1192.7 L1853.8,1192.7 L1854.2,1192.7 L1854.7,1192.7 L1855.2,1192.7 L1855.6,1192.7 L1856.1,1192.6 L1856.5,1192.6 L1857,1192.6 L1857.5,1192.6 L1857.9,1192.6 L1858.4,1192.6 L1858.8,1192.6 L1859.3,1192.6 L1859.8,1192.6 L1860.2,1192.6 L1860.7,1192.6 L1861.1,1192.5 L1861.6,1192.5 L1862.1,1192.5 L1862.5,1192.5 L1863,1192.5 L1863.4,1192.4 L1863.9,1192.4 L1864.4,1192.4 L1864.8,1192.3 L1865.3,1192.2 L1865.7,1192.2 L1866.2,1192 L1866.7,1191.9 L1867.1,1191.7 L1867.6,1191.5 L1868,1191.2 L1868.5,1190.8 L1869,1190.4 L1869.4,1189.8 L1869.9,1189.2 L1870.3,1188.4 L1870.8,1187.5 L1871.3,1186.4 L1871.7,1185.2 L1872.2,1183.9 L1872.6,1182.5 L1873.1,1181 L1873.6,1179.4 L1874,1177.7 L1874.5,1176.1 L1874.9,1174.5 L1875.4,1173.1 L1875.9,1171.7 L1876.3,1170.7 L1876.8,1169.8 L1877.2,1169.3 L1877.7,1169.1 L1878.1,1169.3 L1878.6,1169.6 L1879.1,1170.1 L1879.5,1170.9 L1880,1171.7 L1880.4,1172.8 L1880.9,1173.9 L1881.4,1175.1 L1881.8,1176.4 L1882.3,1177.7 L1882.7,1179 L1883.2,1180.3 L1883.7,1181.6 L1884.1,1182.8 L1884.6,1183.9 L1885,1185 L1885.5,1186 L1886,1186.9 L1886.4,1187.7 L1886.9,1188.4 L1887.3,1189 L1887.8,1189.6 L1888.3,1190.1 L1888.7,1190.5 L1889.2,1190.8 L1889.6,1191.1 L1890.1,1191.4 L1890.6,1191.6 L1891,1191.8 L1891.5,1191.9 L1891.9,1192 L1892.4,1192.1 L1892.9,1192.2 L1893.3,1192.3 L1893.8,1192.3 L1894.2,1192.4 L1894.7,1192.4 L1895.2,1192.4 L1895.6,1192.4 L1896.1,1192.5 L1896.5,1192.5 L1897,1192.5 L1897.5,1192.5 L1897.9,1192.5 L1898.4,1192.5 L1898.8,1192.6 L1899.3,1192.6 L1899.8,1192.6 L1900.2,1192.6 L1900.7,1192.6 L1901.1,1192.6 L1901.6,1192.6 L1902.1,1192.6 L1902.5,1192.6 L1903,1192.6 L1903.4,1192.6 L1903.9,1192.6 L1904.3,1192.6 L1904.8,1192.6 L1905.3,1192.7 L1905.7,1192.7 L1906.2,1192.7 L1906.6,1192.7 L1907.1,1192.7 L1907.6,1192.7 L1908,1192.7 L1908.5,1192.7 L1908.9,1192.7 L1909.4,1192.7 L1909.9,1192.7 L1910.3,1192.7 L1910.8,1192.7 L1911.2,1192.7 L1911.7,1192.7" fill="none" stroke="#16881a" stroke-width="1" stroke-dasharray="3,1.5"/>
<path d="M1894.9,1192.8 L1894.9,1192.8 L1895.4,1192.8 L1895.8,1192.8 L1896.3,1192.8 L1896.8,1192.8 L1897.2,1192.8 L1897.7,1192.8 L1898.1,1192.8 L1898.6,1192.8 L1899.1,1192.8 L1899.5,1192.8 L1900,1192.8 L1900.4,1192.8 L1900.9,1192.8 L1901.4,1192.8 L1901.8,1192.8 L1902.3,1192.8 L1902.7,1192.8 L1903.2,1192.8 L1903.7,1192.8 L1904.1,1192.8 L1904.6,1192.8 L1905,1192.8 L1905.5,1192.8 L1906,1192.8 L1906.4,1192.8 L1906.9,1192.8 L1907.3,1192.8 L1907.8,1192.8 L1908.3,1192.8 L1908.7,1192.8 L1909.2,1192.8 L1909.6,1192.8 L1910.1,1192.8 L1910.6,1192.8 L1911,1192.8 L1911.5,1192.8 L1911.9,1192.8 L1912.4,1192.8 L1912.9,1192.8 L1913.3,1192.8 L1913.8,1192.8 L1914.2,1192.7 L1914.7,1192.7 L1915.2,1192.7 L1915.6,1192.7 L1916.1,1192.7 L1916.5,1192.7 L1917,1192.7 L1917.4,1192.7 L1917.9,1192.7 L1918.4,1192.7 L1918.8,1192.7 L1919.3,1192.7 L1919.7,1192.7 L1920.2,1192.6 L1920.7,1192.6 L1921.1,1192.6 L1921.6,1192.6 L1922,1192.5 L1922.5,1192.5 L1923,1192.4 L1923.4,1192.4 L1923.9,1192.3 L1924.3,1192.3 L1924.8,1192.2 L1925.3,1192.1 L1925.7,1192 L1926.2,1191.9 L1926.6,1191.8 L1927.1,1191.7 L1927.6,1191.5 L1928,1191.4 L1928.5,1191.3 L1928.9,1191.1 L1929.4,1190.9 L1929.9,1190.8 L1930.3,1190.6 L1930.8,1190.4 L1931.2,1190.2 L1931.7,1190.1 L1932.2,1189.9 L1932.6,1189.8 L1933.1,1189.6 L1933.5,1189.5 L1934,1189.4 L1934.5,1189.3 L1934.9,1189.2 L1935.4,1189.1 L1935.8,1189.1 L1936.3,1189.1 L1936.8,1189.1 L1937.2,1189.1 L1937.7,1189.2 L1938.1,1189.3 L1938.6,1189.4 L1939.1,1189.5 L1939.5,1189.6 L1940,1189.8 L1940.4,1189.9 L1940.9,1190.1 L1941.4,1190.2 L1941.8,1190.4 L1942.3,1190.6 L1942.7,1190.8 L1943.2,1190.9 L1943.6,1191.1 L1944.1,1191.3 L1944.6,1191.4 L1945,1191.5 L1945.5,1191.7 L1945.9,1191.8 L1946.4,1191.9 L1946.9,1192 L1947.3,1192.1 L1947.8,1192.2 L1948.2,1192.3 L1948.7,1192.3 L1949.2,1192.4 L1949.6,1192.4 L1950.1,1192.5 L1950.5,1192.5 L1951,1192.6 L1951.5,1192.6 L1951.9,1192.6 L1952.4,1192.6 L1952.8,1192.7 L1953.3,1192.7 L1953.8,1192.7 L1954.2,1192.7 L1954.7,1192.7 L1955.1,1192.7 L1955.6,1192.7 L1956.1,1192.7 L1956.5,1192.7 L1957,1192.7 L1957.4,1192.7 L1957.9,1192.7 L1958.4,1192.7 L1958.8,1192.8 L1959.3,1192.8 L1959.7,1192.8 L1960.2,1192.8 L1960.7,1192.8 L1961.1,1192.8 L1961.6,1192.8 L1962,1192.8 L1962.5,1192.8 L1963,1192.8 L1963.4,1192.8 L1963.9,1192.8 L1964.3,1192.8 L1964.8,1192.8 L1965.3,1192.8 L1965.7,1192.8 L1966.2,1192.8 L1966.6,1192.8 L1967.1,1192.8 L1967.6,1192.8 L1968,1192.8 L1968.5,1192.8 L1968.9,1192.8 L1969.4,1192.8 L1969.9,1192.8 L1970.3,1192.8 L1970.8,1192.8 L1971.2,1192.8 L1971.7,1192.8 L1972.1,1192.8 L1972.6,1192.8 L1973.1,1192.8 L1973.5,1192.8 L1974,1192.8 L1974.4,1192.8 L1974.9,1192.8 L1975.4,1192.8 L1975.8,1192.8 L1976.3,1192.8 L1976.7,1192.8 L1977.2,1192.8 L1977.2,1192.8 Z" fill="url(#gg)"/>
<path d="M1894.9,1192.8 L1895.4,1192.8 L1895.8,1192.8 L1896.3,1192.8 L1896.8,1192.8 L1897.2,1192.8 L1897.7,1192.8 L1898.1,1192.8 L1898.6,1192.8 L1899.1,1192.8 L1899.5,1192.8 L1900,1192.8 L1900.4,1192.8 L1900.9,1192.8 L1901.4,1192.8 L1901.8,1192.8 L1902.3,1192.8 L1902.7,1192.8 L1903.2,1192.8 L1903.7,1192.8 L1904.1,1192.8 L1904.6,1192.8 L1905,1192.8 L1905.5,1192.8 L1906,1192.8 L1906.4,1192.8 L1906.9,1192.8 L1907.3,1192.8 L1907.8,1192.8 L1908.3,1192.8 L1908.7,1192.8 L1909.2,1192.8 L1909.6,1192.8 L1910.1,1192.8 L1910.6,1192.8 L1911,1192.8 L1911.5,1192.8 L1911.9,1192.8 L1912.4,1192.8 L1912.9,1192.8 L1913.3,1192.8 L1913.8,1192.8 L1914.2,1192.7 L1914.7,1192.7 L1915.2,1192.7 L1915.6,1192.7 L1916.1,1192.7 L1916.5,1192.7 L1917,1192.7 L1917.4,1192.7 L1917.9,1192.7 L1918.4,1192.7 L1918.8,1192.7 L1919.3,1192.7 L1919.7,1192.7 L1920.2,1192.6 L1920.7,1192.6 L1921.1,1192.6 L1921.6,1192.6 L1922,1192.5 L1922.5,1192.5 L1923,1192.4 L1923.4,1192.4 L1923.9,1192.3 L1924.3,1192.3 L1924.8,1192.2 L1925.3,1192.1 L1925.7,1192 L1926.2,1191.9 L1926.6,1191.8 L1927.1,1191.7 L1927.6,1191.5 L1928,1191.4 L1928.5,1191.3 L1928.9,1191.1 L1929.4,1190.9 L1929.9,1190.8 L1930.3,1190.6 L1930.8,1190.4 L1931.2,1190.2 L1931.7,1190.1 L1932.2,1189.9 L1932.6,1189.8 L1933.1,1189.6 L1933.5,1189.5 L1934,1189.4 L1934.5,1189.3 L1934.9,1189.2 L1935.4,1189.1 L1935.8,1189.1 L1936.3,1189.1 L1936.8,1189.1 L1937.2,1189.1 L1937.7,1189.2 L1938.1,1189.3 L1938.6,1189.4 L1939.1,1189.5 L1939.5,1189.6 L1940,1189.8 L1940.4,1189.9 L1940.9,1190.1 L1941.4,1190.2 L1941.8,1190.4 L1942.3,1190.6 L1942.7,1190.8 L1943.2,1190.9 L1943.6,1191.1 L1944.1,1191.3 L1944.6,1191.4 L1945,1191.5 L1945.5,1191.7 L1945.9,1191.8 L1946.4,1191.9 L1946.9,1192 L1947.3,1192.1 L1947.8,1192.2 L1948.2,1192.3 L1948.7,1192.3 L1949.2,1192.4 L1949.6,1192.4 L1950.1,1192.5 L1950.5,1192.5 L1951,1192.6 L1951.5,1192.6 L1951.9,1192.6 L1952.4,1192.6 L1952.8,1192.7 L1953.3,1192.7 L1953.8,1192.7 L1954.2,1192.7 L1954.7,1192.7 L1955.1,1192.7 L1955.6,1192.7 L1956.1,1192.7 L1956.5,1192.7 L1957,1192.7 L1957.4,1192.7 L1957.9,1192.7 L1958.4,1192.7 L1958.8,1192.8 L1959.3,1192.8 L1959.7,1192.8 L1960.2,1192.8 L1960.7,1192.8 L1961.1,1192.8 L1961.6,1192.8 L1962,1192.8 L1962.5,1192.8 L1963,1192.8 L1963.4,1192.8 L1963.9,1192.8 L1964.3,1192.8 L1964.8,1192.8 L1965.3,1192.8 L1965.7,1192.8 L1966.2,1192.8 L1966.6,1192.8 L1967.1,1192.8 L1967.6,1192.8 L1968,1192.8 L1968.5,1192.8 L1968.9,1192.8 L1969.4,1192.8 L1969.9,1192.8 L1970.3,1192.8 L1970.8,1192.8 L1971.2,1192.8 L1971.7,1192.8 L1972.1,1192.8 L1972.6,1192.8 L1973.1,1192.8 L1973.5,1192.8 L1974,1192.8 L1974.4,1192.8 L1974.9,1192.8 L1975.4,1192.8 L1975.8,1192.8 L1976.3,1192.8 L1976.7,1192.8 L1977.2,1192.8" fill="none" stroke="#16881a" stroke-width="1" stroke-dasharray="3,1.5"/>
<path d="M1618,1192.8 L1618,1192.8 L1618.4,1192.8 L1618.9,1192.8 L1619.4,1192.8 L1619.8,1192.8 L1620.3,1192.8 L1620.7,1192.8 L1621.2,1192.8 L1621.7,1192.8 L1622.1,1192.8 L1622.6,1192.8 L1623,1192.8 L1623.5,1192.8 L1624,1192.8 L1624.4,1192.8 L1624.9,1192.8 L1625.3,1192.8 L1625.8,1192.8 L1626.3,1192.8 L1626.7,1192.8 L1627.2,1192.8 L1627.6,1192.8 L1628.1,1192.8 L1628.6,1192.8 L1629,1192.8 L1629.5,1192.8 L1629.9,1192.8 L1630.4,1192.8 L1630.9,1192.8 L1631.3,1192.8 L1631.8,1192.8 L1632.2,1192.8 L1632.7,1192.8 L1633.2,1192.8 L1633.6,1192.8 L1634.1,1192.8 L1634.5,1192.8 L1635,1192.8 L1635.4,1192.8 L1635.9,1192.8 L1636.4,1192.8 L1636.8,1192.8 L1637.3,1192.8 L1637.7,1192.8 L1638.2,1192.8 L1638.7,1192.8 L1639.1,1192.8 L1639.6,1192.8 L1640,1192.8 L1640.5,1192.8 L1641,1192.8 L1641.4,1192.8 L1641.9,1192.8 L1642.3,1192.8 L1642.8,1192.8 L1643.3,1192.8 L1643.7,1192.8 L1644.2,1192.8 L1644.6,1192.8 L1645.1,1192.8 L1645.6,1192.8 L1646,1192.8 L1646.5,1192.8 L1646.9,1192.8 L1647.4,1192.8 L1647.9,1192.8 L1648.3,1192.8 L1648.8,1192.8 L1649.2,1192.8 L1649.7,1192.8 L1650.2,1192.8 L1650.6,1192.8 L1651.1,1192.8 L1651.5,1192.8 L1652,1192.8 L1652.5,1192.8 L1652.9,1192.8 L1653.4,1192.8 L1653.8,1192.8 L1654.3,1192.8 L1654.8,1192.8 L1655.2,1192.8 L1655.7,1192.8 L1656.1,1192.8 L1656.6,1192.8 L1657.1,1192.8 L1657.5,1192.8 L1658,1192.8 L1658.4,1192.8 L1658.9,1192.8 L1659.4,1192.8 L1659.8,1192.8 L1660.3,1192.8 L1660.7,1192.8 L1661.2,1192.8 L1661.7,1192.8 L1662.1,1192.8 L1662.6,1192.8 L1663,1192.8 L1663.5,1192.8 L1663.9,1192.8 L1664.4,1192.8 L1664.9,1192.8 L1665.3,1192.8 L1665.8,1192.8 L1666.2,1192.8 L1666.7,1192.8 L1667.2,1192.8 L1667.6,1192.8 L1668.1,1192.8 L1668.5,1192.8 L1669,1192.8 L1669.5,1192.8 L1669.9,1192.8 L1670.4,1192.8 L1670.8,1192.8 L1671.3,1192.8 L1671.8,1192.8 L1672.2,1192.8 L1672.7,1192.8 L1673.1,1192.8 L1673.6,1192.8 L1674.1,1192.8 L1674.5,1192.8 L1675,1192.8 L1675.4,1192.8 L1675.9,1192.8 L1676.4,1192.8 L1676.8,1192.8 L1677.3,1192.8 L1677.7,1192.8 L1678.2,1192.8 L1678.7,1192.8 L1679.1,1192.8 L1679.6,1192.8 L1680,1192.8 L1680.5,1192.8 L1681,1192.8 L1681.4,1192.8 L1681.9,1192.8 L1682.3,1192.8 L1682.8,1192.8 L1683.3,1192.8 L1683.7,1192.8 L1684.2,1192.8 L1684.6,1192.8 L1685.1,1192.8 L1685.6,1192.8 L1686,1192.8 L1686.5,1192.8 L1686.9,1192.8 L1687.4,1192.8 L1687.9,1192.8 L1688.3,1192.8 L1688.8,1192.8 L1689.2,1192.8 L1689.7,1192.8 L1690.1,1192.8 L1690.6,1192.8 L1691.1,1192.8 L1691.5,1192.8 L1692,1192.8 L1692.4,1192.8 L1692.9,1192.8 L1693.4,1192.8 L1693.8,1192.8 L1694.3,1192.8 L1694.7,1192.8 L1695.2,1192.8 L1695.7,1192.8 L1696.1,1192.8 L1696.6,1192.8 L1697,1192.8 L1697.5,1192.8 L1698,1192.8 L1698.4,1192.8 L1698.9,1192.8 L1699.3,1192.8 L1699.8,1192.8 L1700.3,1192.8 L1700.7,1192.8 L1701.2,1192.8 L1701.6,1192.8 L1702.1,1192.8 L1702.6,1192.8 L1703,1192.8 L1703.5,1192.8 L1703.9,1192.8 L1704.4,1192.8 L1704.9,1192.8 L1705.3,1192.8 L1705.8,1192.8 L1706.2,1192.8 L1706.7,1192.8 L1707.2,1192.8 L1707.6,1192.8 L1708.1,1192.8 L1708.5,1192.8 L1709,1192.8 L1709.5,1192.8 L1709.9,1192.8 L1710.4,1192.8 L1710.8,1192.8 L1711.3,1192.8 L1711.8,1192.8 L1712.2,1192.8 L1712.7,1192.8 L1713.1,1192.8 L1713.6,1192.8 L1714.1,1192.8 L1714.5,1192.8 L1715,1192.8 L1715.4,1192.8 L1715.9,1192.8 L1716.3,1192.8 L1716.8,1192.8 L1717.3,1192.8 L1717.7,1192.8 L1718.2,1192.8 L1718.6,1192.8 L1719.1,1192.8 L1719.6,1192.8 L1720,1192.8 L1720.5,1192.8 L1720.9,1192.8 L1721.4,1192.8 L1721.9,1192.8 L1722.3,1192.8 L1722.8,1192.8 L1723.2,1192.8 L1723.7,1192.8 L1724.2,1192.8 L1724.6,1192.8 L1725.1,1192.8 L1725.5,1192.8 L1726,1192.8 L1726.5,1192.8 L1726.9,1192.8 L1727.4,1192.8 L1727.8,1192.8 L1728.3,1192.8 L1728.8,1192.8 L1729.2,1192.8 L1729.7,1192.8 L1730.1,1192.8 L1730.6,1192.8 L1731.1,1192.8 L1731.5,1192.8 L1732,1192.8 L1732.4,1192.8 L1732.9,1192.8 L1733.4,1192.8 L1733.8,1192.8 L1734.3,1192.8 L1734.7,1192.8 L1735.2,1192.8 L1735.7,1192.8 L1736.1,1192.8 L1736.6,1192.8 L1737,1192.8 L1737.5,1192.8 L1738,1192.8 L1738.4,1192.8 L1738.9,1192.8 L1739.3,1192.8 L1739.8,1192.8 L1740.3,1192.8 L1740.7,1192.8 L1741.2,1192.8 L1741.6,1192.8 L1742.1,1192.8 L1742.5,1192.8 L1743,1192.8 L1743.5,1192.8 L1743.9,1192.8 L1744.4,1192.8 L1744.8,1192.8 L1745.3,1192.8 L1745.8,1192.8 L1746.2,1192.8 L1746.7,1192.8 L1747.1,1192.8 L1747.6,1192.7 L1748.1,1192.7 L1748.5,1192.7 L1749,1192.7 L1749.4,1192.7 L1749.9,1192.7 L1750.4,1192.7 L1750.8,1192.7 L1751.3,1192.7 L1751.7,1192.7 L1752.2,1192.7 L1752.7,1192.7 L1753.1,1192.7 L1753.6,1192.7 L1754,1192.7 L1754.5,1192.7 L1755,1192.7 L1755.4,1192.7 L1755.9,1192.7 L1756.3,1192.7 L1756.8,1192.7 L1757.3,1192.7 L1757.7,1192.7 L1758.2,1192.7 L1758.6,1192.7 L1759.1,1192.7 L1759.6,1192.7 L1760,1192.7 L1760.5,1192.7 L1760.9,1192.7 L1761.4,1192.7 L1761.9,1192.7 L1762.3,1192.7 L1762.8,1192.7 L1763.2,1192.7 L1763.7,1192.7 L1764.2,1192.7 L1764.6,1192.7 L1765.1,1192.7 L1765.5,1192.7 L1766,1192.6 L1766.5,1192.6 L1766.9,1192.6 L1767.4,1192.6 L1767.8,1192.6 L1768.3,1192.6 L1768.8,1192.6 L1769.2,1192.6 L1769.7,1192.6 L1770.1,1192.6 L1770.6,1192.6 L1771,1192.6 L1771.5,1192.6 L1772,1192.6 L1772.4,1192.6 L1772.9,1192.6 L1773.3,1192.6 L1773.8,1192.6 L1774.3,1192.6 L1774.7,1192.6 L1775.2,1192.6 L1775.6,1192.5 L1776.1,1192.5 L1776.6,1192.5 L1777,1192.5 L1777.5,1192.5 L1777.9,1192.5 L1778.4,1192.5 L1778.9,1192.5 L1779.3,1192.5 L1779.8,1192.5 L1780.2,1192.5 L1780.7,1192.5 L1781.2,1192.5 L1781.6,1192.5 L1782.1,1192.4 L1782.5,1192.4 L1783,1192.4 L1783.5,1192.4 L1783.9,1192.4 L1784.4,1192.4 L1784.8,1192.4 L1785.3,1192.4 L1785.8,1192.4 L1786.2,1192.4 L1786.7,1192.4 L1787.1,1192.4 L1787.6,1192.4 L1788.1,1192.3 L1788.5,1192.3 L1789,1192.3 L1789.4,1192.3 L1789.9,1192.3 L1790.4,1192.3 L1790.8,1192.3 L1791.3,1192.3 L1791.7,1192.3 L1792.2,1192.3 L1792.7,1192.3 L1793.1,1192.2 L1793.6,1192.2 L1794,1192.2 L1794.5,1192.2 L1795,1192.2 L1795.4,1192.2 L1795.9,1192.2 L1796.3,1192.2 L1796.8,1192.2 L1797.2,1192.2 L1797.7,1192.2 L1798.2,1192.1 L1798.6,1192.1 L1799.1,1192.1 L1799.5,1192.1 L1800,1192.1 L1800.5,1192.1 L1800.9,1192.1 L1801.4,1192.1 L1801.8,1192.1 L1802.3,1192.1 L1802.8,1192.1 L1803.2,1192 L1803.7,1192 L1804.1,1192 L1804.6,1192 L1805.1,1192 L1805.5,1192 L1806,1192 L1806.4,1192 L1806.9,1192 L1807.4,1192 L1807.8,1192 L1808.3,1192 L1808.7,1191.9 L1809.2,1191.9 L1809.7,1191.9 L1810.1,1191.9 L1810.6,1191.9 L1811,1191.9 L1811.5,1191.9 L1812,1191.9 L1812.4,1191.9 L1812.9,1191.9 L1813.3,1191.9 L1813.8,1191.9 L1814.3,1191.9 L1814.7,1191.9 L1815.2,1191.9 L1815.6,1191.9 L1816.1,1191.8 L1816.6,1191.8 L1817,1191.8 L1817.5,1191.8 L1817.9,1191.8 L1818.4,1191.8 L1818.9,1191.8 L1819.3,1191.8 L1819.8,1191.8 L1820.2,1191.8 L1820.7,1191.8 L1821.2,1191.8 L1821.6,1191.8 L1822.1,1191.8 L1822.5,1191.8 L1823,1191.8 L1823.4,1191.8 L1823.9,1191.8 L1824.4,1191.8 L1824.8,1191.8 L1825.3,1191.8 L1825.7,1191.8 L1826.2,1191.8 L1826.7,1191.8 L1827.1,1191.8 L1827.6,1191.8 L1828,1191.8 L1828.5,1191.8 L1829,1191.8 L1829.4,1191.8 L1829.9,1191.8 L1830.3,1191.8 L1830.8,1191.8 L1831.3,1191.8 L1831.7,1191.8 L1832.2,1191.8 L1832.6,1191.8 L1833.1,1191.8 L1833.6,1191.8 L1834,1191.9 L1834.5,1191.9 L1834.9,1191.9 L1835.4,1191.9 L1835.9,1191.9 L1836.3,1191.9 L1836.8,1191.9 L1837.2,1191.9 L1837.7,1191.9 L1838.2,1191.9 L1838.6,1191.9 L1839.1,1191.9 L1839.5,1191.9 L1840,1191.9 L1840.5,1191.9 L1840.9,1191.9 L1841.4,1192 L1841.8,1192 L1842.3,1192 L1842.8,1192 L1843.2,1192 L1843.7,1192 L1844.1,1192 L1844.6,1192 L1845.1,1192 L1845.5,1192 L1846,1192 L1846.4,1192 L1846.9,1192.1 L1847.4,1192.1 L1847.8,1192.1 L1848.3,1192.1 L1848.7,1192.1 L1849.2,1192.1 L1849.7,1192.1 L1850.1,1192.1 L1850.6,1192.1 L1851,1192.1 L1851.5,1192.1 L1851.9,1192.2 L1852.4,1192.2 L1852.9,1192.2 L1853.3,1192.2 L1853.8,1192.2 L1854.2,1192.2 L1854.7,1192.2 L1855.2,1192.2 L1855.6,1192.2 L1856.1,1192.2 L1856.5,1192.2 L1857,1192.3 L1857.5,1192.3 L1857.9,1192.3 L1858.4,1192.3 L1858.8,1192.3 L1859.3,1192.3 L1859.8,1192.3 L1860.2,1192.3 L1860.7,1192.3 L1861.1,1192.3 L1861.6,1192.3 L1862.1,1192.4 L1862.5,1192.4 L1863,1192.4 L1863.4,1192.4 L1863.9,1192.4 L1864.4,1192.4 L1864.8,1192.4 L1865.3,1192.4 L1865.7,1192.4 L1866.2,1192.4 L1866.7,1192.4 L1867.1,1192.4 L1867.6,1192.4 L1868,1192.5 L1868.5,1192.5 L1869,1192.5 L1869.4,1192.5 L1869.9,1192.5 L1870.3,1192.5 L1870.8,1192.5 L1871.3,1192.5 L1871.7,1192.5 L1872.2,1192.5 L1872.6,1192.5 L1873.1,1192.5 L1873.6,1192.5 L1874,1192.5 L1874.5,1192.6 L1874.9,1192.6 L1875.4,1192.6 L1875.9,1192.6 L1876.3,1192.6 L1876.8,1192.6 L1877.2,1192.6 L1877.7,1192.6 L1878.1,1192.6 L1878.6,1192.6 L1879.1,1192.6 L1879.5,1192.6 L1880,1192.6 L1880.4,1192.6 L1880.9,1192.6 L1881.4,1192.6 L1881.8,1192.6 L1882.3,1192.6 L1882.7,1192.6 L1883.2,1192.6 L1883.7,1192.6 L1884.1,1192.7 L1884.6,1192.7 L1885,1192.7 L1885.5,1192.7 L1886,1192.7 L1886.4,1192.7 L1886.9,1192.7 L1887.3,1192.7 L1887.8,1192.7 L1888.3,1192.7 L1888.7,1192.7 L1889.2,1192.7 L1889.6,1192.7 L1890.1,1192.7 L1890.6,1192.7 L1891,1192.7 L1891.5,1192.7 L1891.9,1192.7 L1892.4,1192.7 L1892.9,1192.7 L1893.3,1192.7 L1893.8,1192.7 L1894.2,1192.7 L1894.7,1192.7 L1895.2,1192.7 L1895.6,1192.7 L1896.1,1192.7 L1896.5,1192.7 L1897,1192.7 L1897.5,1192.7 L1897.9,1192.7 L1898.4,1192.7 L1898.8,1192.7 L1899.3,1192.7 L1899.8,1192.7 L1900.2,1192.7 L1900.7,1192.7 L1901.1,1192.7 L1901.6,1192.7 L1902.1,1192.7 L1902.5,1192.8 L1903,1192.8 L1903.4,1192.8 L1903.9,1192.8 L1904.3,1192.8 L1904.8,1192.8 L1905.3,1192.8 L1905.7,1192.8 L1906.2,1192.8 L1906.6,1192.8 L1907.1,1192.8 L1907.6,1192.8 L1908,1192.8 L1908.5,1192.8 L1908.9,1192.8 L1909.4,1192.8 L1909.9,1192.8 L1910.3,1192.8 L1910.8,1192.8 L1911.2,1192.8 L1911.7,1192.8 L1912.2,1192.8 L1912.6,1192.8 L1913.1,1192.8 L1913.5,1192.8 L1914,1192.8 L1914.5,1192.8 L1914.9,1192.8 L1915.4,1192.8 L1915.8,1192.8 L1916.3,1192.8 L1916.8,1192.8 L1917.2,1192.8 L1917.7,1192.8 L1918.1,1192.8 L1918.6,1192.8 L1919.1,1192.8 L1919.5,1192.8 L1920,1192.8 L1920.4,1192.8 L1920.9,1192.8 L1921.4,1192.8 L1921.8,1192.8 L1922.3,1192.8 L1922.7,1192.8 L1923.2,1192.8 L1923.7,1192.8 L1924.1,1192.8 L1924.6,1192.8 L1925,1192.8 L1925.5,1192.8 L1926,1192.8 L1926.4,1192.8 L1926.9,1192.8 L1927.3,1192.8 L1927.8,1192.8 L1928.3,1192.8 L1928.7,1192.8 L1929.2,1192.8 L1929.6,1192.8 L1930.1,1192.8 L1930.5,1192.8 L1931,1192.8 L1931.5,1192.8 L1931.9,1192.8 L1932.4,1192.8 L1932.8,1192.8 L1933.3,1192.8 L1933.8,1192.8 L1934.2,1192.8 L1934.7,1192.8 L1935.1,1192.8 L1935.6,1192.8 L1936.1,1192.8 L1936.5,1192.8 L1937,1192.8 L1937.4,1192.8 L1937.9,1192.8 L1938.4,1192.8 L1938.8,1192.8 L1939.3,1192.8 L1939.7,1192.8 L1940.2,1192.8 L1940.7,1192.8 L1941.1,1192.8 L1941.6,1192.8 L1942,1192.8 L1942.5,1192.8 L1943,1192.8 L1943.4,1192.8 L1943.9,1192.8 L1944.3,1192.8 L1944.8,1192.8 L1945.3,1192.8 L1945.7,1192.8 L1946.2,1192.8 L1946.6,1192.8 L1947.1,1192.8 L1947.6,1192.8 L1948,1192.8 L1948.5,1192.8 L1948.9,1192.8 L1949.4,1192.8 L1949.9,1192.8 L1950.3,1192.8 L1950.8,1192.8 L1951.2,1192.8 L1951.7,1192.8 L1952.2,1192.8 L1952.6,1192.8 L1953.1,1192.8 L1953.5,1192.8 L1954,1192.8 L1954.5,1192.8 L1954.9,1192.8 L1955.4,1192.8 L1955.8,1192.8 L1956.3,1192.8 L1956.8,1192.8 L1957.2,1192.8 L1957.7,1192.8 L1958.1,1192.8 L1958.6,1192.8 L1959,1192.8 L1959.5,1192.8 L1960,1192.8 L1960.4,1192.8 L1960.9,1192.8 L1961.3,1192.8 L1961.8,1192.8 L1962.3,1192.8 L1962.7,1192.8 L1963.2,1192.8 L1963.6,1192.8 L1964.1,1192.8 L1964.6,1192.8 L1965,1192.8 L1965.5,1192.8 L1965.9,1192.8 L1966.4,1192.8 L1966.9,1192.8 L1967.3,1192.8 L1967.8,1192.8 L1968.2,1192.8 L1968.7,1192.8 L1969.2,1192.8 L1969.6,1192.8 L1970.1,1192.8 L1970.5,1192.8 L1971,1192.8 L1971.5,1192.8 L1971.9,1192.8 L1972.4,1192.8 L1972.8,1192.8 L1973.3,1192.8 L1973.8,1192.8 L1974.2,1192.8 L1974.7,1192.8 L1975.1,1192.8 L1975.6,1192.8 L1976.1,1192.8 L1976.5,1192.8 L1977,1192.8 L1977.4,1192.8 L1977.9,1192.8 L1978.4,1192.8 L1978.8,1192.8 L1979.3,1192.8 L1979.7,1192.8 L1980.2,1192.8 L1980.7,1192.8 L1981.1,1192.8 L1981.6,1192.8 L1982,1192.8 L1982.5,1192.8 L1983,1192.8 L1983.4,1192.8 L1983.9,1192.8 L1984.3,1192.8 L1984.8,1192.8 L1985.2,1192.8 L1985.7,1192.8 L1986.2,1192.8 L1986.6,1192.8 L1987.1,1192.8 L1987.5,1192.8 L1988,1192.8 L1988.5,1192.8 L1988.9,1192.8 L1989.4,1192.8 L1989.8,1192.8 L1990.3,1192.8 L1990.8,1192.8 L1991.2,1192.8 L1991.7,1192.8 L1992.1,1192.8 L1992.6,1192.8 L1993.1,1192.8 L1993.5,1192.8 L1994,1192.8 L1994.4,1192.8 L1994.9,1192.8 L1995.4,1192.8 L1995.8,1192.8 L1996.3,1192.8 L1996.7,1192.8 L1997.2,1192.8 L1997.7,1192.8 L1998.1,1192.8 L1998.6,1192.8 L1999,1192.8 L1999.5,1192.8 L2000,1192.8 L2000.4,1192.8 L2000.9,1192.8 L2001.3,1192.8 L2001.8,1192.8 L2002.3,1192.8 L2002.7,1192.8 L2003.2,1192.8 L2003.6,1192.8 L2004.1,1192.8 L2004.6,1192.8 L2005,1192.8 L2005.5,1192.8 L2005.9,1192.8 L2006.4,1192.8 L2006.9,1192.8 L2007.3,1192.8 L2007.8,1192.8 L2008.2,1192.8 L2008.7,1192.8 L2009.2,1192.8 L2009.6,1192.8 L2010.1,1192.8 L2010.5,1192.8 L2011,1192.8 L2011.4,1192.8 L2011.9,1192.8 L2012.4,1192.8 L2012.8,1192.8 L2013.3,1192.8 L2013.7,1192.8 L2014.2,1192.8 L2014.7,1192.8 L2015.1,1192.8 L2015.6,1192.8 L2016,1192.8 L2016.5,1192.8 L2017,1192.8 L2017.4,1192.8 L2017.9,1192.8 L2018.3,1192.8 L2018.8,1192.8 L2019.3,1192.8 L2019.7,1192.8 L2020.2,1192.8 L2020.6,1192.8 L2021.1,1192.8 L2021.6,1192.8 L2022,1192.8 L2022.5,1192.8 L2022.9,1192.8 L2023.4,1192.8 L2023.9,1192.8 L2024.3,1192.8 L2024.8,1192.8 L2025.2,1192.8 L2025.7,1192.8 L2026.2,1192.8 L2026.6,1192.8 L2027.1,1192.8 L2027.5,1192.8 L2028,1192.8 L2028.5,1192.8 L2028.9,1192.8 L2029.4,1192.8 L2029.8,1192.8 L2030.3,1192.8 L2030.8,1192.8 L2031.2,1192.8 L2031.2,1192.8 Z" fill="url(#gg)"/>
<path d="M1618,1192.8 L1618.4,1192.8 L1618.9,1192.8 L1619.4,1192.8 L1619.8,1192.8 L1620.3,1192.8 L1620.7,1192.8 L1621.2,1192.8 L1621.7,1192.8 L1622.1,1192.8 L1622.6,1192.8 L1623,1192.8 L1623.5,1192.8 L1624,1192.8 L1624.4,1192.8 L1624.9,1192.8 L1625.3,1192.8 L1625.8,1192.8 L1626.3,1192.8 L1626.7,1192.8 L1627.2,1192.8 L1627.6,1192.8 L1628.1,1192.8 L1628.6,1192.8 L1629,1192.8 L1629.5,1192.8 L1629.9,1192.8 L1630.4,1192.8 L1630.9,1192.8 L1631.3,1192.8 L1631.8,1192.8 L1632.2,1192.8 L1632.7,1192.8 L1633.2,1192.8 L1633.6,1192.8 L1634.1,1192.8 L1634.5,1192.8 L1635,1192.8 L1635.4,1192.8 L1635.9,1192.8 L1636.4,1192.8 L1636.8,1192.8 L1637.3,1192.8 L1637.7,1192.8 L1638.2,1192.8 L1638.7,1192.8 L1639.1,1192.8 L1639.6,1192.8 L1640,1192.8 L1640.5,1192.8 L1641,1192.8 L1641.4,1192.8 L1641.9,1192.8 L1642.3,1192.8 L1642.8,1192.8 L1643.3,1192.8 L1643.7,1192.8 L1644.2,1192.8 L1644.6,1192.8 L1645.1,1192.8 L1645.6,1192.8 L1646,1192.8 L1646.5,1192.8 L1646.9,1192.8 L1647.4,1192.8 L1647.9,1192.8 L1648.3,1192.8 L1648.8,1192.8 L1649.2,1192.8 L1649.7,1192.8 L1650.2,1192.8 L1650.6,1192.8 L1651.1,1192.8 L1651.5,1192.8 L1652,1192.8 L1652.5,1192.8 L1652.9,1192.8 L1653.4,1192.8 L1653.8,1192.8 L1654.3,1192.8 L1654.8,1192.8 L1655.2,1192.8 L1655.7,1192.8 L1656.1,1192.8 L1656.6,1192.8 L1657.1,1192.8 L1657.5,1192.8 L1658,1192.8 L1658.4,1192.8 L1658.9,1192.8 L1659.4,1192.8 L1659.8,1192.8 L1660.3,1192.8 L1660.7,1192.8 L1661.2,1192.8 L1661.7,1192.8 L1662.1,1192.8 L1662.6,1192.8 L1663,1192.8 L1663.5,1192.8 L1663.9,1192.8 L1664.4,1192.8 L1664.9,1192.8 L1665.3,1192.8 L1665.8,1192.8 L1666.2,1192.8 L1666.7,1192.8 L1667.2,1192.8 L1667.6,1192.8 L1668.1,1192.8 L1668.5,1192.8 L1669,1192.8 L1669.5,1192.8 L1669.9,1192.8 L1670.4,1192.8 L1670.8,1192.8 L1671.3,1192.8 L1671.8,1192.8 L1672.2,1192.8 L1672.7,1192.8 L1673.1,1192.8 L1673.6,1192.8 L1674.1,1192.8 L1674.5,1192.8 L1675,1192.8 L1675.4,1192.8 L1675.9,1192.8 L1676.4,1192.8 L1676.8,1192.8 L1677.3,1192.8 L1677.7,1192.8 L1678.2,1192.8 L1678.7,1192.8 L1679.1,1192.8 L1679.6,1192.8 L1680,1192.8 L1680.5,1192.8 L1681,1192.8 L1681.4,1192.8 L1681.9,1192.8 L1682.3,1192.8 L1682.8,1192.8 L1683.3,1192.8 L1683.7,1192.8 L1684.2,1192.8 L1684.6,1192.8 L1685.1,1192.8 L1685.6,1192.8 L1686,1192.8 L1686.5,1192.8 L1686.9,1192.8 L1687.4,1192.8 L1687.9,1192.8 L1688.3,1192.8 L1688.8,1192.8 L1689.2,1192.8 L1689.7,1192.8 L1690.1,1192.8 L1690.6,1192.8 L1691.1,1192.8 L1691.5,1192.8 L1692,1192.8 L1692.4,1192.8 L1692.9,1192.8 L1693.4,1192.8 L1693.8,1192.8 L1694.3,1192.8 L1694.7,1192.8 L1695.2,1192.8 L1695.7,1192.8 L1696.1,1192.8 L1696.6,1192.8 L1697,1192.8 L1697.5,1192.8 L1698,1192.8 L1698.4,1192.8 L1698.9,1192.8 L1699.3,1192.8 L1699.8,1192.8 L1700.3,1192.8 L1700.7,1192.8 L1701.2,1192.8 L1701.6,1192.8 L1702.1,1192.8 L1702.6,1192.8 L1703,1192.8 L1703.5,1192.8 L1703.9,1192.8 L1704.4,1192.8 L1704.9,1192.8 L1705.3,1192.8 L1705.8,1192.8 L1706.2,1192.8 L1706.7,1192.8 L1707.2,1192.8 L1707.6,1192.8 L1708.1,1192.8 L1708.5,1192.8 L1709,1192.8 L1709.5,1192.8 L1709.9,1192.8 L1710.4,1192.8 L1710.8,1192.8 L1711.3,1192.8 L1711.8,1192.8 L1712.2,1192.8 L1712.7,1192.8 L1713.1,1192.8 L1713.6,1192.8 L1714.1,1192.8 L1714.5,1192.8 L1715,1192.8 L1715.4,1192.8 L1715.9,1192.8 L1716.3,1192.8 L1716.8,1192.8 L1717.3,1192.8 L1717.7,1192.8 L1718.2,1192.8 L1718.6,1192.8 L1719.1,1192.8 L1719.6,1192.8 L1720,1192.8 L1720.5,1192.8 L1720.9,1192.8 L1721.4,1192.8 L1721.9,1192.8 L1722.3,1192.8 L1722.8,1192.8 L1723.2,1192.8 L1723.7,1192.8 L1724.2,1192.8 L1724.6,1192.8 L1725.1,1192.8 L1725.5,1192.8 L1726,1192.8 L1726.5,1192.8 L1726.9,1192.8 L1727.4,1192.8 L1727.8,1192.8 L1728.3,1192.8 L1728.8,1192.8 L1729.2,1192.8 L1729.7,1192.8 L1730.1,1192.8 L1730.6,1192.8 L1731.1,1192.8 L1731.5,1192.8 L1732,1192.8 L1732.4,1192.8 L1732.9,1192.8 L1733.4,1192.8 L1733.8,1192.8 L1734.3,1192.8 L1734.7,1192.8 L1735.2,1192.8 L1735.7,1192.8 L1736.1,1192.8 L1736.6,1192.8 L1737,1192.8 L1737.5,1192.8 L1738,1192.8 L1738.4,1192.8 L1738.9,1192.8 L1739.3,1192.8 L1739.8,1192.8 L1740.3,1192.8 L1740.7,1192.8 L1741.2,1192.8 L1741.6,1192.8 L1742.1,1192.8 L1742.5,1192.8 L1743,1192.8 L1743.5,1192.8 L1743.9,1192.8 L1744.4,1192.8 L1744.8,1192.8 L1745.3,1192.8 L1745.8,1192.8 L1746.2,1192.8 L1746.7,1192.8 L1747.1,1192.8 L1747.6,1192.7 L1748.1,1192.7 L1748.5,1192.7 L1749,1192.7 L1749.4,1192.7 L1749.9,1192.7 L1750.4,1192.7 L1750.8,1192.7 L1751.3,1192.7 L1751.7,1192.7 L1752.2,1192.7 L1752.7,1192.7 L1753.1,1192.7 L1753.6,1192.7 L1754,1192.7 L1754.5,1192.7 L1755,1192.7 L1755.4,1192.7 L1755.9,1192.7 L1756.3,1192.7 L1756.8,1192.7 L1757.3,1192.7 L1757.7,1192.7 L1758.2,1192.7 L1758.6,1192.7 L1759.1,1192.7 L1759.6,1192.7 L1760,1192.7 L1760.5,1192.7 L1760.9,1192.7 L1761.4,1192.7 L1761.9,1192.7 L1762.3,1192.7 L1762.8,1192.7 L1763.2,1192.7 L1763.7,1192.7 L1764.2,1192.7 L1764.6,1192.7 L1765.1,1192.7 L1765.5,1192.7 L1766,1192.6 L1766.5,1192.6 L1766.9,1192.6 L1767.4,1192.6 L1767.8,1192.6 L1768.3,1192.6 L1768.8,1192.6 L1769.2,1192.6 L1769.7,1192.6 L1770.1,1192.6 L1770.6,1192.6 L1771,1192.6 L1771.5,1192.6 L1772,1192.6 L1772.4,1192.6 L1772.9,1192.6 L1773.3,1192.6 L1773.8,1192.6 L1774.3,1192.6 L1774.7,1192.6 L1775.2,1192.6 L1775.6,1192.5 L1776.1,1192.5 L1776.6,1192.5 L1777,1192.5 L1777.5,1192.5 L1777.9,1192.5 L1778.4,1192.5 L1778.9,1192.5 L1779.3,1192.5 L1779.8,1192.5 L1780.2,1192.5 L1780.7,1192.5 L1781.2,1192.5 L1781.6,1192.5 L1782.1,1192.4 L1782.5,1192.4 L1783,1192.4 L1783.5,1192.4 L1783.9,1192.4 L1784.4,1192.4 L1784.8,1192.4 L1785.3,1192.4 L1785.8,1192.4 L1786.2,1192.4 L1786.7,1192.4 L1787.1,1192.4 L1787.6,1192.4 L1788.1,1192.3 L1788.5,1192.3 L1789,1192.3 L1789.4,1192.3 L1789.9,1192.3 L1790.4,1192.3 L1790.8,1192.3 L1791.3,1192.3 L1791.7,1192.3 L1792.2,1192.3 L1792.7,1192.3 L1793.1,1192.2 L1793.6,1192.2 L1794,1192.2 L1794.5,1192.2 L1795,1192.2 L1795.4,1192.2 L1795.9,1192.2 L1796.3,1192.2 L1796.8,1192.2 L1797.2,1192.2 L1797.7,1192.2 L1798.2,1192.1 L1798.6,1192.1 L1799.1,1192.1 L1799.5,1192.1 L1800,1192.1 L1800.5,1192.1 L1800.9,1192.1 L1801.4,1192.1 L1801.8,1192.1 L1802.3,1192.1 L1802.8,1192.1 L1803.2,1192 L1803.7,1192 L1804.1,1192 L1804.6,1192 L1805.1,1192 L1805.5,1192 L1806,1192 L1806.4,1192 L1806.9,1192 L1807.4,1192 L1807.8,1192 L1808.3,1192 L1808.7,1191.9 L1809.2,1191.9 L1809.7,1191.9 L1810.1,1191.9 L1810.6,1191.9 L1811,1191.9 L1811.5,1191.9 L1812,1191.9 L1812.4,1191.9 L1812.9,1191.9 L1813.3,1191.9 L1813.8,1191.9 L1814.3,1191.9 L1814.7,1191.9 L1815.2,1191.9 L1815.6,1191.9 L1816.1,1191.8 L1816.6,1191.8 L1817,1191.8 L1817.5,1191.8 L1817.9,1191.8 L1818.4,1191.8 L1818.9,1191.8 L1819.3,1191.8 L1819.8,1191.8 L1820.2,1191.8 L1820.7,1191.8 L1821.2,1191.8 L1821.6,1191.8 L1822.1,1191.8 L1822.5,1191.8 L1823,1191.8 L1823.4,1191.8 L1823.9,1191.8 L1824.4,1191.8 L1824.8,1191.8 L1825.3,1191.8 L1825.7,1191.8 L1826.2,1191.8 L1826.7,1191.8 L1827.1,1191.8 L1827.6,1191.8 L1828,1191.8 L1828.5,1191.8 L1829,1191.8 L1829.4,1191.8 L1829.9,1191.8 L1830.3,1191.8 L1830.8,1191.8 L1831.3,1191.8 L1831.7,1191.8 L1832.2,1191.8 L1832.6,1191.8 L1833.1,1191.8 L1833.6,1191.8 L1834,1191.9 L1834.5,1191.9 L1834.9,1191.9 L1835.4,1191.9 L1835.9,1191.9 L1836.3,1191.9 L1836.8,1191.9 L1837.2,1191.9 L1837.7,1191.9 L1838.2,1191.9 L1838.6,1191.9 L1839.1,1191.9 L1839.5,1191.9 L1840,1191.9 L1840.5,1191.9 L1840.9,1191.9 L1841.4,1192 L1841.8,1192 L1842.3,1192 L1842.8,1192 L1843.2,1192 L1843.7,1192 L1844.1,1192 L1844.6,1192 L1845.1,1192 L1845.5,1192 L1846,1192 L1846.4,1192 L1846.9,1192.1 L1847.4,1192.1 L1847.8,1192.1 L1848.3,1192.1 L1848.7,1192.1 L1849.2,1192.1 L1849.7,1192.1 L1850.1,1192.1 L1850.6,1192.1 L1851,1192.1 L1851.5,1192.1 L1851.9,1192.2 L1852.4,1192.2 L1852.9,1192.2 L1853.3,1192.2 L1853.8,1192.2 L1854.2,1192.2 L1854.7,1192.2 L1855.2,1192.2 L1855.6,1192.2 L1856.1,1192.2 L1856.5,1192.2 L1857,1192.3 L1857.5,1192.3 L1857.9,1192.3 L1858.4,1192.3 L1858.8,1192.3 L1859.3,1192.3 L1859.8,1192.3 L1860.2,1192.3 L1860.7,1192.3 L1861.1,1192.3 L1861.6,1192.3 L1862.1,1192.4 L1862.5,1192.4 L1863,1192.4 L1863.4,1192.4 L1863.9,1192.4 L1864.4,1192.4 L1864.8,1192.4 L1865.3,1192.4 L1865.7,1192.4 L1866.2,1192.4 L1866.7,1192.4 L1867.1,1192.4 L1867.6,1192.4 L1868,1192.5 L1868.5,1192.5 L1869,1192.5 L1869.4,1192.5 L1869.9,1192.5 L1870.3,1192.5 L1870.8,1192.5 L1871.3,1192.5 L1871.7,1192.5 L1872.2,1192.5 L1872.6,1192.5 L1873.1,1192.5 L1873.6,1192.5 L1874,1192.5 L1874.5,1192.6 L1874.9,1192.6 L1875.4,1192.6 L1875.9,1192.6 L1876.3,1192.6 L1876.8,1192.6 L1877.2,1192.6 L1877.7,1192.6 L1878.1,1192.6 L1878.6,1192.6 L1879.1,1192.6 L1879.5,1192.6 L1880,1192.6 L1880.4,1192.6 L1880.9,1192.6 L1881.4,1192.6 L1881.8,1192.6 L1882.3,1192.6 L1882.7,1192.6 L1883.2,1192.6 L1883.7,1192.6 L1884.1,1192.7 L1884.6,1192.7 L1885,1192.7 L1885.5,1192.7 L1886,1192.7 L1886.4,1192.7 L1886.9,1192.7 L1887.3,1192.7 L1887.8,1192.7 L1888.3,1192.7 L1888.7,1192.7 L1889.2,1192.7 L1889.6,1192.7 L1890.1,1192.7 L1890.6,1192.7 L1891,1192.7 L1891.5,1192.7 L1891.9,1192.7 L1892.4,1192.7 L1892.9,1192.7 L1893.3,1192.7 L1893.8,1192.7 L1894.2,1192.7 L1894.7,1192.7 L1895.2,1192.7 L1895.6,1192.7 L1896.1,1192.7 L1896.5,1192.7 L1897,1192.7 L1897.5,1192.7 L1897.9,1192.7 L1898.4,1192.7 L1898.8,1192.7 L1899.3,1192.7 L1899.8,1192.7 L1900.2,1192.7 L1900.7,1192.7 L1901.1,1192.7 L1901.6,1192.7 L1902.1,1192.7 L1902.5,1192.8 L1903,1192.8 L1903.4,1192.8 L1903.9,1192.8 L1904.3,1192.8 L1904.8,1192.8 L1905.3,1192.8 L1905.7,1192.8 L1906.2,1192.8 L1906.6,1192.8 L1907.1,1192.8 L1907.6,1192.8 L1908,1192.8 L1908.5,1192.8 L1908.9,1192.8 L1909.4,1192.8 L1909.9,1192.8 L1910.3,1192.8 L1910.8,1192.8 L1911.2,1192.8 L1911.7,1192.8 L1912.2,1192.8 L1912.6,1192.8 L1913.1,1192.8 L1913.5,1192.8 L1914,1192.8 L1914.5,1192.8 L1914.9,1192.8 L1915.4,1192.8 L1915.8,1192.8 L1916.3,1192.8 L1916.8,1192.8 L1917.2,1192.8 L1917.7,1192.8 L1918.1,1192.8 L1918.6,1192.8 L1919.1,1192.8 L1919.5,1192.8 L1920,1192.8 L1920.4,1192.8 L1920.9,1192.8 L1921.4,1192.8 L1921.8,1192.8 L1922.3,1192.8 L1922.7,1192.8 L1923.2,1192.8 L1923.7,1192.8 L1924.1,1192.8 L1924.6,1192.8 L1925,1192.8 L1925.5,1192.8 L1926,1192.8 L1926.4,1192.8 L1926.9,1192.8 L1927.3,1192.8 L1927.8,1192.8 L1928.3,1192.8 L1928.7,1192.8 L1929.2,1192.8 L1929.6,1192.8 L1930.1,1192.8 L1930.5,1192.8 L1931,1192.8 L1931.5,1192.8 L1931.9,1192.8 L1932.4,1192.8 L1932.8,1192.8 L1933.3,1192.8 L1933.8,1192.8 L1934.2,1192.8 L1934.7,1192.8 L1935.1,1192.8 L1935.6,1192.8 L1936.1,1192.8 L1936.5,1192.8 L1937,1192.8 L1937.4,1192.8 L1937.9,1192.8 L1938.4,1192.8 L1938.8,1192.8 L1939.3,1192.8 L1939.7,1192.8 L1940.2,1192.8 L1940.7,1192.8 L1941.1,1192.8 L1941.6,1192.8 L1942,1192.8 L1942.5,1192.8 L1943,1192.8 L1943.4,1192.8 L1943.9,1192.8 L1944.3,1192.8 L1944.8,1192.8 L1945.3,1192.8 L1945.7,1192.8 L1946.2,1192.8 L1946.6,1192.8 L1947.1,1192.8 L1947.6,1192.8 L1948,1192.8 L1948.5,1192.8 L1948.9,1192.8 L1949.4,1192.8 L1949.9,1192.8 L1950.3,1192.8 L1950.8,1192.8 L1951.2,1192.8 L1951.7,1192.8 L1952.2,1192.8 L1952.6,1192.8 L1953.1,1192.8 L1953.5,1192.8 L1954,1192.8 L1954.5,1192.8 L1954.9,1192.8 L1955.4,1192.8 L1955.8,1192.8 L1956.3,1192.8 L1956.8,1192.8 L1957.2,1192.8 L1957.7,1192.8 L1958.1,1192.8 L1958.6,1192.8 L1959,1192.8 L1959.5,1192.8 L1960,1192.8 L1960.4,1192.8 L1960.9,1192.8 L1961.3,1192.8 L1961.8,1192.8 L1962.3,1192.8 L1962.7,1192.8 L1963.2,1192.8 L1963.6,1192.8 L1964.1,1192.8 L1964.6,1192.8 L1965,1192.8 L1965.5,1192.8 L1965.9,1192.8 L1966.4,1192.8 L1966.9,1192.8 L1967.3,1192.8 L1967.8,1192.8 L1968.2,1192.8 L1968.7,1192.8 L1969.2,1192.8 L1969.6,1192.8 L1970.1,1192.8 L1970.5,1192.8 L1971,1192.8 L1971.5,1192.8 L1971.9,1192.8 L1972.4,1192.8 L1972.8,1192.8 L1973.3,1192.8 L1973.8,1192.8 L1974.2,1192.8 L1974.7,1192.8 L1975.1,1192.8 L1975.6,1192.8 L1976.1,1192.8 L1976.5,1192.8 L1977,1192.8 L1977.4,1192.8 L1977.9,1192.8 L1978.4,1192.8 L1978.8,1192.8 L1979.3,1192.8 L1979.7,1192.8 L1980.2,1192.8 L1980.7,1192.8 L1981.1,1192.8 L1981.6,1192.8 L1982,1192.8 L1982.5,1192.8 L1983,1192.8 L1983.4,1192.8 L1983.9,1192.8 L1984.3,1192.8 L1984.8,1192.8 L1985.2,1192.8 L1985.7,1192.8 L1986.2,1192.8 L1986.6,1192.8 L1987.1,1192.8 L1987.5,1192.8 L1988,1192.8 L1988.5,1192.8 L1988.9,1192.8 L1989.4,1192.8 L1989.8,1192.8 L1990.3,1192.8 L1990.8,1192.8 L1991.2,1192.8 L1991.7,1192.8 L1992.1,1192.8 L1992.6,1192.8 L1993.1,1192.8 L1993.5,1192.8 L1994,1192.8 L1994.4,1192.8 L1994.9,1192.8 L1995.4,1192.8 L1995.8,1192.8 L1996.3,1192.8 L1996.7,1192.8 L1997.2,1192.8 L1997.7,1192.8 L1998.1,1192.8 L1998.6,1192.8 L1999,1192.8 L1999.5,1192.8 L2000,1192.8 L2000.4,1192.8 L2000.9,1192.8 L2001.3,1192.8 L2001.8,1192.8 L2002.3,1192.8 L2002.7,1192.8 L2003.2,1192.8 L2003.6,1192.8 L2004.1,1192.8 L2004.6,1192.8 L2005,1192.8 L2005.5,1192.8 L2005.9,1192.8 L2006.4,1192.8 L2006.9,1192.8 L2007.3,1192.8 L2007.8,1192.8 L2008.2,1192.8 L2008.7,1192.8 L2009.2,1192.8 L2009.6,1192.8 L2010.1,1192.8 L2010.5,1192.8 L2011,1192.8 L2011.4,1192.8 L2011.9,1192.8 L2012.4,1192.8 L2012.8,1192.8 L2013.3,1192.8 L2013.7,1192.8 L2014.2,1192.8 L2014.7,1192.8 L2015.1,1192.8 L2015.6,1192.8 L2016,1192.8 L2016.5,1192.8 L2017,1192.8 L2017.4,1192.8 L2017.9,1192.8 L2018.3,1192.8 L2018.8,1192.8 L2019.3,1192.8 L2019.7,1192.8 L2020.2,1192.8 L2020.6,1192.8 L2021.1,1192.8 L2021.6,1192.8 L2022,1192.8 L2022.5,1192.8 L2022.9,1192.8 L2023.4,1192.8 L2023.9,1192.8 L2024.3,1192.8 L2024.8,1192.8 L2025.2,1192.8 L2025.7,1192.8 L2026.2,1192.8 L2026.6,1192.8 L2027.1,1192.8 L2027.5,1192.8 L2028,1192.8 L2028.5,1192.8 L2028.9,1192.8 L2029.4,1192.8 L2029.8,1192.8 L2030.3,1192.8 L2030.8,1192.8 L2031.2,1192.8" fill="none" stroke="#16881a" stroke-width="1" stroke-dasharray="3,1.5"/>
<polyline points="1595,1191.8 1595.8,1191.8 1596.6,1192.6 1597.4,1192.4 1598.2,1192.5 1599,1191.8 1599.8,1192 1600.6,1192.4 1601.4,1192.6 1602.2,1192.7 1603,1192.4 1603.8,1192.4 1604.7,1192.5 1605.5,1192.7 1606.3,1191.7 1607.1,1192.6 1607.9,1192.4 1608.7,1190.1 1609.5,1192.1 1610.3,1192.2 1611.1,1191.6 1611.9,1191.7 1612.7,1192 1613.5,1192 1614.3,1192.3 1615.1,1191.7 1615.9,1191.9 1616.7,1191.5 1617.5,1192.1 1618.3,1192.3 1619.1,1192.2 1619.9,1191.5 1620.7,1192.6 1621.5,1191.4 1622.3,1192.6 1623.2,1191.7 1624,1191.7 1624.8,1192.4 1625.6,1190.5 1626.4,1192.3 1627.2,1191.7 1628,1192.4 1628.8,1192.1 1629.6,1192 1630.4,1192.1 1631.2,1191.2 1632,1191.8 1632.8,1192.3 1633.6,1191.9 1634.4,1192.4 1635.2,1192.4 1636,1192.7 1636.8,1192.2 1637.6,1191.5 1638.4,1192.1 1639.2,1192.6 1640,1192.3 1640.9,1192.6 1641.7,1192.4 1642.5,1192.4 1643.3,1191.9 1644.1,1192.3 1644.9,1192.3 1645.7,1191.9 1646.5,1192.2 1647.3,1192.6 1648.1,1191.4 1648.9,1191.5 1649.7,1191.7 1650.5,1192.5 1651.3,1191.3 1652.1,1190.9 1652.9,1192 1653.7,1191.2 1654.5,1190.6 1655.3,1192.4 1656.1,1191.1 1656.9,1192.4 1657.7,1190.8 1658.5,1192.2 1659.4,1192.2 1660.2,1192 1661,1192.3 1661.8,1192.5 1662.6,1191.1 1663.4,1192.5 1664.2,1192.2 1665,1192.4 1665.8,1191.3 1666.6,1192.2 1667.4,1192.5 1668.2,1191.9 1669,1191.8 1669.8,1191 1670.6,1190.6 1671.4,1192 1672.2,1192 1673,1191.6 1673.8,1192.1 1674.6,1192.4 1675.4,1192.3 1676.2,1190.9 1677,1191.5 1677.9,1192.4 1678.7,1192 1679.5,1191.8 1680.3,1192.3 1681.1,1192.1 1681.9,1191.4 1682.7,1190.8 1683.5,1191.7 1684.3,1191.7 1685.1,1191.8 1685.9,1191.4 1686.7,1191.8 1687.5,1191.3 1688.3,1191.9 1689.1,1192.1 1689.9,1190 1690.7,1189.7 1691.5,1191.7 1692.3,1191.9 1693.1,1192 1693.9,1191.8 1694.7,1191.2 1695.5,1189.6 1696.4,1191.3 1697.2,1190.9 1698,1191.8 1698.8,1190 1699.6,1191.8 1700.4,1191.5 1701.2,1191.6 1702,1191.9 1702.8,1191.3 1703.6,1191.1 1704.4,1191.5 1705.2,1191.9 1706,1191.1 1706.8,1191.3 1707.6,1191.1 1708.4,1189.8 1709.2,1191.4 1710,1190.8 1710.8,1190.4 1711.6,1191.1 1712.4,1191.1 1713.2,1190.8 1714.1,1190.3 1714.9,1190.6 1715.7,1191 1716.5,1189.7 1717.3,1190 1718.1,1190.2 1718.9,1190.2 1719.7,1190.1 1720.5,1189.3 1721.3,1189 1722.1,1187.5 1722.9,1187.6 1723.7,1187 1724.5,1187.3 1725.3,1186.3 1726.1,1183.9 1726.9,1183.6 1727.7,1181.4 1728.5,1178.7 1729.3,1176.8 1730.1,1173.5 1730.9,1169.6 1731.7,1164.8 1732.6,1159.2 1733.4,1155 1734.2,1146.8 1735,1140.6 1735.8,1134.1 1736.6,1125.3 1737.4,1118.8 1738.2,1109.7 1739,1101.1 1739.8,1094.3 1740.6,1086.1 1741.4,1078.9 1742.2,1073.1 1743,1067.3 1743.8,1064.3 1744.6,1061.4 1745.4,1060 1746.2,1060.6 1747,1060.9 1747.8,1063.8 1748.6,1067.5 1749.4,1070.6 1750.2,1075.2 1751.1,1080.7 1751.9,1086.5 1752.7,1092.1 1753.5,1098.6 1754.3,1103.5 1755.1,1109.4 1755.9,1117.2 1756.7,1123.3 1757.5,1128.4 1758.3,1136 1759.1,1140.3 1759.9,1146.7 1760.7,1150.8 1761.5,1155.9 1762.3,1160.3 1763.1,1163.4 1763.9,1167.9 1764.7,1171.1 1765.5,1173.9 1766.3,1175.9 1767.1,1178.2 1767.9,1179.2 1768.8,1180.3 1769.6,1182.3 1770.4,1184 1771.2,1185.3 1772,1186.3 1772.8,1186.8 1773.6,1186.7 1774.4,1188.2 1775.2,1187.9 1776,1188.7 1776.8,1189 1777.6,1189.5 1778.4,1189.2 1779.2,1188.6 1780,1188.8 1780.8,1189.7 1781.6,1189.3 1782.4,1190.5 1783.2,1190 1784,1189.6 1784.8,1190.3 1785.6,1189.9 1786.4,1189.1 1787.3,1190.8 1788.1,1190 1788.9,1189.9 1789.7,1190.5 1790.5,1190.4 1791.3,1190.6 1792.1,1190.9 1792.9,1189.8 1793.7,1190.5 1794.5,1191 1795.3,1190.7 1796.1,1191.1 1796.9,1190 1797.7,1190.7 1798.5,1191 1799.3,1190.7 1800.1,1190.1 1800.9,1190.5 1801.7,1190.7 1802.5,1189.8 1803.3,1190.2 1804.1,1190.9 1804.9,1190 1805.8,1189.1 1806.6,1190.5 1807.4,1189.5 1808.2,1189.9 1809,1189.5 1809.8,1191.1 1810.6,1189.8 1811.4,1190.7 1812.2,1190.4 1813,1190.8 1813.8,1190.9 1814.6,1191.1 1815.4,1190.9 1816.2,1190.5 1817,1190.2 1817.8,1190 1818.6,1190.3 1819.4,1191.2 1820.2,1189.5 1821,1190.8 1821.8,1189.9 1822.6,1189.1 1823.4,1190.2 1824.3,1189.5 1825.1,1189.5 1825.9,1191 1826.7,1191.1 1827.5,1190.8 1828.3,1191.1 1829.1,1190.6 1829.9,1190.6 1830.7,1190.7 1831.5,1190 1832.3,1190.6 1833.1,1191 1833.9,1190.6 1834.7,1191.2 1835.5,1190.5 1836.3,1190.6 1837.1,1190.5 1837.9,1190.5 1838.7,1189 1839.5,1191.5 1840.3,1191.2 1841.1,1191.5 1842,1191.5 1842.8,1190.1 1843.6,1191.5 1844.4,1191.2 1845.2,1190.8 1846,1191.6 1846.8,1191.5 1847.6,1189.5 1848.4,1191.1 1849.2,1191.2 1850,1190.2 1850.8,1191.8 1851.6,1191.5 1852.4,1190.6 1853.2,1191.6 1854,1191 1854.8,1191.2 1855.6,1190.9 1856.4,1190.9 1857.2,1191.6 1858,1191.8 1858.8,1190.4 1859.6,1191.2 1860.5,1191.5 1861.3,1190.9 1862.1,1191.2 1862.9,1190.6 1863.7,1191.7 1864.5,1190 1865.3,1190.1 1866.1,1190.7 1866.9,1190.8 1867.7,1190.9 1868.5,1190.2 1869.3,1189.4 1870.1,1187.4 1870.9,1186 1871.7,1184.7 1872.5,1181.5 1873.3,1179.5 1874.1,1176.6 1874.9,1174.1 1875.7,1171.1 1876.5,1167.2 1877.3,1167.8 1878.1,1168.5 1879,1168.9 1879.8,1170.5 1880.6,1171.3 1881.4,1174.4 1882.2,1176.8 1883,1179.4 1883.8,1180.3 1884.6,1182.6 1885.4,1184.2 1886.2,1186.5 1887,1187.1 1887.8,1188.5 1888.6,1190 1889.4,1190.5 1890.2,1189.5 1891,1191.3 1891.8,1190 1892.6,1190.9 1893.4,1191 1894.2,1190.2 1895,1189.5 1895.8,1189.7 1896.6,1192.2 1897.5,1190.2 1898.3,1191.3 1899.1,1191 1899.9,1190 1900.7,1191.2 1901.5,1191.7 1902.3,1192.4 1903.1,1191.8 1903.9,1192.1 1904.7,1191.7 1905.5,1192.3 1906.3,1192.2 1907.1,1192.1 1907.9,1192 1908.7,1191.6 1909.5,1191.6 1910.3,1192.1 1911.1,1190.9 1911.9,1191.3 1912.7,1192.5 1913.5,1192.4 1914.3,1191.3 1915.2,1190.3 1916,1192.1 1916.8,1192.2 1917.6,1192.3 1918.4,1190.3 1919.2,1192.3 1920,1192.4 1920.8,1192 1921.6,1191.4 1922.4,1192.2 1923.2,1190.6 1924,1191 1924.8,1190.8 1925.6,1191.2 1926.4,1190.7 1927.2,1190 1928,1191 1928.8,1190.6 1929.6,1190.5 1930.4,1189.8 1931.2,1189.4 1932,1189.1 1932.8,1188.7 1933.7,1187.1 1934.5,1187.9 1935.3,1188.9 1936.1,1187.7 1936.9,1188.9 1937.7,1187.8 1938.5,1189.2 1939.3,1188.9 1940.1,1188.1 1940.9,1189.8 1941.7,1188.6 1942.5,1190.5 1943.3,1189.8 1944.1,1190.6 1944.9,1190 1945.7,1190.5 1946.5,1190.7 1947.3,1191.6 1948.1,1191.2 1948.9,1192 1949.7,1192.2 1950.5,1192.3 1951.3,1192.2 1952.2,1191.5 1953,1191.3 1953.8,1190.7 1954.6,1191.8 1955.4,1191.7 1956.2,1192.1 1957,1190.4 1957.8,1189.8 1958.6,1191.7 1959.4,1192.5 1960.2,1192.1 1961,1192.3 1961.8,1192.5 1962.6,1191.1 1963.4,1192.2 1964.2,1191.7 1965,1192.5 1965.8,1191.9 1966.6,1192.3 1967.4,1190.9 1968.2,1192.1 1969,1192.1 1969.9,1192 1970.7,1191.4 1971.5,1192.7 1972.3,1192.4 1973.1,1191.7 1973.9,1192.3 1974.7,1192.6 1975.5,1192.4 1976.3,1192.3 1977.1,1192 1977.9,1192.6 1978.7,1192.4 1979.5,1191 1980.3,1192.7 1981.1,1191.9 1981.9,1192.1 1982.7,1191.5 1983.5,1191.7 1984.3,1191.8 1985.1,1192.7 1985.9,1191.9 1986.7,1192 1987.5,1192 1988.4,1192.2 1989.2,1192.4 1990,1192.5 1990.8,1192.5 1991.6,1192.7 1992.4,1191.5 1993.2,1192.4 1994,1192.7 1994.8,1192.2 1995.6,1191.7 1996.4,1192.5 1997.2,1192.5" fill="none" stroke="#16881a" stroke-width="1.0" stroke-linejoin="round" />
</g>
<rect x="1595" y="694.8" width="402.2" height="498" fill="none" stroke="#000" stroke-width="2.2"/>
<line x1="1595" y1="1192.8" x2="1595" y2="1202.8" stroke="#000" stroke-width="2" />
<text x="1595" y="1226.3" font-size="21.5" text-anchor="middle" fill="#000" font-weight="normal" >400</text>
<line x1="1709.9" y1="1192.8" x2="1709.9" y2="1202.8" stroke="#000" stroke-width="2" />
<text x="1709.9" y="1226.3" font-size="21.5" text-anchor="middle" fill="#000" font-weight="normal" >500</text>
<line x1="1824.8" y1="1192.8" x2="1824.8" y2="1202.8" stroke="#000" stroke-width="2" />
<text x="1824.8" y="1226.3" font-size="21.5" text-anchor="middle" fill="#000" font-weight="normal" >600</text>
<line x1="1939.7" y1="1192.8" x2="1939.7" y2="1202.8" stroke="#000" stroke-width="2" />
<text x="1939.7" y="1226.3" font-size="21.5" text-anchor="middle" fill="#000" font-weight="normal" >700</text>
<line x1="1652.5" y1="1192.8" x2="1652.5" y2="1198.8" stroke="#000" stroke-width="2" />
<line x1="1767.4" y1="1192.8" x2="1767.4" y2="1198.8" stroke="#000" stroke-width="2" />
<line x1="1882.3" y1="1192.8" x2="1882.3" y2="1198.8" stroke="#000" stroke-width="2" />
<line x1="1997.2" y1="1192.8" x2="1997.2" y2="1198.8" stroke="#000" stroke-width="2" />
<line x1="1585" y1="1192.8" x2="1595" y2="1192.8" stroke="#000" stroke-width="2" />
<text x="1578" y="1199.4" font-size="21.5" text-anchor="end" fill="#000" font-weight="normal" >0</text>
<line x1="1585" y1="1068.3" x2="1595" y2="1068.3" stroke="#000" stroke-width="2" />
<text x="1578" y="1074.9" font-size="21.5" text-anchor="end" fill="#000" font-weight="normal" >5</text>
<line x1="1585" y1="943.8" x2="1595" y2="943.8" stroke="#000" stroke-width="2" />
<text x="1578" y="950.4" font-size="21.5" text-anchor="end" fill="#000" font-weight="normal" >10</text>
<line x1="1585" y1="819.3" x2="1595" y2="819.3" stroke="#000" stroke-width="2" />
<text x="1578" y="825.9" font-size="21.5" text-anchor="end" fill="#000" font-weight="normal" >15</text>
<line x1="1585" y1="694.8" x2="1595" y2="694.8" stroke="#000" stroke-width="2" />
<text x="1578" y="701.4" font-size="21.5" text-anchor="end" fill="#000" font-weight="normal" >20</text>
<line x1="1589" y1="1130.5" x2="1595" y2="1130.5" stroke="#000" stroke-width="2" />
<line x1="1589" y1="1006" x2="1595" y2="1006" stroke="#000" stroke-width="2" />
<line x1="1589" y1="881.5" x2="1595" y2="881.5" stroke="#000" stroke-width="2" />
<line x1="1589" y1="757" x2="1595" y2="757" stroke="#000" stroke-width="2" />
<text x="1796.1" y="1265.8" font-size="26.2" text-anchor="middle" fill="#000" font-weight="normal" >Wavelength (nm)</text>
<text x="0" y="0" font-size="26.2" text-anchor="middle" transform="translate(1530.7,928) rotate(-90)">Normalized intensity</text>
<rect x="1602.2" y="705" width="56.3" height="28" fill="url(#gbl)" stroke="#999" stroke-width="1"/>
<rect x="1602.2" y="740.3" width="56.3" height="28" fill="url(#ggl)" stroke="#999" stroke-width="1"/>
<text x="1667.4" y="728.6" font-size="26.2" text-anchor="start" fill="#000" font-weight="normal" >&#946;-LnNPs</text>
<text x="1667.4" y="763.8" font-size="26.2" text-anchor="start" fill="#000" font-weight="normal" >&#946;-LnNP@CsPbBr<tspan font-size="18.3" dy="6">3</tspan></text>
<text x="1899.5" y="823.7" font-size="26.2" text-anchor="start" fill="#000" font-weight="normal" >210 &#176;C</text>
<text x="62" y="1316" font-size="45" text-anchor="start" fill="#000" font-weight="bold" >g</text>
<g clip-path="url(#sp9)">
<path d="M124.1,1847 L124.1,1846.9 L124.5,1846.9 L125,1846.9 L125.4,1846.9 L125.9,1846.9 L126.4,1846.9 L126.8,1846.9 L127.3,1846.9 L127.7,1846.9 L128.2,1846.9 L128.7,1846.8 L129.1,1846.8 L129.6,1846.8 L130,1846.8 L130.5,1846.8 L130.9,1846.8 L131.4,1846.8 L131.9,1846.8 L132.3,1846.7 L132.8,1846.7 L133.2,1846.7 L133.7,1846.7 L134.2,1846.6 L134.6,1846.6 L135.1,1846.5 L135.5,1846.4 L136,1846.3 L136.5,1846.1 L136.9,1845.9 L137.4,1845.5 L137.8,1845 L138.3,1844.4 L138.8,1843.6 L139.2,1842.6 L139.7,1841.4 L140.1,1839.9 L140.6,1838.2 L141,1836.3 L141.5,1834.2 L142,1832 L142.4,1829.9 L142.9,1827.9 L143.3,1826.1 L143.8,1824.7 L144.3,1823.8 L144.7,1823.5 L145.2,1823.8 L145.6,1824.7 L146.1,1826.1 L146.6,1827.9 L147,1829.9 L147.5,1832 L147.9,1834.2 L148.4,1836.3 L148.8,1838.2 L149.3,1839.9 L149.8,1841.4 L150.2,1842.6 L150.7,1843.6 L151.1,1844.4 L151.6,1845 L152.1,1845.5 L152.5,1845.9 L153,1846.1 L153.4,1846.3 L153.9,1846.4 L154.4,1846.5 L154.8,1846.6 L155.3,1846.6 L155.7,1846.7 L156.2,1846.7 L156.7,1846.7 L157.1,1846.7 L157.6,1846.8 L158,1846.8 L158.5,1846.8 L158.9,1846.8 L159.4,1846.8 L159.9,1846.8 L160.3,1846.8 L160.8,1846.8 L161.2,1846.9 L161.7,1846.9 L162.2,1846.9 L162.6,1846.9 L163.1,1846.9 L163.5,1846.9 L164,1846.9 L164.5,1846.9 L164.9,1846.9 L164.9,1847 Z" fill="url(#gb)"/>
<path d="M124.1,1846.9 L124.5,1846.9 L125,1846.9 L125.4,1846.9 L125.9,1846.9 L126.4,1846.9 L126.8,1846.9 L127.3,1846.9 L127.7,1846.9 L128.2,1846.9 L128.7,1846.8 L129.1,1846.8 L129.6,1846.8 L130,1846.8 L130.5,1846.8 L130.9,1846.8 L131.4,1846.8 L131.9,1846.8 L132.3,1846.7 L132.8,1846.7 L133.2,1846.7 L133.7,1846.7 L134.2,1846.6 L134.6,1846.6 L135.1,1846.5 L135.5,1846.4 L136,1846.3 L136.5,1846.1 L136.9,1845.9 L137.4,1845.5 L137.8,1845 L138.3,1844.4 L138.8,1843.6 L139.2,1842.6 L139.7,1841.4 L140.1,1839.9 L140.6,1838.2 L141,1836.3 L141.5,1834.2 L142,1832 L142.4,1829.9 L142.9,1827.9 L143.3,1826.1 L143.8,1824.7 L144.3,1823.8 L144.7,1823.5 L145.2,1823.8 L145.6,1824.7 L146.1,1826.1 L146.6,1827.9 L147,1829.9 L147.5,1832 L147.9,1834.2 L148.4,1836.3 L148.8,1838.2 L149.3,1839.9 L149.8,1841.4 L150.2,1842.6 L150.7,1843.6 L151.1,1844.4 L151.6,1845 L152.1,1845.5 L152.5,1845.9 L153,1846.1 L153.4,1846.3 L153.9,1846.4 L154.4,1846.5 L154.8,1846.6 L155.3,1846.6 L155.7,1846.7 L156.2,1846.7 L156.7,1846.7 L157.1,1846.7 L157.6,1846.8 L158,1846.8 L158.5,1846.8 L158.9,1846.8 L159.4,1846.8 L159.9,1846.8 L160.3,1846.8 L160.8,1846.8 L161.2,1846.9 L161.7,1846.9 L162.2,1846.9 L162.6,1846.9 L163.1,1846.9 L163.5,1846.9 L164,1846.9 L164.5,1846.9 L164.9,1846.9" fill="none" stroke="#4a5ef0" stroke-width="1" stroke-dasharray="3,1.5"/>
<path d="M142.4,1847 L142.4,1846.8 L142.9,1846.8 L143.3,1846.8 L143.8,1846.8 L144.3,1846.8 L144.7,1846.8 L145.2,1846.7 L145.6,1846.7 L146.1,1846.7 L146.6,1846.7 L147,1846.7 L147.5,1846.7 L147.9,1846.7 L148.4,1846.7 L148.8,1846.7 L149.3,1846.7 L149.8,1846.6 L150.2,1846.6 L150.7,1846.6 L151.1,1846.6 L151.6,1846.6 L152.1,1846.6 L152.5,1846.6 L153,1846.5 L153.4,1846.5 L153.9,1846.5 L154.4,1846.5 L154.8,1846.4 L155.3,1846.4 L155.7,1846.4 L156.2,1846.3 L156.7,1846.3 L157.1,1846.2 L157.6,1846.2 L158,1846.1 L158.5,1846 L158.9,1845.9 L159.4,1845.8 L159.9,1845.6 L160.3,1845.4 L160.8,1845.2 L161.2,1844.9 L161.7,1844.5 L162.2,1844 L162.6,1843.4 L163.1,1842.7 L163.5,1841.8 L164,1840.8 L164.5,1839.6 L164.9,1838.1 L165.4,1836.5 L165.8,1834.6 L166.3,1832.5 L166.7,1830.1 L167.2,1827.5 L167.7,1824.7 L168.1,1821.8 L168.6,1818.7 L169,1815.5 L169.5,1812.3 L170,1809.2 L170.4,1806.1 L170.9,1803.3 L171.3,1800.8 L171.8,1798.6 L172.3,1796.9 L172.7,1795.7 L173.2,1795.1 L173.6,1795.1 L174.1,1795.7 L174.6,1796.9 L175,1798.6 L175.5,1800.8 L175.9,1803.3 L176.4,1806.1 L176.8,1809.2 L177.3,1812.3 L177.8,1815.5 L178.2,1818.7 L178.7,1821.8 L179.1,1824.7 L179.6,1827.5 L180.1,1830.1 L180.5,1832.5 L181,1834.6 L181.4,1836.5 L181.9,1838.1 L182.4,1839.6 L182.8,1840.8 L183.3,1841.8 L183.7,1842.7 L184.2,1843.4 L184.6,1844 L185.1,1844.5 L185.6,1844.9 L186,1845.2 L186.5,1845.4 L186.9,1845.6 L187.4,1845.8 L187.9,1845.9 L188.3,1846 L188.8,1846.1 L189.2,1846.2 L189.7,1846.2 L190.2,1846.3 L190.6,1846.3 L191.1,1846.4 L191.5,1846.4 L192,1846.4 L192.5,1846.5 L192.9,1846.5 L193.4,1846.5 L193.8,1846.5 L194.3,1846.6 L194.7,1846.6 L195.2,1846.6 L195.7,1846.6 L196.1,1846.6 L196.6,1846.6 L197,1846.6 L197.5,1846.7 L198,1846.7 L198.4,1846.7 L198.9,1846.7 L199.3,1846.7 L199.8,1846.7 L200.3,1846.7 L200.7,1846.7 L201.2,1846.7 L201.6,1846.7 L202.1,1846.8 L202.5,1846.8 L203,1846.8 L203.5,1846.8 L203.9,1846.8 L203.9,1847 Z" fill="url(#gb)"/>
<path d="M142.4,1846.8 L142.9,1846.8 L143.3,1846.8 L143.8,1846.8 L144.3,1846.8 L144.7,1846.8 L145.2,1846.7 L145.6,1846.7 L146.1,1846.7 L146.6,1846.7 L147,1846.7 L147.5,1846.7 L147.9,1846.7 L148.4,1846.7 L148.8,1846.7 L149.3,1846.7 L149.8,1846.6 L150.2,1846.6 L150.7,1846.6 L151.1,1846.6 L151.6,1846.6 L152.1,1846.6 L152.5,1846.6 L153,1846.5 L153.4,1846.5 L153.9,1846.5 L154.4,1846.5 L154.8,1846.4 L155.3,1846.4 L155.7,1846.4 L156.2,1846.3 L156.7,1846.3 L157.1,1846.2 L157.6,1846.2 L158,1846.1 L158.5,1846 L158.9,1845.9 L159.4,1845.8 L159.9,1845.6 L160.3,1845.4 L160.8,1845.2 L161.2,1844.9 L161.7,1844.5 L162.2,1844 L162.6,1843.4 L163.1,1842.7 L163.5,1841.8 L164,1840.8 L164.5,1839.6 L164.9,1838.1 L165.4,1836.5 L165.8,1834.6 L166.3,1832.5 L166.7,1830.1 L167.2,1827.5 L167.7,1824.7 L168.1,1821.8 L168.6,1818.7 L169,1815.5 L169.5,1812.3 L170,1809.2 L170.4,1806.1 L170.9,1803.3 L171.3,1800.8 L171.8,1798.6 L172.3,1796.9 L172.7,1795.7 L173.2,1795.1 L173.6,1795.1 L174.1,1795.7 L174.6,1796.9 L175,1798.6 L175.5,1800.8 L175.9,1803.3 L176.4,1806.1 L176.8,1809.2 L177.3,1812.3 L177.8,1815.5 L178.2,1818.7 L178.7,1821.8 L179.1,1824.7 L179.6,1827.5 L180.1,1830.1 L180.5,1832.5 L181,1834.6 L181.4,1836.5 L181.9,1838.1 L182.4,1839.6 L182.8,1840.8 L183.3,1841.8 L183.7,1842.7 L184.2,1843.4 L184.6,1844 L185.1,1844.5 L185.6,1844.9 L186,1845.2 L186.5,1845.4 L186.9,1845.6 L187.4,1845.8 L187.9,1845.9 L188.3,1846 L188.8,1846.1 L189.2,1846.2 L189.7,1846.2 L190.2,1846.3 L190.6,1846.3 L191.1,1846.4 L191.5,1846.4 L192,1846.4 L192.5,1846.5 L192.9,1846.5 L193.4,1846.5 L193.8,1846.5 L194.3,1846.6 L194.7,1846.6 L195.2,1846.6 L195.7,1846.6 L196.1,1846.6 L196.6,1846.6 L197,1846.6 L197.5,1846.7 L198,1846.7 L198.4,1846.7 L198.9,1846.7 L199.3,1846.7 L199.8,1846.7 L200.3,1846.7 L200.7,1846.7 L201.2,1846.7 L201.6,1846.7 L202.1,1846.8 L202.5,1846.8 L203,1846.8 L203.5,1846.8 L203.9,1846.8" fill="none" stroke="#4a5ef0" stroke-width="1" stroke-dasharray="3,1.5"/>
<path d="M385.7,1847 L385.7,1847 L386.1,1847 L386.6,1847 L387.1,1847 L387.5,1847 L388,1847 L388.4,1847 L388.9,1847 L389.4,1847 L389.8,1847 L390.3,1847 L390.7,1847 L391.2,1847 L391.6,1847 L392.1,1847 L392.6,1847 L393,1847 L393.5,1847 L393.9,1847 L394.4,1847 L394.9,1847 L395.3,1846.9 L395.8,1846.9 L396.2,1846.9 L396.7,1846.9 L397.2,1846.9 L397.6,1846.9 L398.1,1846.9 L398.5,1846.9 L399,1846.9 L399.4,1846.9 L399.9,1846.9 L400.4,1846.9 L400.8,1846.9 L401.3,1846.9 L401.7,1846.9 L402.2,1846.9 L402.7,1846.9 L403.1,1846.9 L403.6,1846.9 L404,1846.9 L404.5,1846.9 L405,1846.9 L405.4,1846.9 L405.9,1846.9 L406.3,1846.9 L406.8,1846.9 L407.3,1846.9 L407.7,1846.8 L408.2,1846.8 L408.6,1846.8 L409.1,1846.8 L409.5,1846.8 L410,1846.7 L410.5,1846.7 L410.9,1846.7 L411.4,1846.6 L411.8,1846.6 L412.3,1846.5 L412.8,1846.5 L413.2,1846.4 L413.7,1846.3 L414.1,1846.2 L414.6,1846.1 L415.1,1845.9 L415.5,1845.8 L416,1845.6 L416.4,1845.4 L416.9,1845.2 L417.3,1845 L417.8,1844.8 L418.3,1844.5 L418.7,1844.2 L419.2,1843.9 L419.6,1843.6 L420.1,1843.3 L420.6,1843 L421,1842.6 L421.5,1842.3 L421.9,1841.9 L422.4,1841.6 L422.9,1841.3 L423.3,1841 L423.8,1840.7 L424.2,1840.4 L424.7,1840.2 L425.2,1840 L425.6,1839.8 L426.1,1839.7 L426.5,1839.6 L427,1839.6 L427.4,1839.6 L427.9,1839.7 L428.4,1839.8 L428.8,1840 L429.3,1840.2 L429.7,1840.4 L430.2,1840.7 L430.7,1841 L431.1,1841.3 L431.6,1841.6 L432,1841.9 L432.5,1842.3 L433,1842.6 L433.4,1843 L433.9,1843.3 L434.3,1843.6 L434.8,1843.9 L435.2,1844.2 L435.7,1844.5 L436.2,1844.8 L436.6,1845 L437.1,1845.2 L437.5,1845.4 L438,1845.6 L438.5,1845.8 L438.9,1845.9 L439.4,1846.1 L439.8,1846.2 L440.3,1846.3 L440.8,1846.4 L441.2,1846.5 L441.7,1846.5 L442.1,1846.6 L442.6,1846.6 L443.1,1846.7 L443.5,1846.7 L444,1846.7 L444.4,1846.8 L444.9,1846.8 L445.3,1846.8 L445.8,1846.8 L446.3,1846.8 L446.7,1846.9 L447.2,1846.9 L447.6,1846.9 L448.1,1846.9 L448.6,1846.9 L449,1846.9 L449.5,1846.9 L449.9,1846.9 L450.4,1846.9 L450.9,1846.9 L451.3,1846.9 L451.8,1846.9 L452.2,1846.9 L452.7,1846.9 L453.1,1846.9 L453.6,1846.9 L454.1,1846.9 L454.5,1846.9 L455,1846.9 L455.4,1846.9 L455.9,1846.9 L456.4,1846.9 L456.8,1846.9 L457.3,1846.9 L457.7,1846.9 L458.2,1846.9 L458.7,1846.9 L459.1,1847 L459.6,1847 L460,1847 L460.5,1847 L461,1847 L461.4,1847 L461.9,1847 L462.3,1847 L462.8,1847 L463.2,1847 L463.7,1847 L464.2,1847 L464.6,1847 L465.1,1847 L465.5,1847 L466,1847 L466.5,1847 L466.9,1847 L467.4,1847 L467.8,1847 L467.8,1847 Z" fill="url(#gb)"/>
<path d="M385.7,1847 L386.1,1847 L386.6,1847 L387.1,1847 L387.5,1847 L388,1847 L388.4,1847 L388.9,1847 L389.4,1847 L389.8,1847 L390.3,1847 L390.7,1847 L391.2,1847 L391.6,1847 L392.1,1847 L392.6,1847 L393,1847 L393.5,1847 L393.9,1847 L394.4,1847 L394.9,1847 L395.3,1846.9 L395.8,1846.9 L396.2,1846.9 L396.7,1846.9 L397.2,1846.9 L397.6,1846.9 L398.1,1846.9 L398.5,1846.9 L399,1846.9 L399.4,1846.9 L399.9,1846.9 L400.4,1846.9 L400.8,1846.9 L401.3,1846.9 L401.7,1846.9 L402.2,1846.9 L402.7,1846.9 L403.1,1846.9 L403.6,1846.9 L404,1846.9 L404.5,1846.9 L405,1846.9 L405.4,1846.9 L405.9,1846.9 L406.3,1846.9 L406.8,1846.9 L407.3,1846.9 L407.7,1846.8 L408.2,1846.8 L408.6,1846.8 L409.1,1846.8 L409.5,1846.8 L410,1846.7 L410.5,1846.7 L410.9,1846.7 L411.4,1846.6 L411.8,1846.6 L412.3,1846.5 L412.8,1846.5 L413.2,1846.4 L413.7,1846.3 L414.1,1846.2 L414.6,1846.1 L415.1,1845.9 L415.5,1845.8 L416,1845.6 L416.4,1845.4 L416.9,1845.2 L417.3,1845 L417.8,1844.8 L418.3,1844.5 L418.7,1844.2 L419.2,1843.9 L419.6,1843.6 L420.1,1843.3 L420.6,1843 L421,1842.6 L421.5,1842.3 L421.9,1841.9 L422.4,1841.6 L422.9,1841.3 L423.3,1841 L423.8,1840.7 L424.2,1840.4 L424.7,1840.2 L425.2,1840 L425.6,1839.8 L426.1,1839.7 L426.5,1839.6 L427,1839.6 L427.4,1839.6 L427.9,1839.7 L428.4,1839.8 L428.8,1840 L429.3,1840.2 L429.7,1840.4 L430.2,1840.7 L430.7,1841 L431.1,1841.3 L431.6,1841.6 L432,1841.9 L432.5,1842.3 L433,1842.6 L433.4,1843 L433.9,1843.3 L434.3,1843.6 L434.8,1843.9 L435.2,1844.2 L435.7,1844.5 L436.2,1844.8 L436.6,1845 L437.1,1845.2 L437.5,1845.4 L438,1845.6 L438.5,1845.8 L438.9,1845.9 L439.4,1846.1 L439.8,1846.2 L440.3,1846.3 L440.8,1846.4 L441.2,1846.5 L441.7,1846.5 L442.1,1846.6 L442.6,1846.6 L443.1,1846.7 L443.5,1846.7 L444,1846.7 L444.4,1846.8 L444.9,1846.8 L445.3,1846.8 L445.8,1846.8 L446.3,1846.8 L446.7,1846.9 L447.2,1846.9 L447.6,1846.9 L448.1,1846.9 L448.6,1846.9 L449,1846.9 L449.5,1846.9 L449.9,1846.9 L450.4,1846.9 L450.9,1846.9 L451.3,1846.9 L451.8,1846.9 L452.2,1846.9 L452.7,1846.9 L453.1,1846.9 L453.6,1846.9 L454.1,1846.9 L454.5,1846.9 L455,1846.9 L455.4,1846.9 L455.9,1846.9 L456.4,1846.9 L456.8,1846.9 L457.3,1846.9 L457.7,1846.9 L458.2,1846.9 L458.7,1846.9 L459.1,1847 L459.6,1847 L460,1847 L460.5,1847 L461,1847 L461.4,1847 L461.9,1847 L462.3,1847 L462.8,1847 L463.2,1847 L463.7,1847 L464.2,1847 L464.6,1847 L465.1,1847 L465.5,1847 L466,1847 L466.5,1847 L466.9,1847 L467.4,1847 L467.8,1847" fill="none" stroke="#4a5ef0" stroke-width="1" stroke-dasharray="3,1.5"/>
<polyline points="86.2,1846.7 87,1846.9 87.8,1846.6 88.6,1846.6 89.4,1846.7 90.2,1846.9 91,1846.9 91.8,1846.9 92.6,1846.6 93.4,1846.8 94.2,1846.7 95,1846.9 95.8,1846.9 96.6,1846.7 97.4,1846.9 98.2,1846.8 99.1,1846.9 99.9,1846.8 100.7,1846.4 101.5,1846.9 102.3,1846.6 103.1,1846.7 103.9,1846.6 104.7,1846.7 105.5,1846.8 106.3,1846.8 107.1,1846.7 107.9,1846.6 108.7,1846.8 109.5,1846.9 110.3,1846.9 111.1,1846.7 111.9,1846.8 112.7,1846.5 113.5,1846.7 114.3,1846.4 115.1,1846.8 115.9,1846.8 116.7,1846.7 117.5,1846.7 118.3,1846.6 119.1,1846.8 119.9,1846.8 120.7,1846.8 121.5,1846.7 122.3,1846.8 123.1,1846.4 124,1846.6 124.8,1846.8 125.6,1846.8 126.4,1846.5 127.2,1846.6 128,1846.7 128.8,1846.7 129.6,1846.2 130.4,1846.7 131.2,1846.5 132,1846.5 132.8,1846.5 133.6,1846.5 134.4,1846.3 135.2,1846.3 136,1845.7 136.8,1845.4 137.6,1844.8 138.4,1844 139.2,1842.3 140,1840 140.8,1837 141.6,1832.7 142.4,1829.5 143.2,1826.3 144,1823.8 144.8,1822.7 145.6,1824.4 146.4,1826.8 147.2,1830.4 148,1834.4 148.8,1837.7 149.7,1840.4 150.5,1842.8 151.3,1844.1 152.1,1844.8 152.9,1845.2 153.7,1845.6 154.5,1845.9 155.3,1845.4 156.1,1845.6 156.9,1846 157.7,1845.9 158.5,1845.8 159.3,1845.4 160.1,1845.2 160.9,1844.9 161.7,1844.1 162.5,1843.4 163.3,1841.9 164.1,1840.2 164.9,1837.7 165.7,1834.7 166.5,1830.8 167.3,1826.7 168.1,1821.6 168.9,1816 169.7,1810.6 170.5,1805.1 171.3,1800.7 172.1,1797 172.9,1795.2 173.7,1794.5 174.6,1796.7 175.4,1800 176.2,1804.5 177,1809.7 177.8,1815.4 178.6,1820.9 179.4,1826 180.2,1830.5 181,1833.9 181.8,1837.5 182.6,1839.9 183.4,1841.5 184.2,1843 185,1844.3 185.8,1844.9 186.6,1845.5 187.4,1845.7 188.2,1845.7 189,1845.6 189.8,1845.8 190.6,1846.2 191.4,1846.3 192.2,1846.3 193,1846.4 193.8,1846.2 194.6,1846.4 195.4,1846.5 196.2,1846.5 197,1846.3 197.8,1846.5 198.6,1846.7 199.5,1846.4 200.3,1846.6 201.1,1846.6 201.9,1846.6 202.7,1846.3 203.5,1846.6 204.3,1846.6 205.1,1846.7 205.9,1846.8 206.7,1846.7 207.5,1846.8 208.3,1846.8 209.1,1846.8 209.9,1846.8 210.7,1846.7 211.5,1846.7 212.3,1846.8 213.1,1846.6 213.9,1846.8 214.7,1846.8 215.5,1846.8 216.3,1846.3 217.1,1846.8 217.9,1846.3 218.7,1846.8 219.5,1846.1 220.3,1846.8 221.1,1846.7 221.9,1846.7 222.7,1846.6 223.5,1846.9 224.4,1846.8 225.2,1846.9 226,1846.7 226.8,1846.7 227.6,1846.8 228.4,1846.5 229.2,1846.9 230,1846.8 230.8,1846.8 231.6,1846.7 232.4,1846.6 233.2,1846.9 234,1846.6 234.8,1846.8 235.6,1846.6 236.4,1846.6 237.2,1846.9 238,1846.5 238.8,1846.9 239.6,1846.6 240.4,1846.9 241.2,1846.9 242,1846.7 242.8,1846.8 243.6,1846.8 244.4,1846.7 245.2,1846.8 246,1846.9 246.8,1846.8 247.6,1846.9 248.4,1846.7 249.2,1846.9 250.1,1846.7 250.9,1846.9 251.7,1846.5 252.5,1846.9 253.3,1846.7 254.1,1846.6 254.9,1846.4 255.7,1846.9 256.5,1846.4 257.3,1846.6 258.1,1846.5 258.9,1846.9 259.7,1846.8 260.5,1846.8 261.3,1846.9 262.1,1846.5 262.9,1846.9 263.7,1846.8 264.5,1846.9 265.3,1846.9 266.1,1846.3 266.9,1846.7 267.7,1846.7 268.5,1846.7 269.3,1846.7 270.1,1846.9 270.9,1846.7 271.7,1846.7 272.5,1847 273.3,1846.8 274.1,1846.8 275,1847 275.8,1846.4 276.6,1846.8 277.4,1846.9 278.2,1847 279,1847 279.8,1846.9 280.6,1847 281.4,1846.5 282.2,1846.8 283,1846.9 283.8,1846.8 284.6,1846.9 285.4,1846.8 286.2,1846.6 287,1846.5 287.8,1846.9 288.6,1846.5 289.4,1846.6 290.2,1846.6 291,1846.6 291.8,1846.9 292.6,1847 293.4,1846.9 294.2,1846.8 295,1846.8 295.8,1846.8 296.6,1846.7 297.4,1846.6 298.2,1846.8 299,1846.9 299.9,1846.9 300.7,1846.7 301.5,1846.7 302.3,1846.8 303.1,1846.8 303.9,1846.9 304.7,1846.8 305.5,1846.9 306.3,1846.8 307.1,1846.7 307.9,1846.8 308.7,1846.6 309.5,1846.9 310.3,1846.9 311.1,1846.8 311.9,1846.8 312.7,1846.7 313.5,1846.9 314.3,1846.9 315.1,1846.5 315.9,1847 316.7,1846.8 317.5,1846.8 318.3,1846.9 319.1,1846.7 319.9,1846.9 320.7,1846.5 321.5,1846.9 322.3,1846.8 323.1,1846.6 323.9,1846.9 324.8,1847 325.6,1846.9 326.4,1846.8 327.2,1846.9 328,1847 328.8,1846.4 329.6,1846.9 330.4,1846.8 331.2,1846.9 332,1846.9 332.8,1846.9 333.6,1846.6 334.4,1846.3 335.2,1846.8 336,1846.8 336.8,1846.8 337.6,1846.8 338.4,1846.7 339.2,1846.7 340,1846.9 340.8,1846.8 341.6,1846.9 342.4,1846.8 343.2,1846.8 344,1846.7 344.8,1846.8 345.6,1846.7 346.4,1846.6 347.2,1847 348,1846.7 348.8,1846.9 349.6,1846.7 350.5,1846.7 351.3,1846.6 352.1,1846.8 352.9,1847 353.7,1846.8 354.5,1846.6 355.3,1846.9 356.1,1847 356.9,1846.8 357.7,1847 358.5,1846.8 359.3,1846.7 360.1,1846.8 360.9,1846.9 361.7,1847 362.5,1846.8 363.3,1846.6 364.1,1846.9 364.9,1846.9 365.7,1846.9 366.5,1846.9 367.3,1846.5 368.1,1846.8 368.9,1846.9 369.7,1846.8 370.5,1846.9 371.3,1846.7 372.1,1846.5 372.9,1846.2 373.7,1846.6 374.5,1846.8 375.4,1846.9 376.2,1847 377,1846.9 377.8,1846.7 378.6,1846.6 379.4,1846.9 380.2,1846.7 381,1846.9 381.8,1846.4 382.6,1846.7 383.4,1846.8 384.2,1846.8 385,1846.6 385.8,1846.7 386.6,1846.8 387.4,1846.9 388.2,1846.4 389,1846.8 389.8,1846.6 390.6,1846.9 391.4,1846.8 392.2,1846.9 393,1846.5 393.8,1846.8 394.6,1846.8 395.4,1846.9 396.2,1846.8 397,1846.8 397.8,1846.8 398.6,1846.8 399.4,1846.7 400.3,1846.9 401.1,1846.9 401.9,1846.6 402.7,1846.8 403.5,1846.9 404.3,1846.8 405.1,1846.8 405.9,1846.7 406.7,1846.8 407.5,1846.7 408.3,1846.6 409.1,1846.4 409.9,1846.5 410.7,1846.6 411.5,1846.1 412.3,1846.4 413.1,1846.2 413.9,1846 414.7,1846 415.5,1845.7 416.3,1845.2 417.1,1844.9 417.9,1844.3 418.7,1844.1 419.5,1843.6 420.3,1842.8 421.1,1842.5 421.9,1841.9 422.7,1841 423.5,1840.6 424.3,1840.3 425.2,1839.8 426,1839.7 426.8,1839.3 427.6,1839.5 428.4,1839.6 429.2,1839.7 430,1840.5 430.8,1841 431.6,1841.5 432.4,1842.2 433.2,1842.7 434,1843.2 434.8,1843.8 435.6,1844.1 436.4,1844.7 437.2,1845.2 438,1845.5 438.8,1845.7 439.6,1845.9 440.4,1846.2 441.2,1846.1 442,1846.5 442.8,1846.6 443.6,1846.6 444.4,1846.3 445.2,1846.8 446,1846.8 446.8,1846.6 447.6,1846.5 448.4,1846.7 449.2,1846.6 450,1846.7 450.9,1846.8 451.7,1846.3 452.5,1846.6 453.3,1846.8 454.1,1846.5 454.9,1846.9 455.7,1846.7 456.5,1846.7 457.3,1846.8 458.1,1846.8 458.9,1846.4 459.7,1846.9 460.5,1846.3 461.3,1846.8 462.1,1846.9 462.9,1846.7 463.7,1846.9 464.5,1846.5 465.3,1846.6 466.1,1846.9 466.9,1846.6 467.7,1846.7 468.5,1846.8 469.3,1846.6 470.1,1846.9 470.9,1846.8 471.7,1846.9 472.5,1846.9 473.3,1846.7 474.1,1846.9 474.9,1846.8 475.8,1846.9 476.6,1846.7 477.4,1846.6 478.2,1846.8 479,1846.8 479.8,1846.7 480.6,1846.9 481.4,1846.5 482.2,1846.6 483,1846.4 483.8,1846.9 484.6,1846.8 485.4,1847 486.2,1846.8 487,1846.9 487.8,1846.9" fill="none" stroke="#4a5ef0" stroke-width="1.0" stroke-linejoin="round" />
<path d="M181.4,1847 L181.4,1845.4 L181.9,1845.3 L182.4,1845.3 L182.8,1845.3 L183.3,1845.2 L183.7,1845.2 L184.2,1845.2 L184.6,1845.2 L185.1,1845.1 L185.6,1845.1 L186,1845.1 L186.5,1845 L186.9,1845 L187.4,1844.9 L187.9,1844.9 L188.3,1844.9 L188.8,1844.8 L189.2,1844.8 L189.7,1844.7 L190.2,1844.7 L190.6,1844.7 L191.1,1844.6 L191.5,1844.6 L192,1844.5 L192.5,1844.5 L192.9,1844.4 L193.4,1844.4 L193.8,1844.3 L194.3,1844.3 L194.7,1844.2 L195.2,1844.1 L195.7,1844.1 L196.1,1844 L196.6,1843.9 L197,1843.9 L197.5,1843.8 L198,1843.7 L198.4,1843.7 L198.9,1843.6 L199.3,1843.5 L199.8,1843.4 L200.3,1843.3 L200.7,1843.2 L201.2,1843.1 L201.6,1843 L202.1,1842.9 L202.5,1842.8 L203,1842.7 L203.5,1842.6 L203.9,1842.5 L204.4,1842.3 L204.8,1842.2 L205.3,1842 L205.8,1841.9 L206.2,1841.7 L206.7,1841.5 L207.1,1841.3 L207.6,1841.1 L208.1,1840.8 L208.5,1840.5 L209,1840.2 L209.4,1839.9 L209.9,1839.5 L210.4,1839.1 L210.8,1838.6 L211.3,1838.1 L211.7,1837.5 L212.2,1836.8 L212.6,1836 L213.1,1835.1 L213.6,1834.1 L214,1832.9 L214.5,1831.6 L214.9,1830.2 L215.4,1828.5 L215.9,1826.6 L216.3,1824.5 L216.8,1822.2 L217.2,1819.5 L217.7,1816.6 L218.2,1813.3 L218.6,1809.6 L219.1,1805.6 L219.5,1801.1 L220,1796.1 L220.4,1790.7 L220.9,1784.8 L221.4,1778.4 L221.8,1771.4 L222.3,1763.9 L222.7,1755.8 L223.2,1747.1 L223.7,1737.8 L224.1,1727.9 L224.6,1717.5 L225,1706.5 L225.5,1694.9 L226,1682.9 L226.4,1670.4 L226.9,1657.4 L227.3,1644.1 L227.8,1630.5 L228.3,1616.7 L228.7,1602.7 L229.2,1588.6 L229.6,1574.5 L230.1,1560.6 L230.5,1546.9 L231,1533.5 L231.5,1520.6 L231.9,1508.3 L232.4,1496.7 L232.8,1485.9 L233.3,1476 L233.8,1467.1 L234.2,1459.5 L234.7,1453 L235.1,1447.9 L235.6,1444.2 L236.1,1442 L236.5,1441.3 L237,1441.7 L237.4,1443 L237.9,1445.2 L238.3,1448.2 L238.8,1452 L239.3,1456.6 L239.7,1461.9 L240.2,1467.9 L240.6,1474.7 L241.1,1482 L241.6,1489.9 L242,1498.3 L242.5,1507.2 L242.9,1516.5 L243.4,1526.1 L243.9,1536 L244.3,1546.2 L244.8,1556.7 L245.2,1567.2 L245.7,1577.9 L246.2,1588.6 L246.6,1599.3 L247.1,1610 L247.5,1620.6 L248,1631.2 L248.4,1641.6 L248.9,1651.8 L249.4,1661.8 L249.8,1671.6 L250.3,1681.1 L250.7,1690.4 L251.2,1699.4 L251.7,1708.1 L252.1,1716.5 L252.6,1724.5 L253,1732.2 L253.5,1739.6 L254,1746.6 L254.4,1753.3 L254.9,1759.7 L255.3,1765.7 L255.8,1771.4 L256.2,1776.8 L256.7,1781.8 L257.2,1786.6 L257.6,1791 L258.1,1795.2 L258.5,1799 L259,1802.6 L259.5,1806 L259.9,1809.1 L260.4,1811.9 L260.8,1814.6 L261.3,1817 L261.8,1819.3 L262.2,1821.3 L262.7,1823.2 L263.1,1825 L263.6,1826.5 L264.1,1828 L264.5,1829.3 L265,1830.5 L265.4,1831.6 L265.9,1832.6 L266.3,1833.5 L266.8,1834.4 L267.3,1835.1 L267.7,1835.8 L268.2,1836.4 L268.6,1837 L269.1,1837.5 L269.6,1838 L270,1838.4 L270.5,1838.8 L270.9,1839.2 L271.4,1839.5 L271.9,1839.8 L272.3,1840.1 L272.8,1840.3 L273.2,1840.5 L273.7,1840.7 L274.1,1840.9 L274.6,1841.1 L275.1,1841.3 L275.5,1841.5 L276,1841.6 L276.4,1841.8 L276.9,1841.9 L277.4,1842 L277.8,1842.1 L278.3,1842.2 L278.7,1842.3 L279.2,1842.5 L279.7,1842.5 L280.1,1842.6 L280.6,1842.7 L281,1842.8 L281.5,1842.9 L282,1843 L282.4,1843.1 L282.9,1843.1 L283.3,1843.2 L283.8,1843.3 L284.2,1843.3 L284.7,1843.4 L285.2,1843.5 L285.6,1843.5 L286.1,1843.6 L286.5,1843.7 L287,1843.7 L287.5,1843.8 L287.9,1843.8 L288.4,1843.9 L288.8,1843.9 L289.3,1844 L289.8,1844 L290.2,1844.1 L290.7,1844.1 L291.1,1844.2 L291.6,1844.2 L292,1844.3 L292.5,1844.3 L293,1844.3 L293.4,1844.4 L293.9,1844.4 L294.3,1844.5 L294.8,1844.5 L295.3,1844.5 L295.7,1844.6 L296.2,1844.6 L296.6,1844.7 L297.1,1844.7 L297.6,1844.7 L298,1844.8 L298.5,1844.8 L298.9,1844.8 L299.4,1844.8 L299.9,1844.9 L300.3,1844.9 L300.8,1844.9 L301.2,1845 L301.7,1845 L302.1,1845 L302.6,1845 L303.1,1845.1 L303.5,1845.1 L304,1845.1 L304.4,1845.1 L304.9,1845.2 L305.4,1845.2 L305.8,1845.2 L306.3,1845.2 L306.7,1845.3 L307.2,1845.3 L307.7,1845.3 L308.1,1845.3 L308.6,1845.3 L308.6,1847 Z" fill="url(#gg)"/>
<path d="M181.4,1845.4 L181.9,1845.3 L182.4,1845.3 L182.8,1845.3 L183.3,1845.2 L183.7,1845.2 L184.2,1845.2 L184.6,1845.2 L185.1,1845.1 L185.6,1845.1 L186,1845.1 L186.5,1845 L186.9,1845 L187.4,1844.9 L187.9,1844.9 L188.3,1844.9 L188.8,1844.8 L189.2,1844.8 L189.7,1844.7 L190.2,1844.7 L190.6,1844.7 L191.1,1844.6 L191.5,1844.6 L192,1844.5 L192.5,1844.5 L192.9,1844.4 L193.4,1844.4 L193.8,1844.3 L194.3,1844.3 L194.7,1844.2 L195.2,1844.1 L195.7,1844.1 L196.1,1844 L196.6,1843.9 L197,1843.9 L197.5,1843.8 L198,1843.7 L198.4,1843.7 L198.9,1843.6 L199.3,1843.5 L199.8,1843.4 L200.3,1843.3 L200.7,1843.2 L201.2,1843.1 L201.6,1843 L202.1,1842.9 L202.5,1842.8 L203,1842.7 L203.5,1842.6 L203.9,1842.5 L204.4,1842.3 L204.8,1842.2 L205.3,1842 L205.8,1841.9 L206.2,1841.7 L206.7,1841.5 L207.1,1841.3 L207.6,1841.1 L208.1,1840.8 L208.5,1840.5 L209,1840.2 L209.4,1839.9 L209.9,1839.5 L210.4,1839.1 L210.8,1838.6 L211.3,1838.1 L211.7,1837.5 L212.2,1836.8 L212.6,1836 L213.1,1835.1 L213.6,1834.1 L214,1832.9 L214.5,1831.6 L214.9,1830.2 L215.4,1828.5 L215.9,1826.6 L216.3,1824.5 L216.8,1822.2 L217.2,1819.5 L217.7,1816.6 L218.2,1813.3 L218.6,1809.6 L219.1,1805.6 L219.5,1801.1 L220,1796.1 L220.4,1790.7 L220.9,1784.8 L221.4,1778.4 L221.8,1771.4 L222.3,1763.9 L222.7,1755.8 L223.2,1747.1 L223.7,1737.8 L224.1,1727.9 L224.6,1717.5 L225,1706.5 L225.5,1694.9 L226,1682.9 L226.4,1670.4 L226.9,1657.4 L227.3,1644.1 L227.8,1630.5 L228.3,1616.7 L228.7,1602.7 L229.2,1588.6 L229.6,1574.5 L230.1,1560.6 L230.5,1546.9 L231,1533.5 L231.5,1520.6 L231.9,1508.3 L232.4,1496.7 L232.8,1485.9 L233.3,1476 L233.8,1467.1 L234.2,1459.5 L234.7,1453 L235.1,1447.9 L235.6,1444.2 L236.1,1442 L236.5,1441.3 L237,1441.7 L237.4,1443 L237.9,1445.2 L238.3,1448.2 L238.8,1452 L239.3,1456.6 L239.7,1461.9 L240.2,1467.9 L240.6,1474.7 L241.1,1482 L241.6,1489.9 L242,1498.3 L242.5,1507.2 L242.9,1516.5 L243.4,1526.1 L243.9,1536 L244.3,1546.2 L244.8,1556.7 L245.2,1567.2 L245.7,1577.9 L246.2,1588.6 L246.6,1599.3 L247.1,1610 L247.5,1620.6 L248,1631.2 L248.4,1641.6 L248.9,1651.8 L249.4,1661.8 L249.8,1671.6 L250.3,1681.1 L250.7,1690.4 L251.2,1699.4 L251.7,1708.1 L252.1,1716.5 L252.6,1724.5 L253,1732.2 L253.5,1739.6 L254,1746.6 L254.4,1753.3 L254.9,1759.7 L255.3,1765.7 L255.8,1771.4 L256.2,1776.8 L256.7,1781.8 L257.2,1786.6 L257.6,1791 L258.1,1795.2 L258.5,1799 L259,1802.6 L259.5,1806 L259.9,1809.1 L260.4,1811.9 L260.8,1814.6 L261.3,1817 L261.8,1819.3 L262.2,1821.3 L262.7,1823.2 L263.1,1825 L263.6,1826.5 L264.1,1828 L264.5,1829.3 L265,1830.5 L265.4,1831.6 L265.9,1832.6 L266.3,1833.5 L266.8,1834.4 L267.3,1835.1 L267.7,1835.8 L268.2,1836.4 L268.6,1837 L269.1,1837.5 L269.6,1838 L270,1838.4 L270.5,1838.8 L270.9,1839.2 L271.4,1839.5 L271.9,1839.8 L272.3,1840.1 L272.8,1840.3 L273.2,1840.5 L273.7,1840.7 L274.1,1840.9 L274.6,1841.1 L275.1,1841.3 L275.5,1841.5 L276,1841.6 L276.4,1841.8 L276.9,1841.9 L277.4,1842 L277.8,1842.1 L278.3,1842.2 L278.7,1842.3 L279.2,1842.5 L279.7,1842.5 L280.1,1842.6 L280.6,1842.7 L281,1842.8 L281.5,1842.9 L282,1843 L282.4,1843.1 L282.9,1843.1 L283.3,1843.2 L283.8,1843.3 L284.2,1843.3 L284.7,1843.4 L285.2,1843.5 L285.6,1843.5 L286.1,1843.6 L286.5,1843.7 L287,1843.7 L287.5,1843.8 L287.9,1843.8 L288.4,1843.9 L288.8,1843.9 L289.3,1844 L289.8,1844 L290.2,1844.1 L290.7,1844.1 L291.1,1844.2 L291.6,1844.2 L292,1844.3 L292.5,1844.3 L293,1844.3 L293.4,1844.4 L293.9,1844.4 L294.3,1844.5 L294.8,1844.5 L295.3,1844.5 L295.7,1844.6 L296.2,1844.6 L296.6,1844.7 L297.1,1844.7 L297.6,1844.7 L298,1844.8 L298.5,1844.8 L298.9,1844.8 L299.4,1844.8 L299.9,1844.9 L300.3,1844.9 L300.8,1844.9 L301.2,1845 L301.7,1845 L302.1,1845 L302.6,1845 L303.1,1845.1 L303.5,1845.1 L304,1845.1 L304.4,1845.1 L304.9,1845.2 L305.4,1845.2 L305.8,1845.2 L306.3,1845.2 L306.7,1845.3 L307.2,1845.3 L307.7,1845.3 L308.1,1845.3 L308.6,1845.3" fill="none" stroke="#16881a" stroke-width="1" stroke-dasharray="3,1.5"/>
<path d="M340.9,1847 L340.9,1846.9 L341.4,1846.9 L341.8,1846.9 L342.3,1846.9 L342.8,1846.9 L343.2,1846.9 L343.7,1846.9 L344.1,1846.9 L344.6,1846.9 L345.1,1846.9 L345.5,1846.9 L346,1846.9 L346.4,1846.9 L346.9,1846.8 L347.4,1846.8 L347.8,1846.8 L348.3,1846.8 L348.7,1846.8 L349.2,1846.8 L349.6,1846.8 L350.1,1846.8 L350.6,1846.8 L351,1846.8 L351.5,1846.8 L351.9,1846.7 L352.4,1846.7 L352.9,1846.7 L353.3,1846.7 L353.8,1846.7 L354.2,1846.6 L354.7,1846.6 L355.2,1846.6 L355.6,1846.5 L356.1,1846.4 L356.5,1846.4 L357,1846.3 L357.5,1846.1 L357.9,1845.9 L358.4,1845.7 L358.8,1845.4 L359.3,1845 L359.7,1844.6 L360.2,1844.1 L360.7,1843.4 L361.1,1842.6 L361.6,1841.7 L362,1840.7 L362.5,1839.5 L363,1838.2 L363.4,1836.8 L363.9,1835.2 L364.3,1833.7 L364.8,1832 L365.3,1830.4 L365.7,1828.8 L366.2,1827.4 L366.6,1826.1 L367.1,1825 L367.5,1824.2 L368,1823.7 L368.5,1823.5 L368.9,1823.6 L369.4,1823.9 L369.8,1824.5 L370.3,1825.2 L370.8,1826.1 L371.2,1827.1 L371.7,1828.2 L372.1,1829.5 L372.6,1830.7 L373.1,1832 L373.5,1833.3 L374,1834.6 L374.4,1835.9 L374.9,1837.1 L375.4,1838.2 L375.8,1839.2 L376.3,1840.2 L376.7,1841.1 L377.2,1841.9 L377.6,1842.6 L378.1,1843.3 L378.6,1843.8 L379,1844.3 L379.5,1844.7 L379.9,1845 L380.4,1845.3 L380.9,1845.6 L381.3,1845.8 L381.8,1846 L382.2,1846.1 L382.7,1846.2 L383.2,1846.3 L383.6,1846.4 L384.1,1846.5 L384.5,1846.5 L385,1846.6 L385.4,1846.6 L385.9,1846.6 L386.4,1846.6 L386.8,1846.7 L387.3,1846.7 L387.7,1846.7 L388.2,1846.7 L388.7,1846.7 L389.1,1846.7 L389.6,1846.8 L390,1846.8 L390.5,1846.8 L391,1846.8 L391.4,1846.8 L391.9,1846.8 L392.3,1846.8 L392.8,1846.8 L393.3,1846.8 L393.7,1846.8 L394.2,1846.8 L394.6,1846.8 L395.1,1846.8 L395.5,1846.8 L396,1846.9 L396.5,1846.9 L396.9,1846.9 L397.4,1846.9 L397.8,1846.9 L398.3,1846.9 L398.8,1846.9 L399.2,1846.9 L399.7,1846.9 L400.1,1846.9 L400.6,1846.9 L401.1,1846.9 L401.5,1846.9 L402,1846.9 L402.4,1846.9 L402.4,1847 Z" fill="url(#gg)"/>
<path d="M340.9,1846.9 L341.4,1846.9 L341.8,1846.9 L342.3,1846.9 L342.8,1846.9 L343.2,1846.9 L343.7,1846.9 L344.1,1846.9 L344.6,1846.9 L345.1,1846.9 L345.5,1846.9 L346,1846.9 L346.4,1846.9 L346.9,1846.8 L347.4,1846.8 L347.8,1846.8 L348.3,1846.8 L348.7,1846.8 L349.2,1846.8 L349.6,1846.8 L350.1,1846.8 L350.6,1846.8 L351,1846.8 L351.5,1846.8 L351.9,1846.7 L352.4,1846.7 L352.9,1846.7 L353.3,1846.7 L353.8,1846.7 L354.2,1846.6 L354.7,1846.6 L355.2,1846.6 L355.6,1846.5 L356.1,1846.4 L356.5,1846.4 L357,1846.3 L357.5,1846.1 L357.9,1845.9 L358.4,1845.7 L358.8,1845.4 L359.3,1845 L359.7,1844.6 L360.2,1844.1 L360.7,1843.4 L361.1,1842.6 L361.6,1841.7 L362,1840.7 L362.5,1839.5 L363,1838.2 L363.4,1836.8 L363.9,1835.2 L364.3,1833.7 L364.8,1832 L365.3,1830.4 L365.7,1828.8 L366.2,1827.4 L366.6,1826.1 L367.1,1825 L367.5,1824.2 L368,1823.7 L368.5,1823.5 L368.9,1823.6 L369.4,1823.9 L369.8,1824.5 L370.3,1825.2 L370.8,1826.1 L371.2,1827.1 L371.7,1828.2 L372.1,1829.5 L372.6,1830.7 L373.1,1832 L373.5,1833.3 L374,1834.6 L374.4,1835.9 L374.9,1837.1 L375.4,1838.2 L375.8,1839.2 L376.3,1840.2 L376.7,1841.1 L377.2,1841.9 L377.6,1842.6 L378.1,1843.3 L378.6,1843.8 L379,1844.3 L379.5,1844.7 L379.9,1845 L380.4,1845.3 L380.9,1845.6 L381.3,1845.8 L381.8,1846 L382.2,1846.1 L382.7,1846.2 L383.2,1846.3 L383.6,1846.4 L384.1,1846.5 L384.5,1846.5 L385,1846.6 L385.4,1846.6 L385.9,1846.6 L386.4,1846.6 L386.8,1846.7 L387.3,1846.7 L387.7,1846.7 L388.2,1846.7 L388.7,1846.7 L389.1,1846.7 L389.6,1846.8 L390,1846.8 L390.5,1846.8 L391,1846.8 L391.4,1846.8 L391.9,1846.8 L392.3,1846.8 L392.8,1846.8 L393.3,1846.8 L393.7,1846.8 L394.2,1846.8 L394.6,1846.8 L395.1,1846.8 L395.5,1846.8 L396,1846.9 L396.5,1846.9 L396.9,1846.9 L397.4,1846.9 L397.8,1846.9 L398.3,1846.9 L398.8,1846.9 L399.2,1846.9 L399.7,1846.9 L400.1,1846.9 L400.6,1846.9 L401.1,1846.9 L401.5,1846.9 L402,1846.9 L402.4,1846.9" fill="none" stroke="#16881a" stroke-width="1" stroke-dasharray="3,1.5"/>
<path d="M385.7,1847 L385.7,1847 L386.1,1847 L386.6,1847 L387.1,1847 L387.5,1847 L388,1847 L388.4,1847 L388.9,1847 L389.4,1847 L389.8,1847 L390.3,1847 L390.7,1847 L391.2,1847 L391.6,1847 L392.1,1847 L392.6,1847 L393,1847 L393.5,1847 L393.9,1847 L394.4,1847 L394.9,1847 L395.3,1847 L395.8,1847 L396.2,1847 L396.7,1847 L397.2,1847 L397.6,1847 L398.1,1847 L398.5,1847 L399,1847 L399.4,1847 L399.9,1847 L400.4,1847 L400.8,1847 L401.3,1847 L401.7,1847 L402.2,1847 L402.7,1847 L403.1,1847 L403.6,1847 L404,1847 L404.5,1847 L405,1846.9 L405.4,1846.9 L405.9,1846.9 L406.3,1846.9 L406.8,1846.9 L407.3,1846.9 L407.7,1846.9 L408.2,1846.9 L408.6,1846.9 L409.1,1846.9 L409.5,1846.9 L410,1846.9 L410.5,1846.9 L410.9,1846.8 L411.4,1846.8 L411.8,1846.8 L412.3,1846.8 L412.8,1846.7 L413.2,1846.7 L413.7,1846.6 L414.1,1846.6 L414.6,1846.5 L415.1,1846.5 L415.5,1846.4 L416,1846.3 L416.4,1846.2 L416.9,1846.1 L417.3,1846 L417.8,1845.9 L418.3,1845.7 L418.7,1845.6 L419.2,1845.5 L419.6,1845.3 L420.1,1845.1 L420.6,1845 L421,1844.8 L421.5,1844.6 L421.9,1844.5 L422.4,1844.3 L422.9,1844.1 L423.3,1844 L423.8,1843.8 L424.2,1843.7 L424.7,1843.6 L425.2,1843.5 L425.6,1843.4 L426.1,1843.3 L426.5,1843.3 L427,1843.3 L427.4,1843.3 L427.9,1843.3 L428.4,1843.4 L428.8,1843.5 L429.3,1843.6 L429.7,1843.7 L430.2,1843.8 L430.7,1844 L431.1,1844.1 L431.6,1844.3 L432,1844.5 L432.5,1844.6 L433,1844.8 L433.4,1845 L433.9,1845.1 L434.3,1845.3 L434.8,1845.5 L435.2,1845.6 L435.7,1845.7 L436.2,1845.9 L436.6,1846 L437.1,1846.1 L437.5,1846.2 L438,1846.3 L438.5,1846.4 L438.9,1846.5 L439.4,1846.5 L439.8,1846.6 L440.3,1846.6 L440.8,1846.7 L441.2,1846.7 L441.7,1846.8 L442.1,1846.8 L442.6,1846.8 L443.1,1846.8 L443.5,1846.9 L444,1846.9 L444.4,1846.9 L444.9,1846.9 L445.3,1846.9 L445.8,1846.9 L446.3,1846.9 L446.7,1846.9 L447.2,1846.9 L447.6,1846.9 L448.1,1846.9 L448.6,1846.9 L449,1846.9 L449.5,1847 L449.9,1847 L450.4,1847 L450.9,1847 L451.3,1847 L451.8,1847 L452.2,1847 L452.7,1847 L453.1,1847 L453.6,1847 L454.1,1847 L454.5,1847 L455,1847 L455.4,1847 L455.9,1847 L456.4,1847 L456.8,1847 L457.3,1847 L457.7,1847 L458.2,1847 L458.7,1847 L459.1,1847 L459.6,1847 L460,1847 L460.5,1847 L461,1847 L461.4,1847 L461.9,1847 L462.3,1847 L462.8,1847 L463.2,1847 L463.7,1847 L464.2,1847 L464.6,1847 L465.1,1847 L465.5,1847 L466,1847 L466.5,1847 L466.9,1847 L467.4,1847 L467.8,1847 L467.8,1847 Z" fill="url(#gg)"/>
<path d="M385.7,1847 L386.1,1847 L386.6,1847 L387.1,1847 L387.5,1847 L388,1847 L388.4,1847 L388.9,1847 L389.4,1847 L389.8,1847 L390.3,1847 L390.7,1847 L391.2,1847 L391.6,1847 L392.1,1847 L392.6,1847 L393,1847 L393.5,1847 L393.9,1847 L394.4,1847 L394.9,1847 L395.3,1847 L395.8,1847 L396.2,1847 L396.7,1847 L397.2,1847 L397.6,1847 L398.1,1847 L398.5,1847 L399,1847 L399.4,1847 L399.9,1847 L400.4,1847 L400.8,1847 L401.3,1847 L401.7,1847 L402.2,1847 L402.7,1847 L403.1,1847 L403.6,1847 L404,1847 L404.5,1847 L405,1846.9 L405.4,1846.9 L405.9,1846.9 L406.3,1846.9 L406.8,1846.9 L407.3,1846.9 L407.7,1846.9 L408.2,1846.9 L408.6,1846.9 L409.1,1846.9 L409.5,1846.9 L410,1846.9 L410.5,1846.9 L410.9,1846.8 L411.4,1846.8 L411.8,1846.8 L412.3,1846.8 L412.8,1846.7 L413.2,1846.7 L413.7,1846.6 L414.1,1846.6 L414.6,1846.5 L415.1,1846.5 L415.5,1846.4 L416,1846.3 L416.4,1846.2 L416.9,1846.1 L417.3,1846 L417.8,1845.9 L418.3,1845.7 L418.7,1845.6 L419.2,1845.5 L419.6,1845.3 L420.1,1845.1 L420.6,1845 L421,1844.8 L421.5,1844.6 L421.9,1844.5 L422.4,1844.3 L422.9,1844.1 L423.3,1844 L423.8,1843.8 L424.2,1843.7 L424.7,1843.6 L425.2,1843.5 L425.6,1843.4 L426.1,1843.3 L426.5,1843.3 L427,1843.3 L427.4,1843.3 L427.9,1843.3 L428.4,1843.4 L428.8,1843.5 L429.3,1843.6 L429.7,1843.7 L430.2,1843.8 L430.7,1844 L431.1,1844.1 L431.6,1844.3 L432,1844.5 L432.5,1844.6 L433,1844.8 L433.4,1845 L433.9,1845.1 L434.3,1845.3 L434.8,1845.5 L435.2,1845.6 L435.7,1845.7 L436.2,1845.9 L436.6,1846 L437.1,1846.1 L437.5,1846.2 L438,1846.3 L438.5,1846.4 L438.9,1846.5 L439.4,1846.5 L439.8,1846.6 L440.3,1846.6 L440.8,1846.7 L441.2,1846.7 L441.7,1846.8 L442.1,1846.8 L442.6,1846.8 L443.1,1846.8 L443.5,1846.9 L444,1846.9 L444.4,1846.9 L444.9,1846.9 L445.3,1846.9 L445.8,1846.9 L446.3,1846.9 L446.7,1846.9 L447.2,1846.9 L447.6,1846.9 L448.1,1846.9 L448.6,1846.9 L449,1846.9 L449.5,1847 L449.9,1847 L450.4,1847 L450.9,1847 L451.3,1847 L451.8,1847 L452.2,1847 L452.7,1847 L453.1,1847 L453.6,1847 L454.1,1847 L454.5,1847 L455,1847 L455.4,1847 L455.9,1847 L456.4,1847 L456.8,1847 L457.3,1847 L457.7,1847 L458.2,1847 L458.7,1847 L459.1,1847 L459.6,1847 L460,1847 L460.5,1847 L461,1847 L461.4,1847 L461.9,1847 L462.3,1847 L462.8,1847 L463.2,1847 L463.7,1847 L464.2,1847 L464.6,1847 L465.1,1847 L465.5,1847 L466,1847 L466.5,1847 L466.9,1847 L467.4,1847 L467.8,1847" fill="none" stroke="#16881a" stroke-width="1" stroke-dasharray="3,1.5"/>
<path d="M109.1,1847 L109.1,1847 L109.6,1847 L110.1,1847 L110.5,1847 L111,1847 L111.4,1847 L111.9,1847 L112.4,1847 L112.8,1847 L113.3,1847 L113.7,1847 L114.2,1847 L114.7,1847 L115.1,1847 L115.6,1847 L116,1847 L116.5,1847 L117,1847 L117.4,1847 L117.9,1847 L118.3,1847 L118.8,1847 L119.2,1847 L119.7,1847 L120.2,1847 L120.6,1847 L121.1,1847 L121.5,1847 L122,1847 L122.5,1847 L122.9,1847 L123.4,1847 L123.8,1847 L124.3,1847 L124.8,1847 L125.2,1847 L125.7,1847 L126.1,1847 L126.6,1847 L127,1847 L127.5,1847 L128,1847 L128.4,1847 L128.9,1847 L129.3,1847 L129.8,1847 L130.3,1847 L130.7,1847 L131.2,1847 L131.6,1847 L132.1,1847 L132.6,1847 L133,1847 L133.5,1847 L133.9,1847 L134.4,1847 L134.9,1847 L135.3,1847 L135.8,1847 L136.2,1847 L136.7,1847 L137.1,1847 L137.6,1847 L138.1,1847 L138.5,1847 L139,1847 L139.4,1847 L139.9,1847 L140.4,1847 L140.8,1847 L141.3,1847 L141.7,1847 L142.2,1847 L142.7,1847 L143.1,1847 L143.6,1847 L144,1847 L144.5,1847 L144.9,1847 L145.4,1847 L145.9,1847 L146.3,1847 L146.8,1847 L147.2,1847 L147.7,1847 L148.2,1847 L148.6,1847 L149.1,1847 L149.5,1847 L150,1847 L150.5,1847 L150.9,1847 L151.4,1847 L151.8,1847 L152.3,1847 L152.8,1847 L153.2,1847 L153.7,1847 L154.1,1847 L154.6,1847 L155,1847 L155.5,1847 L156,1847 L156.4,1847 L156.9,1847 L157.3,1847 L157.8,1847 L158.3,1847 L158.7,1847 L159.2,1847 L159.6,1847 L160.1,1847 L160.6,1847 L161,1847 L161.5,1847 L161.9,1847 L162.4,1847 L162.8,1847 L163.3,1847 L163.8,1847 L164.2,1847 L164.7,1847 L165.1,1847 L165.6,1847 L166.1,1847 L166.5,1847 L167,1847 L167.4,1847 L167.9,1847 L168.4,1847 L168.8,1847 L169.3,1847 L169.7,1847 L170.2,1847 L170.7,1847 L171.1,1847 L171.6,1847 L172,1847 L172.5,1847 L172.9,1847 L173.4,1847 L173.9,1847 L174.3,1847 L174.8,1847 L175.2,1847 L175.7,1847 L176.2,1847 L176.6,1847 L177.1,1847 L177.5,1847 L178,1847 L178.5,1847 L178.9,1847 L179.4,1847 L179.8,1847 L180.3,1847 L180.7,1847 L181.2,1847 L181.7,1847 L182.1,1847 L182.6,1847 L183,1847 L183.5,1847 L184,1847 L184.4,1847 L184.9,1847 L185.3,1847 L185.8,1847 L186.3,1847 L186.7,1847 L187.2,1847 L187.6,1847 L188.1,1847 L188.6,1847 L189,1847 L189.5,1847 L189.9,1847 L190.4,1847 L190.8,1847 L191.3,1847 L191.8,1847 L192.2,1847 L192.7,1847 L193.1,1847 L193.6,1847 L194.1,1847 L194.5,1847 L195,1847 L195.4,1847 L195.9,1847 L196.4,1847 L196.8,1847 L197.3,1847 L197.7,1847 L198.2,1847 L198.6,1847 L199.1,1847 L199.6,1847 L200,1847 L200.5,1847 L200.9,1847 L201.4,1847 L201.9,1847 L202.3,1847 L202.8,1847 L203.2,1847 L203.7,1847 L204.2,1847 L204.6,1847 L205.1,1847 L205.5,1847 L206,1847 L206.5,1847 L206.9,1847 L207.4,1847 L207.8,1847 L208.3,1847 L208.7,1847 L209.2,1847 L209.7,1847 L210.1,1847 L210.6,1847 L211,1847 L211.5,1847 L212,1847 L212.4,1847 L212.9,1847 L213.3,1847 L213.8,1847 L214.3,1847 L214.7,1847 L215.2,1847 L215.6,1847 L216.1,1847 L216.5,1847 L217,1847 L217.5,1847 L217.9,1847 L218.4,1847 L218.8,1847 L219.3,1847 L219.8,1847 L220.2,1847 L220.7,1847 L221.1,1847 L221.6,1847 L222.1,1847 L222.5,1847 L223,1847 L223.4,1847 L223.9,1847 L224.4,1847 L224.8,1847 L225.3,1847 L225.7,1847 L226.2,1847 L226.6,1847 L227.1,1847 L227.6,1847 L228,1847 L228.5,1847 L228.9,1847 L229.4,1847 L229.9,1847 L230.3,1847 L230.8,1847 L231.2,1847 L231.7,1847 L232.2,1847 L232.6,1847 L233.1,1847 L233.5,1847 L234,1847 L234.4,1847 L234.9,1847 L235.4,1847 L235.8,1847 L236.3,1847 L236.7,1847 L237.2,1847 L237.7,1847 L238.1,1847 L238.6,1846.9 L239,1846.9 L239.5,1846.9 L240,1846.9 L240.4,1846.9 L240.9,1846.9 L241.3,1846.9 L241.8,1846.9 L242.3,1846.9 L242.7,1846.9 L243.2,1846.9 L243.6,1846.9 L244.1,1846.9 L244.5,1846.9 L245,1846.9 L245.5,1846.9 L245.9,1846.9 L246.4,1846.9 L246.8,1846.9 L247.3,1846.9 L247.8,1846.9 L248.2,1846.9 L248.7,1846.9 L249.1,1846.9 L249.6,1846.9 L250.1,1846.9 L250.5,1846.9 L251,1846.9 L251.4,1846.9 L251.9,1846.9 L252.3,1846.9 L252.8,1846.9 L253.3,1846.9 L253.7,1846.9 L254.2,1846.9 L254.6,1846.9 L255.1,1846.9 L255.6,1846.9 L256,1846.9 L256.5,1846.9 L256.9,1846.9 L257.4,1846.8 L257.9,1846.8 L258.3,1846.8 L258.8,1846.8 L259.2,1846.8 L259.7,1846.8 L260.2,1846.8 L260.6,1846.8 L261.1,1846.8 L261.5,1846.8 L262,1846.8 L262.4,1846.8 L262.9,1846.8 L263.4,1846.8 L263.8,1846.8 L264.3,1846.8 L264.7,1846.8 L265.2,1846.8 L265.7,1846.8 L266.1,1846.8 L266.6,1846.7 L267,1846.7 L267.5,1846.7 L268,1846.7 L268.4,1846.7 L268.9,1846.7 L269.3,1846.7 L269.8,1846.7 L270.2,1846.7 L270.7,1846.7 L271.2,1846.7 L271.6,1846.7 L272.1,1846.7 L272.5,1846.7 L273,1846.7 L273.5,1846.6 L273.9,1846.6 L274.4,1846.6 L274.8,1846.6 L275.3,1846.6 L275.8,1846.6 L276.2,1846.6 L276.7,1846.6 L277.1,1846.6 L277.6,1846.6 L278.1,1846.6 L278.5,1846.6 L279,1846.5 L279.4,1846.5 L279.9,1846.5 L280.3,1846.5 L280.8,1846.5 L281.3,1846.5 L281.7,1846.5 L282.2,1846.5 L282.6,1846.5 L283.1,1846.5 L283.6,1846.5 L284,1846.5 L284.5,1846.4 L284.9,1846.4 L285.4,1846.4 L285.9,1846.4 L286.3,1846.4 L286.8,1846.4 L287.2,1846.4 L287.7,1846.4 L288.1,1846.4 L288.6,1846.4 L289.1,1846.4 L289.5,1846.3 L290,1846.3 L290.4,1846.3 L290.9,1846.3 L291.4,1846.3 L291.8,1846.3 L292.3,1846.3 L292.7,1846.3 L293.2,1846.3 L293.7,1846.3 L294.1,1846.3 L294.6,1846.2 L295,1846.2 L295.5,1846.2 L295.9,1846.2 L296.4,1846.2 L296.9,1846.2 L297.3,1846.2 L297.8,1846.2 L298.2,1846.2 L298.7,1846.2 L299.2,1846.2 L299.6,1846.2 L300.1,1846.1 L300.5,1846.1 L301,1846.1 L301.5,1846.1 L301.9,1846.1 L302.4,1846.1 L302.8,1846.1 L303.3,1846.1 L303.8,1846.1 L304.2,1846.1 L304.7,1846.1 L305.1,1846.1 L305.6,1846.1 L306,1846.1 L306.5,1846.1 L307,1846.1 L307.4,1846.1 L307.9,1846 L308.3,1846 L308.8,1846 L309.3,1846 L309.7,1846 L310.2,1846 L310.6,1846 L311.1,1846 L311.6,1846 L312,1846 L312.5,1846 L312.9,1846 L313.4,1846 L313.8,1846 L314.3,1846 L314.8,1846 L315.2,1846 L315.7,1846 L316.1,1846 L316.6,1846 L317.1,1846 L317.5,1846 L318,1846 L318.4,1846 L318.9,1846 L319.4,1846 L319.8,1846 L320.3,1846 L320.7,1846 L321.2,1846 L321.7,1846 L322.1,1846 L322.6,1846 L323,1846 L323.5,1846 L323.9,1846.1 L324.4,1846.1 L324.9,1846.1 L325.3,1846.1 L325.8,1846.1 L326.2,1846.1 L326.7,1846.1 L327.2,1846.1 L327.6,1846.1 L328.1,1846.1 L328.5,1846.1 L329,1846.1 L329.5,1846.1 L329.9,1846.1 L330.4,1846.1 L330.8,1846.1 L331.3,1846.1 L331.7,1846.2 L332.2,1846.2 L332.7,1846.2 L333.1,1846.2 L333.6,1846.2 L334,1846.2 L334.5,1846.2 L335,1846.2 L335.4,1846.2 L335.9,1846.2 L336.3,1846.2 L336.8,1846.2 L337.3,1846.3 L337.7,1846.3 L338.2,1846.3 L338.6,1846.3 L339.1,1846.3 L339.6,1846.3 L340,1846.3 L340.5,1846.3 L340.9,1846.3 L341.4,1846.3 L341.8,1846.3 L342.3,1846.4 L342.8,1846.4 L343.2,1846.4 L343.7,1846.4 L344.1,1846.4 L344.6,1846.4 L345.1,1846.4 L345.5,1846.4 L346,1846.4 L346.4,1846.4 L346.9,1846.4 L347.4,1846.5 L347.8,1846.5 L348.3,1846.5 L348.7,1846.5 L349.2,1846.5 L349.6,1846.5 L350.1,1846.5 L350.6,1846.5 L351,1846.5 L351.5,1846.5 L351.9,1846.5 L352.4,1846.5 L352.9,1846.6 L353.3,1846.6 L353.8,1846.6 L354.2,1846.6 L354.7,1846.6 L355.2,1846.6 L355.6,1846.6 L356.1,1846.6 L356.5,1846.6 L357,1846.6 L357.5,1846.6 L357.9,1846.6 L358.4,1846.7 L358.8,1846.7 L359.3,1846.7 L359.7,1846.7 L360.2,1846.7 L360.7,1846.7 L361.1,1846.7 L361.6,1846.7 L362,1846.7 L362.5,1846.7 L363,1846.7 L363.4,1846.7 L363.9,1846.7 L364.3,1846.7 L364.8,1846.7 L365.3,1846.8 L365.7,1846.8 L366.2,1846.8 L366.6,1846.8 L367.1,1846.8 L367.5,1846.8 L368,1846.8 L368.5,1846.8 L368.9,1846.8 L369.4,1846.8 L369.8,1846.8 L370.3,1846.8 L370.8,1846.8 L371.2,1846.8 L371.7,1846.8 L372.1,1846.8 L372.6,1846.8 L373.1,1846.8 L373.5,1846.8 L374,1846.8 L374.4,1846.9 L374.9,1846.9 L375.4,1846.9 L375.8,1846.9 L376.3,1846.9 L376.7,1846.9 L377.2,1846.9 L377.6,1846.9 L378.1,1846.9 L378.6,1846.9 L379,1846.9 L379.5,1846.9 L379.9,1846.9 L380.4,1846.9 L380.9,1846.9 L381.3,1846.9 L381.8,1846.9 L382.2,1846.9 L382.7,1846.9 L383.2,1846.9 L383.6,1846.9 L384.1,1846.9 L384.5,1846.9 L385,1846.9 L385.4,1846.9 L385.9,1846.9 L386.4,1846.9 L386.8,1846.9 L387.3,1846.9 L387.7,1846.9 L388.2,1846.9 L388.7,1846.9 L389.1,1846.9 L389.6,1846.9 L390,1846.9 L390.5,1846.9 L391,1846.9 L391.4,1846.9 L391.9,1846.9 L392.3,1846.9 L392.8,1846.9 L393.3,1847 L393.7,1847 L394.2,1847 L394.6,1847 L395.1,1847 L395.5,1847 L396,1847 L396.5,1847 L396.9,1847 L397.4,1847 L397.8,1847 L398.3,1847 L398.8,1847 L399.2,1847 L399.7,1847 L400.1,1847 L400.6,1847 L401.1,1847 L401.5,1847 L402,1847 L402.4,1847 L402.9,1847 L403.3,1847 L403.8,1847 L404.3,1847 L404.7,1847 L405.2,1847 L405.6,1847 L406.1,1847 L406.6,1847 L407,1847 L407.5,1847 L407.9,1847 L408.4,1847 L408.9,1847 L409.3,1847 L409.8,1847 L410.2,1847 L410.7,1847 L411.2,1847 L411.6,1847 L412.1,1847 L412.5,1847 L413,1847 L413.4,1847 L413.9,1847 L414.4,1847 L414.8,1847 L415.3,1847 L415.7,1847 L416.2,1847 L416.7,1847 L417.1,1847 L417.6,1847 L418,1847 L418.5,1847 L419,1847 L419.4,1847 L419.9,1847 L420.3,1847 L420.8,1847 L421.2,1847 L421.7,1847 L422.2,1847 L422.6,1847 L423.1,1847 L423.5,1847 L424,1847 L424.5,1847 L424.9,1847 L425.4,1847 L425.8,1847 L426.3,1847 L426.8,1847 L427.2,1847 L427.7,1847 L428.1,1847 L428.6,1847 L429.1,1847 L429.5,1847 L430,1847 L430.4,1847 L430.9,1847 L431.3,1847 L431.8,1847 L432.3,1847 L432.7,1847 L433.2,1847 L433.6,1847 L434.1,1847 L434.6,1847 L435,1847 L435.5,1847 L435.9,1847 L436.4,1847 L436.9,1847 L437.3,1847 L437.8,1847 L438.2,1847 L438.7,1847 L439.1,1847 L439.6,1847 L440.1,1847 L440.5,1847 L441,1847 L441.4,1847 L441.9,1847 L442.4,1847 L442.8,1847 L443.3,1847 L443.7,1847 L444.2,1847 L444.7,1847 L445.1,1847 L445.6,1847 L446,1847 L446.5,1847 L447,1847 L447.4,1847 L447.9,1847 L448.3,1847 L448.8,1847 L449.2,1847 L449.7,1847 L450.2,1847 L450.6,1847 L451.1,1847 L451.5,1847 L452,1847 L452.5,1847 L452.9,1847 L453.4,1847 L453.8,1847 L454.3,1847 L454.8,1847 L455.2,1847 L455.7,1847 L456.1,1847 L456.6,1847 L457,1847 L457.5,1847 L458,1847 L458.4,1847 L458.9,1847 L459.3,1847 L459.8,1847 L460.3,1847 L460.7,1847 L461.2,1847 L461.6,1847 L462.1,1847 L462.6,1847 L463,1847 L463.5,1847 L463.9,1847 L464.4,1847 L464.9,1847 L465.3,1847 L465.8,1847 L466.2,1847 L466.7,1847 L467.1,1847 L467.6,1847 L468.1,1847 L468.5,1847 L469,1847 L469.4,1847 L469.9,1847 L470.4,1847 L470.8,1847 L471.3,1847 L471.7,1847 L472.2,1847 L472.7,1847 L473.1,1847 L473.6,1847 L474,1847 L474.5,1847 L474.9,1847 L475.4,1847 L475.9,1847 L476.3,1847 L476.8,1847 L477.2,1847 L477.7,1847 L478.2,1847 L478.6,1847 L479.1,1847 L479.5,1847 L480,1847 L480.5,1847 L480.9,1847 L481.4,1847 L481.8,1847 L482.3,1847 L482.8,1847 L483.2,1847 L483.7,1847 L484.1,1847 L484.6,1847 L485,1847 L485.5,1847 L486,1847 L486.4,1847 L486.9,1847 L487.3,1847 L487.8,1847 L488.3,1847 L488.7,1847 L489.2,1847 L489.6,1847 L490.1,1847 L490.6,1847 L491,1847 L491.5,1847 L491.9,1847 L492.4,1847 L492.8,1847 L493.3,1847 L493.8,1847 L494.2,1847 L494.7,1847 L495.1,1847 L495.6,1847 L496.1,1847 L496.5,1847 L497,1847 L497.4,1847 L497.9,1847 L498.4,1847 L498.8,1847 L499.3,1847 L499.7,1847 L500.2,1847 L500.7,1847 L501.1,1847 L501.6,1847 L502,1847 L502.5,1847 L502.9,1847 L503.4,1847 L503.9,1847 L504.3,1847 L504.8,1847 L505.2,1847 L505.7,1847 L506.2,1847 L506.6,1847 L507.1,1847 L507.5,1847 L508,1847 L508.5,1847 L508.9,1847 L509.4,1847 L509.8,1847 L510.3,1847 L510.7,1847 L511.2,1847 L511.7,1847 L512.1,1847 L512.6,1847 L513,1847 L513.5,1847 L514,1847 L514.4,1847 L514.9,1847 L515.3,1847 L515.8,1847 L516.3,1847 L516.7,1847 L517.2,1847 L517.6,1847 L518.1,1847 L518.6,1847 L519,1847 L519.5,1847 L519.9,1847 L520.4,1847 L520.8,1847 L521.3,1847 L521.8,1847 L521.8,1847 Z" fill="url(#gg)"/>
<path d="M109.1,1847 L109.6,1847 L110.1,1847 L110.5,1847 L111,1847 L111.4,1847 L111.9,1847 L112.4,1847 L112.8,1847 L113.3,1847 L113.7,1847 L114.2,1847 L114.7,1847 L115.1,1847 L115.6,1847 L116,1847 L116.5,1847 L117,1847 L117.4,1847 L117.9,1847 L118.3,1847 L118.8,1847 L119.2,1847 L119.7,1847 L120.2,1847 L120.6,1847 L121.1,1847 L121.5,1847 L122,1847 L122.5,1847 L122.9,1847 L123.4,1847 L123.8,1847 L124.3,1847 L124.8,1847 L125.2,1847 L125.7,1847 L126.1,1847 L126.6,1847 L127,1847 L127.5,1847 L128,1847 L128.4,1847 L128.9,1847 L129.3,1847 L129.8,1847 L130.3,1847 L130.7,1847 L131.2,1847 L131.6,1847 L132.1,1847 L132.6,1847 L133,1847 L133.5,1847 L133.9,1847 L134.4,1847 L134.9,1847 L135.3,1847 L135.8,1847 L136.2,1847 L136.7,1847 L137.1,1847 L137.6,1847 L138.1,1847 L138.5,1847 L139,1847 L139.4,1847 L139.9,1847 L140.4,1847 L140.8,1847 L141.3,1847 L141.7,1847 L142.2,1847 L142.7,1847 L143.1,1847 L143.6,1847 L144,1847 L144.5,1847 L144.9,1847 L145.4,1847 L145.9,1847 L146.3,1847 L146.8,1847 L147.2,1847 L147.7,1847 L148.2,1847 L148.6,1847 L149.1,1847 L149.5,1847 L150,1847 L150.5,1847 L150.9,1847 L151.4,1847 L151.8,1847 L152.3,1847 L152.8,1847 L153.2,1847 L153.7,1847 L154.1,1847 L154.6,1847 L155,1847 L155.5,1847 L156,1847 L156.4,1847 L156.9,1847 L157.3,1847 L157.8,1847 L158.3,1847 L158.7,1847 L159.2,1847 L159.6,1847 L160.1,1847 L160.6,1847 L161,1847 L161.5,1847 L161.9,1847 L162.4,1847 L162.8,1847 L163.3,1847 L163.8,1847 L164.2,1847 L164.7,1847 L165.1,1847 L165.6,1847 L166.1,1847 L166.5,1847 L167,1847 L167.4,1847 L167.9,1847 L168.4,1847 L168.8,1847 L169.3,1847 L169.7,1847 L170.2,1847 L170.7,1847 L171.1,1847 L171.6,1847 L172,1847 L172.5,1847 L172.9,1847 L173.4,1847 L173.9,1847 L174.3,1847 L174.8,1847 L175.2,1847 L175.7,1847 L176.2,1847 L176.6,1847 L177.1,1847 L177.5,1847 L178,1847 L178.5,1847 L178.9,1847 L179.4,1847 L179.8,1847 L180.3,1847 L180.7,1847 L181.2,1847 L181.7,1847 L182.1,1847 L182.6,1847 L183,1847 L183.5,1847 L184,1847 L184.4,1847 L184.9,1847 L185.3,1847 L185.8,1847 L186.3,1847 L186.7,1847 L187.2,1847 L187.6,1847 L188.1,1847 L188.6,1847 L189,1847 L189.5,1847 L189.9,1847 L190.4,1847 L190.8,1847 L191.3,1847 L191.8,1847 L192.2,1847 L192.7,1847 L193.1,1847 L193.6,1847 L194.1,1847 L194.5,1847 L195,1847 L195.4,1847 L195.9,1847 L196.4,1847 L196.8,1847 L197.3,1847 L197.7,1847 L198.2,1847 L198.6,1847 L199.1,1847 L199.6,1847 L200,1847 L200.5,1847 L200.9,1847 L201.4,1847 L201.9,1847 L202.3,1847 L202.8,1847 L203.2,1847 L203.7,1847 L204.2,1847 L204.6,1847 L205.1,1847 L205.5,1847 L206,1847 L206.5,1847 L206.9,1847 L207.4,1847 L207.8,1847 L208.3,1847 L208.7,1847 L209.2,1847 L209.7,1847 L210.1,1847 L210.6,1847 L211,1847 L211.5,1847 L212,1847 L212.4,1847 L212.9,1847 L213.3,1847 L213.8,1847 L214.3,1847 L214.7,1847 L215.2,1847 L215.6,1847 L216.1,1847 L216.5,1847 L217,1847 L217.5,1847 L217.9,1847 L218.4,1847 L218.8,1847 L219.3,1847 L219.8,1847 L220.2,1847 L220.7,1847 L221.1,1847 L221.6,1847 L222.1,1847 L222.5,1847 L223,1847 L223.4,1847 L223.9,1847 L224.4,1847 L224.8,1847 L225.3,1847 L225.7,1847 L226.2,1847 L226.6,1847 L227.1,1847 L227.6,1847 L228,1847 L228.5,1847 L228.9,1847 L229.4,1847 L229.9,1847 L230.3,1847 L230.8,1847 L231.2,1847 L231.7,1847 L232.2,1847 L232.6,1847 L233.1,1847 L233.5,1847 L234,1847 L234.4,1847 L234.9,1847 L235.4,1847 L235.8,1847 L236.3,1847 L236.7,1847 L237.2,1847 L237.7,1847 L238.1,1847 L238.6,1846.9 L239,1846.9 L239.5,1846.9 L240,1846.9 L240.4,1846.9 L240.9,1846.9 L241.3,1846.9 L241.8,1846.9 L242.3,1846.9 L242.7,1846.9 L243.2,1846.9 L243.6,1846.9 L244.1,1846.9 L244.5,1846.9 L245,1846.9 L245.5,1846.9 L245.9,1846.9 L246.4,1846.9 L246.8,1846.9 L247.3,1846.9 L247.8,1846.9 L248.2,1846.9 L248.7,1846.9 L249.1,1846.9 L249.6,1846.9 L250.1,1846.9 L250.5,1846.9 L251,1846.9 L251.4,1846.9 L251.9,1846.9 L252.3,1846.9 L252.8,1846.9 L253.3,1846.9 L253.7,1846.9 L254.2,1846.9 L254.6,1846.9 L255.1,1846.9 L255.6,1846.9 L256,1846.9 L256.5,1846.9 L256.9,1846.9 L257.4,1846.8 L257.9,1846.8 L258.3,1846.8 L258.8,1846.8 L259.2,1846.8 L259.7,1846.8 L260.2,1846.8 L260.6,1846.8 L261.1,1846.8 L261.5,1846.8 L262,1846.8 L262.4,1846.8 L262.9,1846.8 L263.4,1846.8 L263.8,1846.8 L264.3,1846.8 L264.7,1846.8 L265.2,1846.8 L265.7,1846.8 L266.1,1846.8 L266.6,1846.7 L267,1846.7 L267.5,1846.7 L268,1846.7 L268.4,1846.7 L268.9,1846.7 L269.3,1846.7 L269.8,1846.7 L270.2,1846.7 L270.7,1846.7 L271.2,1846.7 L271.6,1846.7 L272.1,1846.7 L272.5,1846.7 L273,1846.7 L273.5,1846.6 L273.9,1846.6 L274.4,1846.6 L274.8,1846.6 L275.3,1846.6 L275.8,1846.6 L276.2,1846.6 L276.7,1846.6 L277.1,1846.6 L277.6,1846.6 L278.1,1846.6 L278.5,1846.6 L279,1846.5 L279.4,1846.5 L279.9,1846.5 L280.3,1846.5 L280.8,1846.5 L281.3,1846.5 L281.7,1846.5 L282.2,1846.5 L282.6,1846.5 L283.1,1846.5 L283.6,1846.5 L284,1846.5 L284.5,1846.4 L284.9,1846.4 L285.4,1846.4 L285.9,1846.4 L286.3,1846.4 L286.8,1846.4 L287.2,1846.4 L287.7,1846.4 L288.1,1846.4 L288.6,1846.4 L289.1,1846.4 L289.5,1846.3 L290,1846.3 L290.4,1846.3 L290.9,1846.3 L291.4,1846.3 L291.8,1846.3 L292.3,1846.3 L292.7,1846.3 L293.2,1846.3 L293.7,1846.3 L294.1,1846.3 L294.6,1846.2 L295,1846.2 L295.5,1846.2 L295.9,1846.2 L296.4,1846.2 L296.9,1846.2 L297.3,1846.2 L297.8,1846.2 L298.2,1846.2 L298.7,1846.2 L299.2,1846.2 L299.6,1846.2 L300.1,1846.1 L300.5,1846.1 L301,1846.1 L301.5,1846.1 L301.9,1846.1 L302.4,1846.1 L302.8,1846.1 L303.3,1846.1 L303.8,1846.1 L304.2,1846.1 L304.7,1846.1 L305.1,1846.1 L305.6,1846.1 L306,1846.1 L306.5,1846.1 L307,1846.1 L307.4,1846.1 L307.9,1846 L308.3,1846 L308.8,1846 L309.3,1846 L309.7,1846 L310.2,1846 L310.6,1846 L311.1,1846 L311.6,1846 L312,1846 L312.5,1846 L312.9,1846 L313.4,1846 L313.8,1846 L314.3,1846 L314.8,1846 L315.2,1846 L315.7,1846 L316.1,1846 L316.6,1846 L317.1,1846 L317.5,1846 L318,1846 L318.4,1846 L318.9,1846 L319.4,1846 L319.8,1846 L320.3,1846 L320.7,1846 L321.2,1846 L321.7,1846 L322.1,1846 L322.6,1846 L323,1846 L323.5,1846 L323.9,1846.1 L324.4,1846.1 L324.9,1846.1 L325.3,1846.1 L325.8,1846.1 L326.2,1846.1 L326.7,1846.1 L327.2,1846.1 L327.6,1846.1 L328.1,1846.1 L328.5,1846.1 L329,1846.1 L329.5,1846.1 L329.9,1846.1 L330.4,1846.1 L330.8,1846.1 L331.3,1846.1 L331.7,1846.2 L332.2,1846.2 L332.7,1846.2 L333.1,1846.2 L333.6,1846.2 L334,1846.2 L334.5,1846.2 L335,1846.2 L335.4,1846.2 L335.9,1846.2 L336.3,1846.2 L336.8,1846.2 L337.3,1846.3 L337.7,1846.3 L338.2,1846.3 L338.6,1846.3 L339.1,1846.3 L339.6,1846.3 L340,1846.3 L340.5,1846.3 L340.9,1846.3 L341.4,1846.3 L341.8,1846.3 L342.3,1846.4 L342.8,1846.4 L343.2,1846.4 L343.7,1846.4 L344.1,1846.4 L344.6,1846.4 L345.1,1846.4 L345.5,1846.4 L346,1846.4 L346.4,1846.4 L346.9,1846.4 L347.4,1846.5 L347.8,1846.5 L348.3,1846.5 L348.7,1846.5 L349.2,1846.5 L349.6,1846.5 L350.1,1846.5 L350.6,1846.5 L351,1846.5 L351.5,1846.5 L351.9,1846.5 L352.4,1846.5 L352.9,1846.6 L353.3,1846.6 L353.8,1846.6 L354.2,1846.6 L354.7,1846.6 L355.2,1846.6 L355.6,1846.6 L356.1,1846.6 L356.5,1846.6 L357,1846.6 L357.5,1846.6 L357.9,1846.6 L358.4,1846.7 L358.8,1846.7 L359.3,1846.7 L359.7,1846.7 L360.2,1846.7 L360.7,1846.7 L361.1,1846.7 L361.6,1846.7 L362,1846.7 L362.5,1846.7 L363,1846.7 L363.4,1846.7 L363.9,1846.7 L364.3,1846.7 L364.8,1846.7 L365.3,1846.8 L365.7,1846.8 L366.2,1846.8 L366.6,1846.8 L367.1,1846.8 L367.5,1846.8 L368,1846.8 L368.5,1846.8 L368.9,1846.8 L369.4,1846.8 L369.8,1846.8 L370.3,1846.8 L370.8,1846.8 L371.2,1846.8 L371.7,1846.8 L372.1,1846.8 L372.6,1846.8 L373.1,1846.8 L373.5,1846.8 L374,1846.8 L374.4,1846.9 L374.9,1846.9 L375.4,1846.9 L375.8,1846.9 L376.3,1846.9 L376.7,1846.9 L377.2,1846.9 L377.6,1846.9 L378.1,1846.9 L378.6,1846.9 L379,1846.9 L379.5,1846.9 L379.9,1846.9 L380.4,1846.9 L380.9,1846.9 L381.3,1846.9 L381.8,1846.9 L382.2,1846.9 L382.7,1846.9 L383.2,1846.9 L383.6,1846.9 L384.1,1846.9 L384.5,1846.9 L385,1846.9 L385.4,1846.9 L385.9,1846.9 L386.4,1846.9 L386.8,1846.9 L387.3,1846.9 L387.7,1846.9 L388.2,1846.9 L388.7,1846.9 L389.1,1846.9 L389.6,1846.9 L390,1846.9 L390.5,1846.9 L391,1846.9 L391.4,1846.9 L391.9,1846.9 L392.3,1846.9 L392.8,1846.9 L393.3,1847 L393.7,1847 L394.2,1847 L394.6,1847 L395.1,1847 L395.5,1847 L396,1847 L396.5,1847 L396.9,1847 L397.4,1847 L397.8,1847 L398.3,1847 L398.8,1847 L399.2,1847 L399.7,1847 L400.1,1847 L400.6,1847 L401.1,1847 L401.5,1847 L402,1847 L402.4,1847 L402.9,1847 L403.3,1847 L403.8,1847 L404.3,1847 L404.7,1847 L405.2,1847 L405.6,1847 L406.1,1847 L406.6,1847 L407,1847 L407.5,1847 L407.9,1847 L408.4,1847 L408.9,1847 L409.3,1847 L409.8,1847 L410.2,1847 L410.7,1847 L411.2,1847 L411.6,1847 L412.1,1847 L412.5,1847 L413,1847 L413.4,1847 L413.9,1847 L414.4,1847 L414.8,1847 L415.3,1847 L415.7,1847 L416.2,1847 L416.7,1847 L417.1,1847 L417.6,1847 L418,1847 L418.5,1847 L419,1847 L419.4,1847 L419.9,1847 L420.3,1847 L420.8,1847 L421.2,1847 L421.7,1847 L422.2,1847 L422.6,1847 L423.1,1847 L423.5,1847 L424,1847 L424.5,1847 L424.9,1847 L425.4,1847 L425.8,1847 L426.3,1847 L426.8,1847 L427.2,1847 L427.7,1847 L428.1,1847 L428.6,1847 L429.1,1847 L429.5,1847 L430,1847 L430.4,1847 L430.9,1847 L431.3,1847 L431.8,1847 L432.3,1847 L432.7,1847 L433.2,1847 L433.6,1847 L434.1,1847 L434.6,1847 L435,1847 L435.5,1847 L435.9,1847 L436.4,1847 L436.9,1847 L437.3,1847 L437.8,1847 L438.2,1847 L438.7,1847 L439.1,1847 L439.6,1847 L440.1,1847 L440.5,1847 L441,1847 L441.4,1847 L441.9,1847 L442.4,1847 L442.8,1847 L443.3,1847 L443.7,1847 L444.2,1847 L444.7,1847 L445.1,1847 L445.6,1847 L446,1847 L446.5,1847 L447,1847 L447.4,1847 L447.9,1847 L448.3,1847 L448.8,1847 L449.2,1847 L449.7,1847 L450.2,1847 L450.6,1847 L451.1,1847 L451.5,1847 L452,1847 L452.5,1847 L452.9,1847 L453.4,1847 L453.8,1847 L454.3,1847 L454.8,1847 L455.2,1847 L455.7,1847 L456.1,1847 L456.6,1847 L457,1847 L457.5,1847 L458,1847 L458.4,1847 L458.9,1847 L459.3,1847 L459.8,1847 L460.3,1847 L460.7,1847 L461.2,1847 L461.6,1847 L462.1,1847 L462.6,1847 L463,1847 L463.5,1847 L463.9,1847 L464.4,1847 L464.9,1847 L465.3,1847 L465.8,1847 L466.2,1847 L466.7,1847 L467.1,1847 L467.6,1847 L468.1,1847 L468.5,1847 L469,1847 L469.4,1847 L469.9,1847 L470.4,1847 L470.8,1847 L471.3,1847 L471.7,1847 L472.2,1847 L472.7,1847 L473.1,1847 L473.6,1847 L474,1847 L474.5,1847 L474.9,1847 L475.4,1847 L475.9,1847 L476.3,1847 L476.8,1847 L477.2,1847 L477.7,1847 L478.2,1847 L478.6,1847 L479.1,1847 L479.5,1847 L480,1847 L480.5,1847 L480.9,1847 L481.4,1847 L481.8,1847 L482.3,1847 L482.8,1847 L483.2,1847 L483.7,1847 L484.1,1847 L484.6,1847 L485,1847 L485.5,1847 L486,1847 L486.4,1847 L486.9,1847 L487.3,1847 L487.8,1847 L488.3,1847 L488.7,1847 L489.2,1847 L489.6,1847 L490.1,1847 L490.6,1847 L491,1847 L491.5,1847 L491.9,1847 L492.4,1847 L492.8,1847 L493.3,1847 L493.8,1847 L494.2,1847 L494.7,1847 L495.1,1847 L495.6,1847 L496.1,1847 L496.5,1847 L497,1847 L497.4,1847 L497.9,1847 L498.4,1847 L498.8,1847 L499.3,1847 L499.7,1847 L500.2,1847 L500.7,1847 L501.1,1847 L501.6,1847 L502,1847 L502.5,1847 L502.9,1847 L503.4,1847 L503.9,1847 L504.3,1847 L504.8,1847 L505.2,1847 L505.7,1847 L506.2,1847 L506.6,1847 L507.1,1847 L507.5,1847 L508,1847 L508.5,1847 L508.9,1847 L509.4,1847 L509.8,1847 L510.3,1847 L510.7,1847 L511.2,1847 L511.7,1847 L512.1,1847 L512.6,1847 L513,1847 L513.5,1847 L514,1847 L514.4,1847 L514.9,1847 L515.3,1847 L515.8,1847 L516.3,1847 L516.7,1847 L517.2,1847 L517.6,1847 L518.1,1847 L518.6,1847 L519,1847 L519.5,1847 L519.9,1847 L520.4,1847 L520.8,1847 L521.3,1847 L521.8,1847" fill="none" stroke="#16881a" stroke-width="1" stroke-dasharray="3,1.5"/>
<polyline points="86.2,1846.7 87,1846.2 87.8,1846.5 88.6,1846 89.4,1846.1 90.2,1846.4 91,1844.2 91.8,1846 92.6,1844.9 93.4,1845.3 94.2,1846.5 95,1845.7 95.8,1845.5 96.6,1846.2 97.4,1846.3 98.2,1845.3 99.1,1846.5 99.9,1845.1 100.7,1846.5 101.5,1846.2 102.3,1846 103.1,1846 103.9,1845.2 104.7,1845.4 105.5,1846.4 106.3,1845.9 107.1,1845.8 107.9,1845.8 108.7,1846.1 109.5,1846.4 110.3,1845.1 111.1,1845.7 111.9,1846.2 112.7,1845.6 113.5,1846 114.3,1845.8 115.1,1845.5 115.9,1846.2 116.7,1845.5 117.5,1845.4 118.3,1846.1 119.1,1845.8 119.9,1846.6 120.7,1846.5 121.5,1846.2 122.3,1845.1 123.1,1846.3 124,1846.5 124.8,1846 125.6,1844.6 126.4,1846.5 127.2,1845.5 128,1846.5 128.8,1844.9 129.6,1846.4 130.4,1845.4 131.2,1845.3 132,1845.1 132.8,1844.2 133.6,1846.2 134.4,1845.7 135.2,1844.5 136,1846.2 136.8,1845.8 137.6,1845.1 138.4,1844.3 139.2,1845.1 140,1846.4 140.8,1844.7 141.6,1845 142.4,1845.3 143.2,1845.5 144,1846 144.8,1844.7 145.6,1845.8 146.4,1846.1 147.2,1846.3 148,1845.9 148.8,1844.5 149.7,1845.4 150.5,1845.4 151.3,1844.8 152.1,1845.5 152.9,1845.7 153.7,1845.6 154.5,1845.4 155.3,1846.1 156.1,1844.7 156.9,1845.7 157.7,1845.9 158.5,1845.8 159.3,1845.8 160.1,1845.9 160.9,1846 161.7,1844.3 162.5,1846.1 163.3,1845.1 164.1,1845.8 164.9,1844.5 165.7,1844.4 166.5,1845.7 167.3,1844.7 168.1,1845.9 168.9,1844.6 169.7,1845 170.5,1845.7 171.3,1845.1 172.1,1845.5 172.9,1845 173.7,1844.1 174.6,1845.6 175.4,1845.6 176.2,1845.4 177,1845.1 177.8,1845.2 178.6,1844.2 179.4,1845.5 180.2,1845.1 181,1844.5 181.8,1843.6 182.6,1844.8 183.4,1844.6 184.2,1844.5 185,1844.8 185.8,1844.2 186.6,1844.6 187.4,1844.8 188.2,1844.1 189,1844.3 189.8,1843.8 190.6,1844.4 191.4,1844.4 192.2,1843.4 193,1842.6 193.8,1842.9 194.6,1843.7 195.4,1843.5 196.2,1843.5 197,1843.6 197.8,1842.1 198.6,1842.9 199.5,1843.4 200.3,1842.7 201.1,1842.9 201.9,1842.5 202.7,1842.7 203.5,1842 204.3,1841.2 205.1,1841.2 205.9,1841.7 206.7,1841.1 207.5,1840.7 208.3,1840.4 209.1,1839.8 209.9,1838 210.7,1837.8 211.5,1837.2 212.3,1835.9 213.1,1834.7 213.9,1832.9 214.7,1830.5 215.5,1827.3 216.3,1824.4 217.1,1818.8 217.9,1813.4 218.7,1807.3 219.5,1800.5 220.3,1792.1 221.1,1781.6 221.9,1769.1 222.7,1753.8 223.5,1740.1 224.4,1721.5 225.2,1702.3 226,1680.9 226.8,1660.6 227.6,1636.7 228.4,1613 229.2,1588.4 230,1564 230.8,1539.7 231.6,1516.5 232.4,1496.6 233.2,1477.2 234,1463.1 234.8,1450.7 235.6,1442.9 236.4,1439.7 237.2,1441.7 238,1445.1 238.8,1450.2 239.6,1459.7 240.4,1470.2 241.2,1481.3 242,1497.1 242.8,1513.5 243.6,1528.9 244.4,1548.6 245.2,1566.7 246,1585.8 246.8,1604.3 247.6,1622.9 248.4,1640.9 249.2,1658.5 250.1,1675.9 250.9,1691.5 251.7,1706.6 252.5,1721.7 253.3,1735.6 254.1,1748.2 254.9,1759 255.7,1768.4 256.5,1778.8 257.3,1786.5 258.1,1793.6 258.9,1800.8 259.7,1805.2 260.5,1811.3 261.3,1816.2 262.1,1820 262.9,1822.7 263.7,1825.3 264.5,1828.4 265.3,1830.9 266.1,1832.5 266.9,1834.1 267.7,1835 268.5,1836.4 269.3,1836 270.1,1837.4 270.9,1838.7 271.7,1839.2 272.5,1838.8 273.3,1839.6 274.1,1840.5 275,1839.8 275.8,1841.1 276.6,1840.7 277.4,1841.5 278.2,1840.7 279,1841.6 279.8,1840.6 280.6,1841.5 281.4,1841.7 282.2,1841.3 283,1842.4 283.8,1842.3 284.6,1842.7 285.4,1842.6 286.2,1842.9 287,1841.2 287.8,1842.6 288.6,1842.7 289.4,1841.3 290.2,1842.2 291,1842.8 291.8,1843.4 292.6,1842.4 293.4,1842.2 294.2,1842.8 295,1843.7 295.8,1843.6 296.6,1843.5 297.4,1843.6 298.2,1843.8 299,1843.8 299.9,1842.7 300.7,1841.9 301.5,1843.1 302.3,1843.1 303.1,1844.1 303.9,1842.9 304.7,1842.7 305.5,1843.4 306.3,1842.9 307.1,1843.7 307.9,1842.9 308.7,1844.1 309.5,1844.3 310.3,1843.7 311.1,1844.2 311.9,1844.4 312.7,1843.7 313.5,1843.7 314.3,1844 315.1,1844.5 315.9,1844.2 316.7,1843.7 317.5,1844.3 318.3,1844.3 319.1,1844.5 319.9,1843.8 320.7,1844.7 321.5,1843.7 322.3,1844.7 323.1,1844.5 323.9,1844.4 324.8,1844.9 325.6,1843.9 326.4,1844.2 327.2,1844 328,1844.9 328.8,1843.7 329.6,1843.6 330.4,1844.6 331.2,1843.8 332,1843.1 332.8,1844.5 333.6,1845.1 334.4,1844.5 335.2,1844.6 336,1844.7 336.8,1844.5 337.6,1844.7 338.4,1844.7 339.2,1843.9 340,1845.2 340.8,1843.2 341.6,1844.3 342.4,1844.8 343.2,1844.8 344,1843.6 344.8,1845.4 345.6,1845.2 346.4,1845.2 347.2,1845.3 348,1844.6 348.8,1845.2 349.6,1844.6 350.5,1844.7 351.3,1845.3 352.1,1844.7 352.9,1845.6 353.7,1844.6 354.5,1844.9 355.3,1845.4 356.1,1845.1 356.9,1845.3 357.7,1843.2 358.5,1844.3 359.3,1843.6 360.1,1842.2 360.9,1841.3 361.7,1838.6 362.5,1837.6 363.3,1835.7 364.1,1832.5 364.9,1829 365.7,1826.9 366.5,1825.1 367.3,1823.5 368.1,1822.5 368.9,1822.5 369.7,1821.7 370.5,1824.8 371.3,1825.6 372.1,1828.5 372.9,1831 373.7,1831.9 374.5,1835 375.4,1836.8 376.2,1838.6 377,1840.7 377.8,1842 378.6,1843.1 379.4,1843.6 380.2,1843 381,1844 381.8,1844 382.6,1845.5 383.4,1844.9 384.2,1845.6 385,1844.1 385.8,1845.3 386.6,1846.2 387.4,1845.4 388.2,1845.1 389,1845.8 389.8,1846.3 390.6,1846 391.4,1845.7 392.2,1846.1 393,1846.4 393.8,1845.9 394.6,1845.4 395.4,1845.9 396.2,1845.7 397,1846.2 397.8,1846.1 398.6,1846 399.4,1845.9 400.3,1845.2 401.1,1846.4 401.9,1845.9 402.7,1845.4 403.5,1846.5 404.3,1846.2 405.1,1845.4 405.9,1846.3 406.7,1846.2 407.5,1846.2 408.3,1846.4 409.1,1846.1 409.9,1846.2 410.7,1846.4 411.5,1845.9 412.3,1846.3 413.1,1846.2 413.9,1846 414.7,1845.6 415.5,1845.6 416.3,1844.6 417.1,1844.8 417.9,1845 418.7,1844.2 419.5,1845 420.3,1844.7 421.1,1843.8 421.9,1843.9 422.7,1842.3 423.5,1843.1 424.3,1842.7 425.2,1843.1 426,1842.2 426.8,1842.9 427.6,1842.3 428.4,1842.7 429.2,1843.1 430,1843.5 430.8,1843.3 431.6,1843.3 432.4,1844.2 433.2,1843.9 434,1844.8 434.8,1843.2 435.6,1844.1 436.4,1845.5 437.2,1844.5 438,1845.1 438.8,1845 439.6,1845.2 440.4,1846.4 441.2,1845.9 442,1845.8 442.8,1845.4 443.6,1846.1 444.4,1844.9 445.2,1846.4 446,1846.4 446.8,1845.4 447.6,1846.5 448.4,1845.5 449.2,1846.7 450,1845.9 450.9,1846.4 451.7,1844.4 452.5,1846.7 453.3,1845 454.1,1845 454.9,1843.3 455.7,1844.5 456.5,1846.3 457.3,1846 458.1,1846.1 458.9,1845.1 459.7,1845.8 460.5,1846.2 461.3,1845.6 462.1,1846.8 462.9,1846.3 463.7,1846.5 464.5,1846.6 465.3,1846 466.1,1844.3 466.9,1846.5 467.7,1845.3 468.5,1845.8 469.3,1846.7 470.1,1845.8 470.9,1846.2 471.7,1846.3 472.5,1846.4 473.3,1844.8 474.1,1846.8 474.9,1845.1 475.8,1846.6 476.6,1846.8 477.4,1846.5 478.2,1844.3 479,1846.3 479.8,1845.6 480.6,1845.3 481.4,1844.8 482.2,1846.7 483,1846.5 483.8,1846.4 484.6,1845.4 485.4,1845.6 486.2,1846.3 487,1845.5 487.8,1846.2" fill="none" stroke="#16881a" stroke-width="1.0" stroke-linejoin="round" />
</g>
<rect x="86.2" y="1352.2" width="401.6" height="494.8" fill="none" stroke="#000" stroke-width="2.2"/>
<line x1="86.2" y1="1847" x2="86.2" y2="1857" stroke="#000" stroke-width="2" />
<text x="86.2" y="1880.5" font-size="21.5" text-anchor="middle" fill="#000" font-weight="normal" >400</text>
<line x1="200.9" y1="1847" x2="200.9" y2="1857" stroke="#000" stroke-width="2" />
<text x="200.9" y="1880.5" font-size="21.5" text-anchor="middle" fill="#000" font-weight="normal" >500</text>
<line x1="315.7" y1="1847" x2="315.7" y2="1857" stroke="#000" stroke-width="2" />
<text x="315.7" y="1880.5" font-size="21.5" text-anchor="middle" fill="#000" font-weight="normal" >600</text>
<line x1="430.4" y1="1847" x2="430.4" y2="1857" stroke="#000" stroke-width="2" />
<text x="430.4" y="1880.5" font-size="21.5" text-anchor="middle" fill="#000" font-weight="normal" >700</text>
<line x1="143.6" y1="1847" x2="143.6" y2="1853" stroke="#000" stroke-width="2" />
<line x1="258.3" y1="1847" x2="258.3" y2="1853" stroke="#000" stroke-width="2" />
<line x1="373.1" y1="1847" x2="373.1" y2="1853" stroke="#000" stroke-width="2" />
<line x1="487.8" y1="1847" x2="487.8" y2="1853" stroke="#000" stroke-width="2" />
<line x1="76.2" y1="1847" x2="86.2" y2="1847" stroke="#000" stroke-width="2" />
<text x="69.7" y="1853.6" font-size="21.5" text-anchor="end" fill="#000" font-weight="normal" >0</text>
<line x1="76.2" y1="1723.3" x2="86.2" y2="1723.3" stroke="#000" stroke-width="2" />
<text x="69.7" y="1729.9" font-size="21.5" text-anchor="end" fill="#000" font-weight="normal" >5</text>
<line x1="76.2" y1="1599.6" x2="86.2" y2="1599.6" stroke="#000" stroke-width="2" />
<text x="69.7" y="1606.2" font-size="21.5" text-anchor="end" fill="#000" font-weight="normal" >10</text>
<line x1="76.2" y1="1475.9" x2="86.2" y2="1475.9" stroke="#000" stroke-width="2" />
<text x="69.7" y="1482.5" font-size="21.5" text-anchor="end" fill="#000" font-weight="normal" >15</text>
<line x1="76.2" y1="1352.2" x2="86.2" y2="1352.2" stroke="#000" stroke-width="2" />
<text x="69.7" y="1358.8" font-size="21.5" text-anchor="end" fill="#000" font-weight="normal" >20</text>
<line x1="80.2" y1="1785.2" x2="86.2" y2="1785.2" stroke="#000" stroke-width="2" />
<line x1="80.2" y1="1661.5" x2="86.2" y2="1661.5" stroke="#000" stroke-width="2" />
<line x1="80.2" y1="1537.8" x2="86.2" y2="1537.8" stroke="#000" stroke-width="2" />
<line x1="80.2" y1="1414" x2="86.2" y2="1414" stroke="#000" stroke-width="2" />
<text x="287" y="1920" font-size="26.2" text-anchor="middle" fill="#000" font-weight="normal" >Wavelength (nm)</text>
<text x="0" y="0" font-size="26.2" text-anchor="middle" transform="translate(21,1586) rotate(-90)">Normalized intensity</text>
<rect x="93.1" y="1362.9" width="56.3" height="28" fill="url(#gbl)" stroke="#999" stroke-width="1"/>
<rect x="93.1" y="1397.9" width="56.3" height="28" fill="url(#ggl)" stroke="#999" stroke-width="1"/>
<text x="159.4" y="1385" font-size="26.2" text-anchor="start" fill="#000" font-weight="normal" >&#946;-LnNPs</text>
<text x="159.4" y="1420.3" font-size="26.2" text-anchor="start" fill="#000" font-weight="normal" >&#946;-LnNP@CsPbBr<tspan font-size="18.3" dy="6">3</tspan></text>
<text x="388.5" y="1475.9" font-size="26.2" text-anchor="start" fill="#000" font-weight="normal" >220 &#176;C</text>
<text x="559" y="1316" font-size="45" text-anchor="start" fill="#000" font-weight="bold" >h</text>
<rect x="559" y="1352" width="607" height="496.6" fill="none" stroke="#000" stroke-width="2.4"/>
<line x1="889" y1="1352" x2="889" y2="1848" stroke="#000" stroke-width="2.4" stroke-dasharray="14,6"/>
<line x1="653.7" y1="1440.2" x2="653.7" y2="1714.6" stroke="#000" stroke-width="3.4" />
<line x1="652" y1="1712.9" x2="658.7" y2="1712.9" stroke="#000" stroke-width="3.2" />
<text x="650.5" y="1720.4" font-size="20" text-anchor="end" fill="#000" font-weight="normal" >0</text>
<line x1="652" y1="1631.6" x2="658.7" y2="1631.6" stroke="#000" stroke-width="3.2" />
<text x="650.5" y="1639.1" font-size="20" text-anchor="end" fill="#000" font-weight="normal" >10</text>
<line x1="652" y1="1550.3" x2="658.7" y2="1550.3" stroke="#000" stroke-width="3.2" />
<text x="650.5" y="1557.8" font-size="20" text-anchor="end" fill="#000" font-weight="normal" >20</text>
<line x1="652" y1="1469" x2="658.7" y2="1469" stroke="#000" stroke-width="3.2" />
<text x="650.5" y="1476.5" font-size="20" text-anchor="end" fill="#000" font-weight="normal" >30</text>
<line x1="653.7" y1="1692.6" x2="657.2" y2="1692.6" stroke="#000" stroke-width="2.6" />
<line x1="653.7" y1="1672.2" x2="657.2" y2="1672.2" stroke="#000" stroke-width="2.6" />
<line x1="653.7" y1="1651.9" x2="657.2" y2="1651.9" stroke="#000" stroke-width="2.6" />
<line x1="653.7" y1="1611.3" x2="657.2" y2="1611.3" stroke="#000" stroke-width="2.6" />
<line x1="653.7" y1="1591" x2="657.2" y2="1591" stroke="#000" stroke-width="2.6" />
<line x1="653.7" y1="1570.6" x2="657.2" y2="1570.6" stroke="#000" stroke-width="2.6" />
<line x1="653.7" y1="1530" x2="657.2" y2="1530" stroke="#000" stroke-width="2.6" />
<line x1="653.7" y1="1509.7" x2="657.2" y2="1509.7" stroke="#000" stroke-width="2.6" />
<line x1="653.7" y1="1489.3" x2="657.2" y2="1489.3" stroke="#000" stroke-width="2.6" />
<line x1="653.7" y1="1448.7" x2="657.2" y2="1448.7" stroke="#000" stroke-width="2.6" />
<text x="0" y="0" font-size="28" text-anchor="middle" transform="translate(615.5,1590) rotate(-90)">Energy (10<tspan font-size="18" dy="-11">3</tspan><tspan dy="11"> cm</tspan><tspan font-size="18" dy="-11">-1</tspan><tspan dy="11">)</tspan></text>
<line x1="748.2" y1="1628.1" x2="809" y2="1628.1" stroke="#000" stroke-width="3.4" />
<line x1="748.2" y1="1711.2" x2="807" y2="1711.2" stroke="#000" stroke-width="3.4" />
<text x="680.5" y="1640.5" font-size="27.5"><tspan font-size="18.2" dy="-10">2</tspan><tspan dy="10">F</tspan><tspan font-size="18.2" dy="7" dx="0">5/2</tspan></text>
<text x="681.5" y="1723.5" font-size="27.5"><tspan font-size="18.2" dy="-10">2</tspan><tspan dy="10">F</tspan><tspan font-size="18.2" dy="7" dx="0">7/2</tspan></text>
<line x1="777.3" y1="1630" x2="777.3" y2="1700" stroke="#ee1111" stroke-width="2" />
<path d="M777.3,1710 L771.8,1697 L777.3,1700.2 L782.8,1697 Z" fill="#ee1111"/>
<path d="M939,1589.5 C880,1589 800,1600 776,1623" fill="none" stroke="#ee1111" stroke-width="2.6" stroke-dasharray="13,7"/>
<path d="M771,1627.5 L780.4,1615.7 L780.1,1622.2 L785.9,1625.3 Z" fill="#ee1111"/>
<text x="748.8" y="1778" font-size="31.5">Yb<tspan font-size="21.4" dy="-12">3+</tspan></text>
<polyline points="920,1412.7 921.5,1415 923,1417.2 924.5,1419.5 926,1421.8 927.5,1424 929,1426.2 930.5,1428.5 932,1430.7 933.5,1432.9 935,1435.1 936.5,1437.3 938,1439.5 939.5,1441.7 941,1443.8 942.5,1446 944,1448.1 945.5,1450.3 947,1452.4 948.5,1454.5 950,1456.6 951.5,1458.7 953,1460.7 954.5,1462.8 956,1464.8 957.5,1466.8 959,1468.8 960.5,1470.8 962,1472.8 963.5,1474.7 965,1476.7 966.5,1478.6 968,1480.5 969.5,1482.3 971,1484.2 972.5,1486 974,1487.8 975.5,1489.6 977,1491.4 978.5,1493.1 980,1494.8 981.5,1496.5 983,1498.1 984.5,1499.7 986,1501.3 987.5,1502.8 989,1504.3 990.5,1505.8 992,1507.3 993.5,1508.7 995,1510 996.5,1511.4 998,1512.6 999.5,1513.9 1001,1515.1 1002.5,1516.2 1004,1517.3 1005.5,1518.4 1007,1519.4 1008.5,1520.4 1010,1521.3 1011.5,1522.1 1013,1522.9 1014.5,1523.6 1016,1524.3 1017.5,1524.9 1019,1525.5 1020.5,1526 1022,1526.4 1023.5,1526.8 1025,1527.1 1026.5,1527.3 1028,1527.5 1029.5,1527.6 1031,1527.7 1032.5,1527.7 1034,1527.6 1035.5,1527.5 1037,1527.3 1038.5,1527 1040,1526.7 1041.5,1526.3 1043,1525.8 1044.5,1525.3 1046,1524.7 1047.5,1524.1 1049,1523.4 1050.5,1522.6 1052,1521.8 1053.5,1520.9 1055,1520 1056.5,1519 1058,1518 1059.5,1516.9 1061,1515.8 1062.5,1514.6 1064,1513.4 1065.5,1512.1 1067,1510.8 1068.5,1509.5 1070,1508.1 1071.5,1506.7 1073,1505.2 1074.5,1503.7 1076,1502.2 1077.5,1500.6 1079,1499 1080.5,1497.3 1082,1495.7 1083.5,1494 1085,1492.3 1086.5,1490.5 1088,1488.7 1089.5,1486.9 1091,1485.1 1092.5,1483.3 1094,1481.4 1095.5,1479.5 1097,1477.6 1098.5,1475.7 1100,1473.7 1101.5,1471.8 1103,1469.8 1104.5,1467.8 1106,1465.7 1107.5,1463.7 1109,1461.6 1110.5,1459.6 1112,1457.5 1113.5,1455.4 1115,1453.3 1116.5,1451.2 1118,1449 1119.5,1446.9 1121,1444.7 1122.5,1442.6 1124,1440.4 1125.5,1438.2 1127,1436 1128.5,1433.8 1130,1431.5 1131.5,1429.3 1133,1427.1 1134.5,1424.8 1136,1422.6 1137.5,1420.3 1139,1418 1140.5,1415.8 1142,1413.5" fill="none" stroke="#0e990e" stroke-width="4.4" stroke-linejoin="round" stroke-linecap="butt"/>
<polyline points="920,1811 921.5,1808.6 923,1806.2 924.5,1803.9 926,1801.5 927.5,1799.2 929,1796.9 930.5,1794.5 932,1792.2 933.5,1790 935,1787.7 936.5,1785.4 938,1783.2 939.5,1780.9 941,1778.7 942.5,1776.5 944,1774.3 945.5,1772.2 947,1770 948.5,1767.9 950,1765.7 951.5,1763.6 953,1761.6 954.5,1759.5 956,1757.5 957.5,1755.4 959,1753.4 960.5,1751.4 962,1749.5 963.5,1747.6 965,1745.6 966.5,1743.8 968,1741.9 969.5,1740 971,1738.2 972.5,1736.5 974,1734.7 975.5,1733 977,1731.3 978.5,1729.6 980,1728 981.5,1726.3 983,1724.8 984.5,1723.2 986,1721.7 987.5,1720.2 989,1718.8 990.5,1717.4 992,1716 993.5,1714.7 995,1713.4 996.5,1712.2 998,1711 999.5,1709.8 1001,1708.7 1002.5,1707.6 1004,1706.6 1005.5,1705.6 1007,1704.7 1008.5,1703.8 1010,1702.9 1011.5,1702.1 1013,1701.4 1014.5,1700.7 1016,1700 1017.5,1699.5 1019,1698.9 1020.5,1698.4 1022,1698 1023.5,1697.6 1025,1697.3 1026.5,1697 1028,1696.8 1029.5,1696.6 1031,1696.5 1032.5,1696.4 1034,1696.4 1035.5,1696.5 1037,1696.6 1038.5,1696.7 1040,1697 1041.5,1697.2 1043,1697.6 1044.5,1698 1046,1698.4 1047.5,1699 1049,1699.5 1050.5,1700.1 1052,1700.8 1053.5,1701.6 1055,1702.3 1056.5,1703.2 1058,1704.1 1059.5,1705 1061,1706 1062.5,1707 1064,1708.1 1065.5,1709.3 1067,1710.4 1068.5,1711.7 1070,1712.9 1071.5,1714.2 1073,1715.6 1074.5,1717 1076,1718.4 1077.5,1719.9 1079,1721.4 1080.5,1723 1082,1724.6 1083.5,1726.2 1085,1727.9 1086.5,1729.6 1088,1731.3 1089.5,1733.1 1091,1734.9 1092.5,1736.7 1094,1738.6 1095.5,1740.5 1097,1742.4 1098.5,1744.4 1100,1746.3 1101.5,1748.3 1103,1750.4 1104.5,1752.4 1106,1754.5 1107.5,1756.6 1109,1758.7 1110.5,1760.9 1112,1763 1113.5,1765.2 1115,1767.4 1116.5,1769.7 1118,1771.9 1119.5,1774.2 1121,1776.5 1122.5,1778.8 1124,1781.1 1125.5,1783.4 1127,1785.8 1128.5,1788.2 1130,1790.6 1131.5,1793 1133,1795.4 1134.5,1797.8 1136,1800.3 1137.5,1802.7 1139,1805.2 1140.5,1807.7 1142,1810.2" fill="none" stroke="#000" stroke-width="4.4" stroke-linejoin="round" stroke-linecap="butt"/>
<line x1="1030" y1="1523" x2="1031.9" y2="1680" stroke="#22ee22" stroke-width="3" />
<path d="M1031.9,1690.7 L1025.2,1677.2 L1031.9,1680.6 L1038.7,1677.2 Z" fill="#22ee22"/>
<polygon points="1077.5,1563.1 1101.9,1583.7 1080.9,1606.5 1087.8,1612.6 1068.2,1632.6 1073,1639.5 1037.9,1673.6 1057.5,1629.9 1053.1,1624.4 1062.4,1609.2 1071.3,1576.2" fill="#8b55b5"/>
<rect x="939.1" y="1576.9" width="176.9" height="31.8" fill="#cfe1f2" opacity="0.62"/>
<line x1="1018.2" y1="1523" x2="1018.2" y2="1570" stroke="#2e75b6" stroke-width="2.8" />
<path d="M1018.2,1578.2 L1011.2,1564.2 L1018.2,1567.7 L1025.2,1564.2 Z" fill="#2e75b6"/>
<line x1="1018.2" y1="1610" x2="1018.2" y2="1685" stroke="#2e75b6" stroke-width="2.8" />
<path d="M1018.2,1694.5 L1011.2,1680.5 L1018.2,1684 L1025.2,1680.5 Z" fill="#2e75b6"/>
<line x1="988.1" y1="1505" x2="988.1" y2="1716.4" stroke="#000" stroke-width="2" stroke-dasharray="3.5,2.5"/>
<path d="M988.1,1499.1 L992.6,1510.1 L988.1,1507.3 L983.6,1510.1 Z" fill="#000"/>
<path d="M994,1490 C1000,1500 1008,1508 1018,1512" fill="none" stroke="#000" stroke-width="2" stroke-dasharray="4.5,3"/>
<path d="M1026.8,1516.3 L1013.8,1516.4 L1018.5,1512.9 L1017.5,1507.2 Z" fill="#000"/>
<defs><radialGradient id="ball" cx="0.4" cy="0.35" r="0.7"><stop offset="0" stop-color="#777"/><stop offset="1" stop-color="#111"/></radialGradient></defs>
<circle cx="989.6" cy="1485.8" r="6.7" fill="url(#ball)"/>
<circle cx="993.4" cy="1731.7" r="6" fill="#fff" stroke="#000" stroke-width="2.4"/>
<text x="942" y="1604" font-size="32" text-anchor="start" fill="#000" font-weight="normal" >Defect state</text>
<text x="1084" y="1522" font-size="31" text-anchor="start" fill="#000" font-weight="normal" >CB</text>
<text x="1087.8" y="1718.3" font-size="31" text-anchor="start" fill="#000" font-weight="normal" >VB</text>
<text x="674.5" y="1918.5" font-size="33.5" text-anchor="start" fill="#000" font-weight="normal" >LnNP</text>
<text x="963.5" y="1918.5" font-size="33.5">CsPbBr<tspan font-size="22" dy="7">3</tspan></text>
<text x="1214" y="1316" font-size="45" text-anchor="start" fill="#000" font-weight="bold" >i</text>
<rect x="1190.5" y="1352.6" width="809.4" height="496.4" fill="none" stroke="#000" stroke-width="2.6"/>
<line x1="1735.9" y1="1352.5" x2="1735.9" y2="1849" stroke="#000" stroke-width="2.4" stroke-dasharray="14,6"/>
<line x1="1299.5" y1="1441" x2="1299.5" y2="1714.9" stroke="#000" stroke-width="3.4" />
<line x1="1297.8" y1="1713.2" x2="1304.5" y2="1713.2" stroke="#000" stroke-width="3.2" />
<text x="1294" y="1720.7" font-size="20" text-anchor="end" fill="#000" font-weight="normal" >0</text>
<line x1="1297.8" y1="1631.9" x2="1304.5" y2="1631.9" stroke="#000" stroke-width="3.2" />
<text x="1294" y="1639.4" font-size="20" text-anchor="end" fill="#000" font-weight="normal" >10</text>
<line x1="1297.8" y1="1550.6" x2="1304.5" y2="1550.6" stroke="#000" stroke-width="3.2" />
<text x="1294" y="1558.1" font-size="20" text-anchor="end" fill="#000" font-weight="normal" >20</text>
<line x1="1297.8" y1="1469.3" x2="1304.5" y2="1469.3" stroke="#000" stroke-width="3.2" />
<text x="1294" y="1476.8" font-size="20" text-anchor="end" fill="#000" font-weight="normal" >30</text>
<line x1="1299.5" y1="1692.9" x2="1303" y2="1692.9" stroke="#000" stroke-width="2.6" />
<line x1="1299.5" y1="1672.5" x2="1303" y2="1672.5" stroke="#000" stroke-width="2.6" />
<line x1="1299.5" y1="1652.2" x2="1303" y2="1652.2" stroke="#000" stroke-width="2.6" />
<line x1="1299.5" y1="1611.6" x2="1303" y2="1611.6" stroke="#000" stroke-width="2.6" />
<line x1="1299.5" y1="1591.2" x2="1303" y2="1591.2" stroke="#000" stroke-width="2.6" />
<line x1="1299.5" y1="1570.9" x2="1303" y2="1570.9" stroke="#000" stroke-width="2.6" />
<line x1="1299.5" y1="1530.3" x2="1303" y2="1530.3" stroke="#000" stroke-width="2.6" />
<line x1="1299.5" y1="1510" x2="1303" y2="1510" stroke="#000" stroke-width="2.6" />
<line x1="1299.5" y1="1489.6" x2="1303" y2="1489.6" stroke="#000" stroke-width="2.6" />
<line x1="1299.5" y1="1449" x2="1303" y2="1449" stroke="#000" stroke-width="2.6" />
<text x="0" y="0" font-size="28" text-anchor="middle" transform="translate(1263.8,1591.5) rotate(-90)">Energy (10<tspan font-size="18" dy="-11">3</tspan><tspan dy="11"> cm</tspan><tspan font-size="18" dy="-11">-1</tspan><tspan dy="11">)</tspan></text>
<line x1="1404.6" y1="1631.2" x2="1475.8" y2="1631.2" stroke="#000" stroke-width="3.3" />
<line x1="1401.2" y1="1712.9" x2="1473" y2="1712.9" stroke="#000" stroke-width="3.3" />
<text x="1324.5" y="1641.2" font-size="27.5"><tspan font-size="18.2" dy="-10">2</tspan><tspan dy="10">F</tspan><tspan font-size="18.2" dy="7" dx="1">5/2</tspan></text>
<text x="1324.5" y="1717.4" font-size="27.5"><tspan font-size="18.2" dy="-10">2</tspan><tspan dy="10">F</tspan><tspan font-size="18.2" dy="7" dx="1">7/2</tspan></text>
<text x="1417.9" y="1769.1" font-size="31.5">Yb<tspan font-size="21.4" dy="-12">3+</tspan></text>
<text x="1584.3" y="1769.1" font-size="31.5">Tm<tspan font-size="21.4" dy="-12">3+</tspan></text>
<polygon points="1364,1600 1385.7,1582.2 1396.8,1610 1392.3,1614.5 1406.2,1638.4 1401.2,1642.8 1419.6,1683.4 1389.6,1651.7 1395.1,1647.3 1376.8,1627.3 1382.9,1621.7" fill="#c00000"/>
<line x1="1425.4" y1="1712" x2="1425.4" y2="1642" stroke="#000" stroke-width="2.4" stroke-dasharray="11,6.7"/>
<path d="M1425.4,1633.4 L1432.4,1644.9 L1425.4,1642 L1418.4,1644.9 Z" fill="#000"/>
<line x1="1451.3" y1="1632" x2="1451.3" y2="1702" stroke="#000" stroke-width="2.4" stroke-dasharray="11,6.7"/>
<path d="M1451.3,1711.8 L1444.3,1699.3 L1451.3,1702.4 L1458.3,1699.3 Z" fill="#000"/>
<line x1="1543.5" y1="1486.7" x2="1650.7" y2="1486.7" stroke="#000" stroke-width="3" />
<line x1="1543.5" y1="1534.3" x2="1650.7" y2="1534.3" stroke="#000" stroke-width="3" />
<line x1="1543.5" y1="1587.1" x2="1650.7" y2="1587.1" stroke="#000" stroke-width="3" />
<line x1="1543.5" y1="1592.6" x2="1650.7" y2="1592.6" stroke="#000" stroke-width="3" />
<line x1="1543.5" y1="1609" x2="1650.7" y2="1609" stroke="#000" stroke-width="3" />
<line x1="1543.5" y1="1640.8" x2="1650.7" y2="1640.8" stroke="#000" stroke-width="3" />
<line x1="1543.5" y1="1665.7" x2="1650.7" y2="1665.7" stroke="#000" stroke-width="3" />
<line x1="1543.5" y1="1712.6" x2="1650.7" y2="1712.6" stroke="#000" stroke-width="3" />
<text x="1663.4" y="1506.9" font-size="22.5"><tspan font-size="16" dy="-10">1</tspan><tspan dy="10">D</tspan><tspan font-size="16" dy="7" dx="1">2</tspan></text>
<text x="1663.4" y="1549" font-size="22.5"><tspan font-size="16" dy="-10">1</tspan><tspan dy="10">G</tspan><tspan font-size="16" dy="7" dx="1">4</tspan></text>
<text x="1663.4" y="1594.2" font-size="22.5"><tspan font-size="16" dy="-9">3</tspan><tspan dy="9">F</tspan><tspan font-size="16" dy="6" dx="1">2,3</tspan></text>
<text x="1659.5" y="1613.3" font-size="22.5"><tspan font-size="16" dy="-10">3</tspan><tspan dy="10">H</tspan><tspan font-size="16" dy="7" dx="1">4</tspan></text>
<text x="1659.5" y="1644.3" font-size="22.5"><tspan font-size="16" dy="-10">3</tspan><tspan dy="10">H</tspan><tspan font-size="16" dy="7" dx="1">5</tspan></text>
<text x="1660.3" y="1678.4" font-size="22.5"><tspan font-size="16" dy="-10">3</tspan><tspan dy="10">F</tspan><tspan font-size="16" dy="7" dx="1">4</tspan></text>
<text x="1663.4" y="1728.5" font-size="22.5"><tspan font-size="16" dy="-10">3</tspan><tspan dy="10">H</tspan><tspan font-size="16" dy="7" dx="1">6</tspan></text>
<line x1="1558.6" y1="1712" x2="1558.6" y2="1649.8" stroke="#000" stroke-width="2" stroke-dasharray="5,3"/>
<path d="M1558.6,1640.8 L1565.1,1652.8 L1558.6,1649.8 L1552.1,1652.8 Z" fill="#000"/>
<line x1="1568.1" y1="1640.8" x2="1568.1" y2="1601.6" stroke="#000" stroke-width="2" stroke-dasharray="5,3"/>
<path d="M1568.1,1592.6 L1574.6,1604.6 L1568.1,1601.6 L1561.6,1604.6 Z" fill="#000"/>
<line x1="1579.2" y1="1587" x2="1579.2" y2="1543.3" stroke="#000" stroke-width="2" stroke-dasharray="5,3"/>
<path d="M1579.2,1534.3 L1585.7,1546.3 L1579.2,1543.3 L1572.7,1546.3 Z" fill="#000"/>
<line x1="1592" y1="1534.3" x2="1592" y2="1495.7" stroke="#000" stroke-width="2" stroke-dasharray="5,3"/>
<path d="M1592,1486.7 L1598.5,1498.7 L1592,1495.7 L1585.5,1498.7 Z" fill="#000"/>
<path d="M1453,1628 C1460,1600 1480,1592 1498,1596 C1520,1600 1540,1615 1552,1628" fill="none" stroke="#000" stroke-width="2.3" stroke-dasharray="13,7"/>
<path d="M1559.4,1637.1 L1546.2,1631.5 L1552.9,1629.9 L1555.2,1623.4 Z" fill="#000"/>
<path d="M1453,1628 C1460,1560 1485,1530 1502,1536 C1525,1545 1540,1565 1551,1574" fill="none" stroke="#000" stroke-width="2.3" stroke-dasharray="13,7"/>
<path d="M1558.6,1582.3 L1545.4,1576.7 L1552.1,1575.1 L1554.4,1568.6 Z" fill="#000"/>
<path d="M1453,1628 C1455,1520 1478,1480 1498,1488 C1522,1496 1540,1512 1552,1523" fill="none" stroke="#000" stroke-width="2.3" stroke-dasharray="13,7"/>
<path d="M1560.2,1531.5 L1547,1525.9 L1553.7,1524.3 L1556,1517.8 Z" fill="#000"/>
<path d="M1453,1628 C1453,1480 1475,1420 1500,1432 C1525,1444 1545,1460 1557,1472" fill="none" stroke="#000" stroke-width="2.3" stroke-dasharray="13,7"/>
<path d="M1564.2,1481.4 L1551.5,1474.8 L1558.2,1473.7 L1560.9,1467.5 Z" fill="#000"/>
<path d="M1595,1482 C1630,1440 1665,1425 1697,1426 C1760,1428 1820,1475 1860,1508" fill="none" stroke="#000" stroke-width="2.3" stroke-dasharray="13,7"/>
<path d="M1869,1515 L1855.1,1511.7 L1861.3,1509 L1862.4,1502.3 Z" fill="#000"/>
<polyline points="1758.1,1413.7 1759.6,1416 1761.1,1418.3 1762.6,1420.6 1764.1,1422.9 1765.6,1425.2 1767.1,1427.5 1768.6,1429.8 1770.1,1432 1771.6,1434.3 1773.1,1436.5 1774.6,1438.8 1776.1,1441 1777.6,1443.2 1779.1,1445.4 1780.6,1447.6 1782.1,1449.8 1783.6,1451.9 1785.1,1454.1 1786.6,1456.2 1788.1,1458.3 1789.6,1460.4 1791.1,1462.5 1792.6,1464.6 1794.1,1466.7 1795.6,1468.7 1797.1,1470.7 1798.6,1472.7 1800.1,1474.7 1801.6,1476.7 1803.1,1478.6 1804.6,1480.6 1806.1,1482.5 1807.6,1484.3 1809.1,1486.2 1810.6,1488 1812.1,1489.8 1813.6,1491.6 1815.1,1493.4 1816.6,1495.1 1818.1,1496.8 1819.6,1498.5 1821.1,1500.1 1822.6,1501.7 1824.1,1503.2 1825.6,1504.8 1827.1,1506.3 1828.6,1507.7 1830.1,1509.1 1831.6,1510.5 1833.1,1511.8 1834.6,1513.1 1836.1,1514.3 1837.6,1515.5 1839.1,1516.7 1840.6,1517.8 1842.1,1518.8 1843.6,1519.8 1845.1,1520.7 1846.6,1521.6 1848.1,1522.5 1849.6,1523.2 1851.1,1523.9 1852.6,1524.6 1854.1,1525.2 1855.6,1525.7 1857.1,1526.2 1858.6,1526.6 1860.1,1526.9 1861.6,1527.2 1863.1,1527.4 1864.6,1527.5 1866.1,1527.6 1867.6,1527.6 1869.1,1527.5 1870.6,1527.4 1872.1,1527.2 1873.6,1527 1875.1,1526.7 1876.6,1526.3 1878.1,1525.9 1879.6,1525.4 1881.1,1524.9 1882.6,1524.3 1884.1,1523.6 1885.6,1522.9 1887.1,1522.1 1888.6,1521.3 1890.1,1520.4 1891.6,1519.5 1893.1,1518.5 1894.6,1517.5 1896.1,1516.4 1897.6,1515.3 1899.1,1514.1 1900.6,1512.9 1902.1,1511.7 1903.6,1510.4 1905.1,1509.1 1906.6,1507.7 1908.1,1506.3 1909.6,1504.9 1911.1,1503.4 1912.6,1501.9 1914.1,1500.4 1915.6,1498.8 1917.1,1497.2 1918.6,1495.6 1920.1,1494 1921.6,1492.3 1923.1,1490.6 1924.6,1488.9 1926.1,1487.1 1927.6,1485.3 1929.1,1483.5 1930.6,1481.7 1932.1,1479.9 1933.6,1478 1935.1,1476.2 1936.6,1474.3 1938.1,1472.4 1939.6,1470.4 1941.1,1468.5 1942.6,1466.5 1944.1,1464.6 1945.6,1462.6 1947.1,1460.6 1948.6,1458.6 1950.1,1456.5 1951.6,1454.5 1953.1,1452.4 1954.6,1450.4 1956.1,1448.3 1957.6,1446.2 1959.1,1444.1 1960.6,1442 1962.1,1439.9 1963.6,1437.8 1965.1,1435.6 1966.6,1433.5 1968.1,1431.3 1969.6,1429.2 1971.1,1427 1972.6,1424.8 1974.1,1422.7 1975.6,1420.5 1977.1,1418.3 1978.6,1416.1 1980.1,1413.8" fill="none" stroke="#0e990e" stroke-width="4.4" stroke-linejoin="round" stroke-linecap="butt"/>
<polyline points="1758.1,1810.4 1759.6,1807.9 1761.1,1805.5 1762.6,1803 1764.1,1800.6 1765.6,1798.2 1767.1,1795.7 1768.6,1793.3 1770.1,1791 1771.6,1788.6 1773.1,1786.2 1774.6,1783.9 1776.1,1781.6 1777.6,1779.3 1779.1,1777 1780.6,1774.7 1782.1,1772.5 1783.6,1770.2 1785.1,1768 1786.6,1765.8 1788.1,1763.6 1789.6,1761.5 1791.1,1759.4 1792.6,1757.2 1794.1,1755.2 1795.6,1753.1 1797.1,1751 1798.6,1749 1800.1,1747 1801.6,1745.1 1803.1,1743.1 1804.6,1741.2 1806.1,1739.3 1807.6,1737.5 1809.1,1735.6 1810.6,1733.8 1812.1,1732.1 1813.6,1730.3 1815.1,1728.6 1816.6,1727 1818.1,1725.3 1819.6,1723.7 1821.1,1722.2 1822.6,1720.6 1824.1,1719.2 1825.6,1717.7 1827.1,1716.3 1828.6,1714.9 1830.1,1713.6 1831.6,1712.3 1833.1,1711.1 1834.6,1709.9 1836.1,1708.7 1837.6,1707.6 1839.1,1706.6 1840.6,1705.6 1842.1,1704.6 1843.6,1703.7 1845.1,1702.9 1846.6,1702.1 1848.1,1701.3 1849.6,1700.6 1851.1,1699.9 1852.6,1699.4 1854.1,1698.8 1855.6,1698.3 1857.1,1697.9 1858.6,1697.5 1860.1,1697.2 1861.6,1697 1863.1,1696.8 1864.6,1696.6 1866.1,1696.5 1867.6,1696.5 1869.1,1696.5 1870.6,1696.6 1872.1,1696.7 1873.6,1696.9 1875.1,1697.2 1876.6,1697.5 1878.1,1697.8 1879.6,1698.3 1881.1,1698.7 1882.6,1699.2 1884.1,1699.8 1885.6,1700.4 1887.1,1701.1 1888.6,1701.8 1890.1,1702.6 1891.6,1703.4 1893.1,1704.3 1894.6,1705.2 1896.1,1706.2 1897.6,1707.2 1899.1,1708.2 1900.6,1709.3 1902.1,1710.5 1903.6,1711.6 1905.1,1712.9 1906.6,1714.1 1908.1,1715.4 1909.6,1716.8 1911.1,1718.2 1912.6,1719.6 1914.1,1721.1 1915.6,1722.6 1917.1,1724.1 1918.6,1725.6 1920.1,1727.2 1921.6,1728.9 1923.1,1730.5 1924.6,1732.2 1926.1,1733.9 1927.6,1735.7 1929.1,1737.5 1930.6,1739.3 1932.1,1741.1 1933.6,1743 1935.1,1744.8 1936.6,1746.8 1938.1,1748.7 1939.6,1750.6 1941.1,1752.6 1942.6,1754.6 1944.1,1756.6 1945.6,1758.7 1947.1,1760.7 1948.6,1762.8 1950.1,1764.9 1951.6,1767 1953.1,1769.2 1954.6,1771.3 1956.1,1773.5 1957.6,1775.7 1959.1,1777.9 1960.6,1780.1 1962.1,1782.4 1963.6,1784.6 1965.1,1786.9 1966.6,1789.2 1968.1,1791.4 1969.6,1793.8 1971.1,1796.1 1972.6,1798.4 1974.1,1800.7 1975.6,1803.1 1977.1,1805.5 1978.6,1807.9 1980.1,1810.2" fill="none" stroke="#000" stroke-width="4.4" stroke-linejoin="round" stroke-linecap="butt"/>
<line x1="1867" y1="1530" x2="1868.5" y2="1680" stroke="#22ee22" stroke-width="3" />
<path d="M1869,1693 L1862.2,1679.5 L1869,1682.9 L1875.8,1679.5 Z" fill="#22ee22"/>
<text x="1926.5" y="1522.6" font-size="31" text-anchor="start" fill="#000" font-weight="normal" >CB</text>
<text x="1929.9" y="1719.1" font-size="31" text-anchor="start" fill="#000" font-weight="normal" >VB</text>
<text x="1453" y="1917.5" font-size="33.5" text-anchor="start" fill="#000" font-weight="normal" >LnNP</text>
<text x="1809" y="1917.5" font-size="33.5">CsPbBr<tspan font-size="22" dy="7">3</tspan></text>
</svg></body></html>
